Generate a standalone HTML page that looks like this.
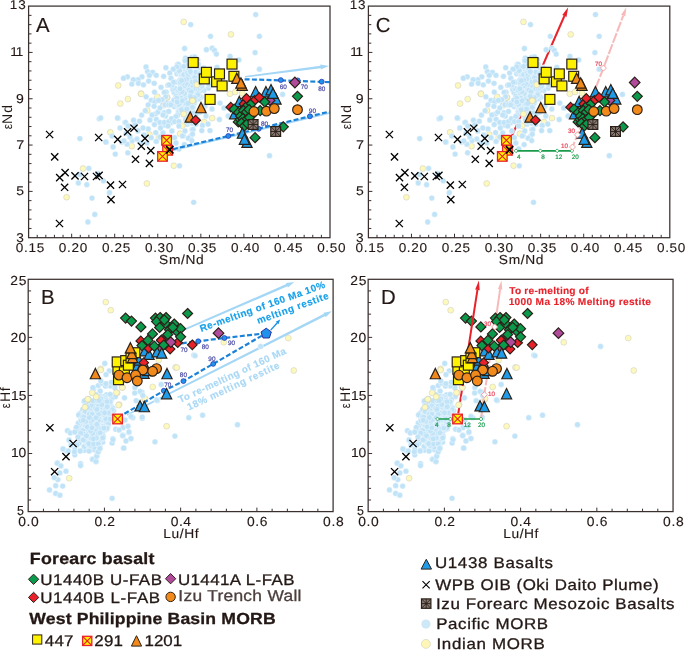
<!DOCTYPE html>
<html><head><meta charset="utf-8"><title>figure</title>
<style>html,body{margin:0;padding:0;background:#fff}svg{display:block;will-change:transform;opacity:.999}text{font-family:"Liberation Sans",sans-serif;text-rendering:geometricPrecision}</style>
</head><body>
<svg width="685" height="650" viewBox="0 0 685 650">
<rect width="685" height="650" fill="#ffffff"/>
<g transform="translate(0 0)">
<path d="M245.09 77.49L320.73 68.32L320.89 69.56L329 66L320.25 64.6L320.41 65.84L244.91 76.11Z" fill="#a4d6f6"/>
<path d="M172.5 150.2L330 112.9" stroke="#a4d6f6" stroke-width="2.0" fill="none" stroke-linecap="butt"/>
<circle cx="184.31" cy="66.86" r="2.9" fill="#c0e3f8" stroke="#ffffff" stroke-width="0.4"/>
<circle cx="196.74" cy="61.22" r="2.9" fill="#c0e3f8" stroke="#ffffff" stroke-width="0.4"/>
<circle cx="192.36" cy="82.33" r="2.9" fill="#c0e3f8" stroke="#ffffff" stroke-width="0.4"/>
<circle cx="174.2" cy="92.54" r="2.9" fill="#c0e3f8" stroke="#ffffff" stroke-width="0.4"/>
<circle cx="173.42" cy="87.22" r="2.9" fill="#c0e3f8" stroke="#ffffff" stroke-width="0.4"/>
<circle cx="188.13" cy="115.53" r="2.9" fill="#c0e3f8" stroke="#ffffff" stroke-width="0.4"/>
<circle cx="176.7" cy="72.07" r="2.9" fill="#c0e3f8" stroke="#ffffff" stroke-width="0.4"/>
<circle cx="195.84" cy="124.24" r="2.9" fill="#c0e3f8" stroke="#ffffff" stroke-width="0.4"/>
<circle cx="193.93" cy="84.56" r="2.9" fill="#c0e3f8" stroke="#ffffff" stroke-width="0.4"/>
<circle cx="204.62" cy="76.85" r="2.9" fill="#c0e3f8" stroke="#ffffff" stroke-width="0.4"/>
<circle cx="177.48" cy="64.48" r="2.9" fill="#c0e3f8" stroke="#ffffff" stroke-width="0.4"/>
<circle cx="183.72" cy="114.76" r="2.9" fill="#c0e3f8" stroke="#ffffff" stroke-width="0.4"/>
<circle cx="178.87" cy="97.88" r="2.9" fill="#c0e3f8" stroke="#ffffff" stroke-width="0.4"/>
<circle cx="196.28" cy="82.81" r="2.9" fill="#c0e3f8" stroke="#ffffff" stroke-width="0.4"/>
<circle cx="192.81" cy="60.52" r="2.9" fill="#c0e3f8" stroke="#ffffff" stroke-width="0.4"/>
<circle cx="197.86" cy="86.79" r="2.9" fill="#c0e3f8" stroke="#ffffff" stroke-width="0.4"/>
<circle cx="183.94" cy="98.16" r="2.9" fill="#c0e3f8" stroke="#ffffff" stroke-width="0.4"/>
<circle cx="189.22" cy="77.58" r="2.9" fill="#c0e3f8" stroke="#ffffff" stroke-width="0.4"/>
<circle cx="202.19" cy="106.33" r="2.9" fill="#c0e3f8" stroke="#ffffff" stroke-width="0.4"/>
<circle cx="181.28" cy="97.36" r="2.9" fill="#c0e3f8" stroke="#ffffff" stroke-width="0.4"/>
<circle cx="191.96" cy="119.01" r="2.9" fill="#c0e3f8" stroke="#ffffff" stroke-width="0.4"/>
<circle cx="199.72" cy="76.73" r="2.9" fill="#c0e3f8" stroke="#ffffff" stroke-width="0.4"/>
<circle cx="187.89" cy="110.51" r="2.9" fill="#c0e3f8" stroke="#ffffff" stroke-width="0.4"/>
<circle cx="177.78" cy="91.21" r="2.9" fill="#c0e3f8" stroke="#ffffff" stroke-width="0.4"/>
<circle cx="173.49" cy="104.11" r="2.9" fill="#c0e3f8" stroke="#ffffff" stroke-width="0.4"/>
<circle cx="201.05" cy="97.26" r="2.9" fill="#c0e3f8" stroke="#ffffff" stroke-width="0.4"/>
<circle cx="205.27" cy="78.59" r="2.9" fill="#c0e3f8" stroke="#ffffff" stroke-width="0.4"/>
<circle cx="198.42" cy="98.79" r="2.9" fill="#c0e3f8" stroke="#ffffff" stroke-width="0.4"/>
<circle cx="194.04" cy="88.85" r="2.9" fill="#c0e3f8" stroke="#ffffff" stroke-width="0.4"/>
<circle cx="190.02" cy="103.82" r="2.9" fill="#c0e3f8" stroke="#ffffff" stroke-width="0.4"/>
<circle cx="174.31" cy="106.51" r="2.9" fill="#c0e3f8" stroke="#ffffff" stroke-width="0.4"/>
<circle cx="203.23" cy="76.49" r="2.9" fill="#c0e3f8" stroke="#ffffff" stroke-width="0.4"/>
<circle cx="186.66" cy="104.14" r="2.9" fill="#c0e3f8" stroke="#ffffff" stroke-width="0.4"/>
<circle cx="172.86" cy="89.24" r="2.9" fill="#c0e3f8" stroke="#ffffff" stroke-width="0.4"/>
<circle cx="178.39" cy="64.43" r="2.9" fill="#c0e3f8" stroke="#ffffff" stroke-width="0.4"/>
<circle cx="176.91" cy="73.83" r="2.9" fill="#c0e3f8" stroke="#ffffff" stroke-width="0.4"/>
<circle cx="186.86" cy="118.74" r="2.9" fill="#c0e3f8" stroke="#ffffff" stroke-width="0.4"/>
<circle cx="175.06" cy="88.34" r="2.9" fill="#c0e3f8" stroke="#ffffff" stroke-width="0.4"/>
<circle cx="192.88" cy="119.6" r="2.9" fill="#c0e3f8" stroke="#ffffff" stroke-width="0.4"/>
<circle cx="182.58" cy="85.9" r="2.9" fill="#c0e3f8" stroke="#ffffff" stroke-width="0.4"/>
<circle cx="185.63" cy="119.66" r="2.9" fill="#c0e3f8" stroke="#ffffff" stroke-width="0.4"/>
<circle cx="178.7" cy="72.7" r="2.9" fill="#c0e3f8" stroke="#ffffff" stroke-width="0.4"/>
<circle cx="180.87" cy="90.92" r="2.9" fill="#c0e3f8" stroke="#ffffff" stroke-width="0.4"/>
<circle cx="194.39" cy="74.92" r="2.9" fill="#c0e3f8" stroke="#ffffff" stroke-width="0.4"/>
<circle cx="172.16" cy="86.16" r="2.9" fill="#c0e3f8" stroke="#ffffff" stroke-width="0.4"/>
<circle cx="186.03" cy="96.78" r="2.9" fill="#c0e3f8" stroke="#ffffff" stroke-width="0.4"/>
<circle cx="191.59" cy="100.47" r="2.9" fill="#c0e3f8" stroke="#ffffff" stroke-width="0.4"/>
<circle cx="197.7" cy="59.89" r="2.9" fill="#c0e3f8" stroke="#ffffff" stroke-width="0.4"/>
<circle cx="186.91" cy="84.73" r="2.9" fill="#c0e3f8" stroke="#ffffff" stroke-width="0.4"/>
<circle cx="175.93" cy="101.67" r="2.9" fill="#c0e3f8" stroke="#ffffff" stroke-width="0.4"/>
<circle cx="179.93" cy="67.69" r="2.9" fill="#c0e3f8" stroke="#ffffff" stroke-width="0.4"/>
<circle cx="184.92" cy="59.79" r="2.9" fill="#c0e3f8" stroke="#ffffff" stroke-width="0.4"/>
<circle cx="175.86" cy="82.18" r="2.9" fill="#c0e3f8" stroke="#ffffff" stroke-width="0.4"/>
<circle cx="195.33" cy="66.7" r="2.9" fill="#c0e3f8" stroke="#ffffff" stroke-width="0.4"/>
<circle cx="181.59" cy="81.01" r="2.9" fill="#c0e3f8" stroke="#ffffff" stroke-width="0.4"/>
<circle cx="185.84" cy="64.84" r="2.9" fill="#c0e3f8" stroke="#ffffff" stroke-width="0.4"/>
<circle cx="189.71" cy="90.84" r="2.9" fill="#c0e3f8" stroke="#ffffff" stroke-width="0.4"/>
<circle cx="185.02" cy="75.06" r="2.9" fill="#c0e3f8" stroke="#ffffff" stroke-width="0.4"/>
<circle cx="203.5" cy="67.62" r="2.9" fill="#c0e3f8" stroke="#ffffff" stroke-width="0.4"/>
<circle cx="192.07" cy="66.56" r="2.9" fill="#c0e3f8" stroke="#ffffff" stroke-width="0.4"/>
<circle cx="192.64" cy="57.95" r="2.9" fill="#c0e3f8" stroke="#ffffff" stroke-width="0.4"/>
<circle cx="204.81" cy="106.13" r="2.9" fill="#c0e3f8" stroke="#ffffff" stroke-width="0.4"/>
<circle cx="181.92" cy="82.4" r="2.9" fill="#c0e3f8" stroke="#ffffff" stroke-width="0.4"/>
<circle cx="178.35" cy="111.58" r="2.9" fill="#c0e3f8" stroke="#ffffff" stroke-width="0.4"/>
<circle cx="192.24" cy="112.09" r="2.9" fill="#c0e3f8" stroke="#ffffff" stroke-width="0.4"/>
<circle cx="184.53" cy="72.06" r="2.9" fill="#c0e3f8" stroke="#ffffff" stroke-width="0.4"/>
<circle cx="203.1" cy="109.27" r="2.9" fill="#c0e3f8" stroke="#ffffff" stroke-width="0.4"/>
<circle cx="180.62" cy="93.27" r="2.9" fill="#c0e3f8" stroke="#ffffff" stroke-width="0.4"/>
<circle cx="185.51" cy="58.09" r="2.9" fill="#c0e3f8" stroke="#ffffff" stroke-width="0.4"/>
<circle cx="181.85" cy="105.86" r="2.9" fill="#c0e3f8" stroke="#ffffff" stroke-width="0.4"/>
<circle cx="208.35" cy="88.2" r="2.9" fill="#c0e3f8" stroke="#ffffff" stroke-width="0.4"/>
<circle cx="208.29" cy="82.25" r="2.9" fill="#c0e3f8" stroke="#ffffff" stroke-width="0.4"/>
<circle cx="180.38" cy="72.33" r="2.9" fill="#c0e3f8" stroke="#ffffff" stroke-width="0.4"/>
<circle cx="179.47" cy="70.71" r="2.9" fill="#c0e3f8" stroke="#ffffff" stroke-width="0.4"/>
<circle cx="195.71" cy="120.82" r="2.9" fill="#c0e3f8" stroke="#ffffff" stroke-width="0.4"/>
<circle cx="203.94" cy="90.52" r="2.9" fill="#c0e3f8" stroke="#ffffff" stroke-width="0.4"/>
<circle cx="196.81" cy="113.57" r="2.9" fill="#c0e3f8" stroke="#ffffff" stroke-width="0.4"/>
<circle cx="175.22" cy="103.56" r="2.9" fill="#c0e3f8" stroke="#ffffff" stroke-width="0.4"/>
<circle cx="200.51" cy="90.42" r="2.9" fill="#c0e3f8" stroke="#ffffff" stroke-width="0.4"/>
<circle cx="178.78" cy="112.82" r="2.9" fill="#c0e3f8" stroke="#ffffff" stroke-width="0.4"/>
<circle cx="184.64" cy="113.66" r="2.9" fill="#c0e3f8" stroke="#ffffff" stroke-width="0.4"/>
<circle cx="208.92" cy="84.5" r="2.9" fill="#c0e3f8" stroke="#ffffff" stroke-width="0.4"/>
<circle cx="187.25" cy="124.17" r="2.9" fill="#c0e3f8" stroke="#ffffff" stroke-width="0.4"/>
<circle cx="199.54" cy="68.24" r="2.9" fill="#c0e3f8" stroke="#ffffff" stroke-width="0.4"/>
<circle cx="176.83" cy="66.88" r="2.9" fill="#c0e3f8" stroke="#ffffff" stroke-width="0.4"/>
<circle cx="177.55" cy="115.51" r="2.9" fill="#c0e3f8" stroke="#ffffff" stroke-width="0.4"/>
<circle cx="185.32" cy="95.5" r="2.9" fill="#c0e3f8" stroke="#ffffff" stroke-width="0.4"/>
<circle cx="192.01" cy="123.22" r="2.9" fill="#c0e3f8" stroke="#ffffff" stroke-width="0.4"/>
<circle cx="188.48" cy="118.77" r="2.9" fill="#c0e3f8" stroke="#ffffff" stroke-width="0.4"/>
<circle cx="203.39" cy="71.2" r="2.9" fill="#c0e3f8" stroke="#ffffff" stroke-width="0.4"/>
<circle cx="181.57" cy="77.09" r="2.9" fill="#c0e3f8" stroke="#ffffff" stroke-width="0.4"/>
<circle cx="181.14" cy="98.22" r="2.9" fill="#c0e3f8" stroke="#ffffff" stroke-width="0.4"/>
<circle cx="181.86" cy="86.17" r="2.9" fill="#c0e3f8" stroke="#ffffff" stroke-width="0.4"/>
<circle cx="185.44" cy="88.99" r="2.9" fill="#c0e3f8" stroke="#ffffff" stroke-width="0.4"/>
<circle cx="194.17" cy="121.11" r="2.9" fill="#c0e3f8" stroke="#ffffff" stroke-width="0.4"/>
<circle cx="187.98" cy="122.08" r="2.9" fill="#c0e3f8" stroke="#ffffff" stroke-width="0.4"/>
<circle cx="191.06" cy="94.29" r="2.9" fill="#c0e3f8" stroke="#ffffff" stroke-width="0.4"/>
<circle cx="191.89" cy="57.35" r="2.9" fill="#c0e3f8" stroke="#ffffff" stroke-width="0.4"/>
<circle cx="188.72" cy="69.18" r="2.9" fill="#c0e3f8" stroke="#ffffff" stroke-width="0.4"/>
<circle cx="178.55" cy="90.09" r="2.9" fill="#c0e3f8" stroke="#ffffff" stroke-width="0.4"/>
<circle cx="199.56" cy="96.07" r="2.9" fill="#c0e3f8" stroke="#ffffff" stroke-width="0.4"/>
<circle cx="184.39" cy="93.32" r="2.9" fill="#c0e3f8" stroke="#ffffff" stroke-width="0.4"/>
<circle cx="193.11" cy="112.47" r="2.9" fill="#c0e3f8" stroke="#ffffff" stroke-width="0.4"/>
<circle cx="176.03" cy="96.34" r="2.9" fill="#c0e3f8" stroke="#ffffff" stroke-width="0.4"/>
<circle cx="181.44" cy="75.94" r="2.9" fill="#c0e3f8" stroke="#ffffff" stroke-width="0.4"/>
<circle cx="170.53" cy="103.39" r="2.9" fill="#c0e3f8" stroke="#ffffff" stroke-width="0.4"/>
<circle cx="165.48" cy="116" r="2.9" fill="#c0e3f8" stroke="#ffffff" stroke-width="0.4"/>
<circle cx="173.9" cy="100.16" r="2.9" fill="#c0e3f8" stroke="#ffffff" stroke-width="0.4"/>
<circle cx="166.7" cy="103.28" r="2.9" fill="#c0e3f8" stroke="#ffffff" stroke-width="0.4"/>
<circle cx="164.29" cy="112.64" r="2.9" fill="#c0e3f8" stroke="#ffffff" stroke-width="0.4"/>
<circle cx="162.86" cy="104.66" r="2.9" fill="#c0e3f8" stroke="#ffffff" stroke-width="0.4"/>
<circle cx="163.47" cy="125.08" r="2.9" fill="#c0e3f8" stroke="#ffffff" stroke-width="0.4"/>
<circle cx="168.78" cy="121.83" r="2.9" fill="#c0e3f8" stroke="#ffffff" stroke-width="0.4"/>
<circle cx="165.43" cy="125.16" r="2.9" fill="#c0e3f8" stroke="#ffffff" stroke-width="0.4"/>
<circle cx="172.16" cy="84.86" r="2.9" fill="#c0e3f8" stroke="#ffffff" stroke-width="0.4"/>
<circle cx="154.92" cy="100.11" r="2.9" fill="#c0e3f8" stroke="#ffffff" stroke-width="0.4"/>
<circle cx="170.81" cy="122.85" r="2.9" fill="#c0e3f8" stroke="#ffffff" stroke-width="0.4"/>
<circle cx="155.71" cy="113.81" r="2.9" fill="#c0e3f8" stroke="#ffffff" stroke-width="0.4"/>
<circle cx="167.85" cy="85.15" r="2.9" fill="#c0e3f8" stroke="#ffffff" stroke-width="0.4"/>
<circle cx="182.37" cy="110.58" r="2.9" fill="#c0e3f8" stroke="#ffffff" stroke-width="0.4"/>
<circle cx="187.55" cy="86.85" r="2.9" fill="#c0e3f8" stroke="#ffffff" stroke-width="0.4"/>
<circle cx="180.68" cy="84.01" r="2.9" fill="#c0e3f8" stroke="#ffffff" stroke-width="0.4"/>
<circle cx="190.95" cy="79.29" r="2.9" fill="#c0e3f8" stroke="#ffffff" stroke-width="0.4"/>
<circle cx="181.68" cy="78.24" r="2.9" fill="#c0e3f8" stroke="#ffffff" stroke-width="0.4"/>
<circle cx="196.94" cy="62.99" r="2.9" fill="#c0e3f8" stroke="#ffffff" stroke-width="0.4"/>
<circle cx="192.07" cy="84.46" r="2.9" fill="#c0e3f8" stroke="#ffffff" stroke-width="0.4"/>
<circle cx="194.09" cy="88.13" r="2.9" fill="#c0e3f8" stroke="#ffffff" stroke-width="0.4"/>
<circle cx="177.15" cy="101.73" r="2.9" fill="#c0e3f8" stroke="#ffffff" stroke-width="0.4"/>
<circle cx="188.25" cy="108.48" r="2.9" fill="#c0e3f8" stroke="#ffffff" stroke-width="0.4"/>
<circle cx="199.75" cy="75.19" r="2.9" fill="#c0e3f8" stroke="#ffffff" stroke-width="0.4"/>
<circle cx="180.33" cy="108.88" r="2.9" fill="#c0e3f8" stroke="#ffffff" stroke-width="0.4"/>
<circle cx="192.55" cy="97.72" r="2.9" fill="#c0e3f8" stroke="#ffffff" stroke-width="0.4"/>
<circle cx="195.96" cy="83.69" r="2.9" fill="#c0e3f8" stroke="#ffffff" stroke-width="0.4"/>
<circle cx="194.4" cy="102.88" r="2.9" fill="#c0e3f8" stroke="#ffffff" stroke-width="0.4"/>
<circle cx="178.43" cy="105.67" r="2.9" fill="#c0e3f8" stroke="#ffffff" stroke-width="0.4"/>
<circle cx="177.93" cy="106" r="2.9" fill="#c0e3f8" stroke="#ffffff" stroke-width="0.4"/>
<circle cx="189.16" cy="79.3" r="2.9" fill="#c0e3f8" stroke="#ffffff" stroke-width="0.4"/>
<circle cx="191.28" cy="74.16" r="2.9" fill="#c0e3f8" stroke="#ffffff" stroke-width="0.4"/>
<circle cx="185.05" cy="77.56" r="2.9" fill="#c0e3f8" stroke="#ffffff" stroke-width="0.4"/>
<circle cx="198.03" cy="76.79" r="2.9" fill="#c0e3f8" stroke="#ffffff" stroke-width="0.4"/>
<circle cx="190.5" cy="71.07" r="2.9" fill="#c0e3f8" stroke="#ffffff" stroke-width="0.4"/>
<circle cx="197.26" cy="90.1" r="2.9" fill="#c0e3f8" stroke="#ffffff" stroke-width="0.4"/>
<circle cx="181.49" cy="86.21" r="2.9" fill="#c0e3f8" stroke="#ffffff" stroke-width="0.4"/>
<circle cx="199.75" cy="84.04" r="2.9" fill="#c0e3f8" stroke="#ffffff" stroke-width="0.4"/>
<circle cx="190.36" cy="104.57" r="2.9" fill="#c0e3f8" stroke="#ffffff" stroke-width="0.4"/>
<circle cx="187.4" cy="87.84" r="2.9" fill="#c0e3f8" stroke="#ffffff" stroke-width="0.4"/>
<circle cx="185.94" cy="104.45" r="2.9" fill="#c0e3f8" stroke="#ffffff" stroke-width="0.4"/>
<circle cx="196.5" cy="94.43" r="2.9" fill="#c0e3f8" stroke="#ffffff" stroke-width="0.4"/>
<circle cx="187.74" cy="79.73" r="2.9" fill="#c0e3f8" stroke="#ffffff" stroke-width="0.4"/>
<circle cx="178.05" cy="99.79" r="2.9" fill="#c0e3f8" stroke="#ffffff" stroke-width="0.4"/>
<circle cx="178.45" cy="104.9" r="2.9" fill="#c0e3f8" stroke="#ffffff" stroke-width="0.4"/>
<circle cx="184.18" cy="74.35" r="2.9" fill="#c0e3f8" stroke="#ffffff" stroke-width="0.4"/>
<circle cx="184.5" cy="85.43" r="2.9" fill="#c0e3f8" stroke="#ffffff" stroke-width="0.4"/>
<circle cx="180.57" cy="84.74" r="2.9" fill="#c0e3f8" stroke="#ffffff" stroke-width="0.4"/>
<circle cx="183.63" cy="111.05" r="2.9" fill="#c0e3f8" stroke="#ffffff" stroke-width="0.4"/>
<circle cx="183.09" cy="111.25" r="2.9" fill="#c0e3f8" stroke="#ffffff" stroke-width="0.4"/>
<circle cx="184.98" cy="80.19" r="2.9" fill="#c0e3f8" stroke="#ffffff" stroke-width="0.4"/>
<circle cx="189.76" cy="87.64" r="2.9" fill="#c0e3f8" stroke="#ffffff" stroke-width="0.4"/>
<circle cx="181.83" cy="87.74" r="2.9" fill="#c0e3f8" stroke="#ffffff" stroke-width="0.4"/>
<circle cx="184.82" cy="73.87" r="2.9" fill="#c0e3f8" stroke="#ffffff" stroke-width="0.4"/>
<circle cx="192.98" cy="88.99" r="2.9" fill="#c0e3f8" stroke="#ffffff" stroke-width="0.4"/>
<circle cx="197.77" cy="95.53" r="2.9" fill="#c0e3f8" stroke="#ffffff" stroke-width="0.4"/>
<circle cx="187.3" cy="78.63" r="2.9" fill="#c0e3f8" stroke="#ffffff" stroke-width="0.4"/>
<circle cx="204.56" cy="69.62" r="2.9" fill="#c0e3f8" stroke="#ffffff" stroke-width="0.4"/>
<circle cx="197" cy="94.8" r="2.9" fill="#c0e3f8" stroke="#ffffff" stroke-width="0.4"/>
<circle cx="177.27" cy="104.6" r="2.9" fill="#c0e3f8" stroke="#ffffff" stroke-width="0.4"/>
<circle cx="180.04" cy="88.71" r="2.9" fill="#c0e3f8" stroke="#ffffff" stroke-width="0.4"/>
<circle cx="190.63" cy="104.58" r="2.9" fill="#c0e3f8" stroke="#ffffff" stroke-width="0.4"/>
<circle cx="192.94" cy="107.53" r="2.9" fill="#c0e3f8" stroke="#ffffff" stroke-width="0.4"/>
<circle cx="195.8" cy="97.36" r="2.9" fill="#c0e3f8" stroke="#ffffff" stroke-width="0.4"/>
<circle cx="179.86" cy="80.4" r="2.9" fill="#c0e3f8" stroke="#ffffff" stroke-width="0.4"/>
<circle cx="179.04" cy="104.63" r="2.9" fill="#c0e3f8" stroke="#ffffff" stroke-width="0.4"/>
<circle cx="192.2" cy="94.02" r="2.9" fill="#c0e3f8" stroke="#ffffff" stroke-width="0.4"/>
<circle cx="194.16" cy="96.71" r="2.9" fill="#c0e3f8" stroke="#ffffff" stroke-width="0.4"/>
<circle cx="190.59" cy="89.3" r="2.9" fill="#c0e3f8" stroke="#ffffff" stroke-width="0.4"/>
<circle cx="195.12" cy="65.37" r="2.9" fill="#c0e3f8" stroke="#ffffff" stroke-width="0.4"/>
<circle cx="197.37" cy="74.86" r="2.9" fill="#c0e3f8" stroke="#ffffff" stroke-width="0.4"/>
<circle cx="197.15" cy="72.47" r="2.9" fill="#c0e3f8" stroke="#ffffff" stroke-width="0.4"/>
<circle cx="190.32" cy="81.51" r="2.9" fill="#c0e3f8" stroke="#ffffff" stroke-width="0.4"/>
<circle cx="189.89" cy="96.87" r="2.9" fill="#c0e3f8" stroke="#ffffff" stroke-width="0.4"/>
<circle cx="198.24" cy="93.47" r="2.9" fill="#c0e3f8" stroke="#ffffff" stroke-width="0.4"/>
<circle cx="194.64" cy="65.95" r="2.9" fill="#c0e3f8" stroke="#ffffff" stroke-width="0.4"/>
<circle cx="197.55" cy="77.53" r="2.9" fill="#c0e3f8" stroke="#ffffff" stroke-width="0.4"/>
<circle cx="195.49" cy="97.3" r="2.9" fill="#c0e3f8" stroke="#ffffff" stroke-width="0.4"/>
<circle cx="195.6" cy="76.83" r="2.9" fill="#c0e3f8" stroke="#ffffff" stroke-width="0.4"/>
<circle cx="190.98" cy="85.7" r="2.9" fill="#c0e3f8" stroke="#ffffff" stroke-width="0.4"/>
<circle cx="189.52" cy="68.04" r="2.9" fill="#c0e3f8" stroke="#ffffff" stroke-width="0.4"/>
<circle cx="201.92" cy="72.16" r="2.9" fill="#c0e3f8" stroke="#ffffff" stroke-width="0.4"/>
<circle cx="189.03" cy="75.7" r="2.9" fill="#c0e3f8" stroke="#ffffff" stroke-width="0.4"/>
<circle cx="182.09" cy="110.22" r="2.9" fill="#c0e3f8" stroke="#ffffff" stroke-width="0.4"/>
<circle cx="182.11" cy="91.66" r="2.9" fill="#c0e3f8" stroke="#ffffff" stroke-width="0.4"/>
<circle cx="180.11" cy="88.73" r="2.9" fill="#c0e3f8" stroke="#ffffff" stroke-width="0.4"/>
<circle cx="203.63" cy="68.76" r="2.9" fill="#c0e3f8" stroke="#ffffff" stroke-width="0.4"/>
<circle cx="199.79" cy="87.95" r="2.9" fill="#c0e3f8" stroke="#ffffff" stroke-width="0.4"/>
<circle cx="182.71" cy="107.78" r="2.9" fill="#c0e3f8" stroke="#ffffff" stroke-width="0.4"/>
<circle cx="189.07" cy="77.4" r="2.9" fill="#c0e3f8" stroke="#ffffff" stroke-width="0.4"/>
<circle cx="185.17" cy="104.85" r="2.9" fill="#c0e3f8" stroke="#ffffff" stroke-width="0.4"/>
<circle cx="200.33" cy="68.12" r="2.9" fill="#c0e3f8" stroke="#ffffff" stroke-width="0.4"/>
<circle cx="202.15" cy="76.78" r="2.9" fill="#c0e3f8" stroke="#ffffff" stroke-width="0.4"/>
<circle cx="186.79" cy="82.04" r="2.9" fill="#c0e3f8" stroke="#ffffff" stroke-width="0.4"/>
<circle cx="186.46" cy="83.83" r="2.9" fill="#c0e3f8" stroke="#ffffff" stroke-width="0.4"/>
<circle cx="178.95" cy="104.57" r="2.9" fill="#c0e3f8" stroke="#ffffff" stroke-width="0.4"/>
<circle cx="184.28" cy="109.72" r="2.9" fill="#c0e3f8" stroke="#ffffff" stroke-width="0.4"/>
<circle cx="183.23" cy="75.55" r="2.9" fill="#c0e3f8" stroke="#ffffff" stroke-width="0.4"/>
<circle cx="190.82" cy="71.68" r="2.9" fill="#c0e3f8" stroke="#ffffff" stroke-width="0.4"/>
<circle cx="186.83" cy="110.76" r="2.9" fill="#c0e3f8" stroke="#ffffff" stroke-width="0.4"/>
<circle cx="196.87" cy="64.52" r="2.9" fill="#c0e3f8" stroke="#ffffff" stroke-width="0.4"/>
<circle cx="197.24" cy="84.99" r="2.9" fill="#c0e3f8" stroke="#ffffff" stroke-width="0.4"/>
<circle cx="197.83" cy="94.87" r="2.9" fill="#c0e3f8" stroke="#ffffff" stroke-width="0.4"/>
<circle cx="202.88" cy="68.49" r="2.9" fill="#c0e3f8" stroke="#ffffff" stroke-width="0.4"/>
<circle cx="189.69" cy="79.53" r="2.9" fill="#c0e3f8" stroke="#ffffff" stroke-width="0.4"/>
<circle cx="184.64" cy="99.69" r="2.9" fill="#c0e3f8" stroke="#ffffff" stroke-width="0.4"/>
<circle cx="204.31" cy="75.27" r="2.9" fill="#c0e3f8" stroke="#ffffff" stroke-width="0.4"/>
<circle cx="195.02" cy="77.34" r="2.9" fill="#c0e3f8" stroke="#ffffff" stroke-width="0.4"/>
<circle cx="192.16" cy="82.11" r="2.9" fill="#c0e3f8" stroke="#ffffff" stroke-width="0.4"/>
<circle cx="182.03" cy="108.2" r="2.9" fill="#c0e3f8" stroke="#ffffff" stroke-width="0.4"/>
<circle cx="190.42" cy="73.22" r="2.9" fill="#c0e3f8" stroke="#ffffff" stroke-width="0.4"/>
<circle cx="189.05" cy="69.12" r="2.9" fill="#c0e3f8" stroke="#ffffff" stroke-width="0.4"/>
<circle cx="182.93" cy="75.18" r="2.9" fill="#c0e3f8" stroke="#ffffff" stroke-width="0.4"/>
<circle cx="192.52" cy="107.25" r="2.9" fill="#c0e3f8" stroke="#ffffff" stroke-width="0.4"/>
<circle cx="197.74" cy="83.05" r="2.9" fill="#c0e3f8" stroke="#ffffff" stroke-width="0.4"/>
<circle cx="188" cy="88.73" r="2.9" fill="#c0e3f8" stroke="#ffffff" stroke-width="0.4"/>
<circle cx="186.93" cy="79.25" r="2.9" fill="#c0e3f8" stroke="#ffffff" stroke-width="0.4"/>
<circle cx="190.6" cy="94.11" r="2.9" fill="#c0e3f8" stroke="#ffffff" stroke-width="0.4"/>
<circle cx="201.02" cy="73.01" r="2.9" fill="#c0e3f8" stroke="#ffffff" stroke-width="0.4"/>
<circle cx="183.86" cy="74.67" r="2.9" fill="#c0e3f8" stroke="#ffffff" stroke-width="0.4"/>
<circle cx="187.59" cy="84.74" r="2.9" fill="#c0e3f8" stroke="#ffffff" stroke-width="0.4"/>
<circle cx="176.94" cy="98.19" r="2.9" fill="#c0e3f8" stroke="#ffffff" stroke-width="0.4"/>
<circle cx="201.98" cy="86.14" r="2.9" fill="#c0e3f8" stroke="#ffffff" stroke-width="0.4"/>
<circle cx="187.35" cy="109.27" r="2.9" fill="#c0e3f8" stroke="#ffffff" stroke-width="0.4"/>
<circle cx="204.19" cy="74.67" r="2.9" fill="#c0e3f8" stroke="#ffffff" stroke-width="0.4"/>
<circle cx="191.15" cy="96.79" r="2.9" fill="#c0e3f8" stroke="#ffffff" stroke-width="0.4"/>
<circle cx="194.77" cy="101" r="2.9" fill="#c0e3f8" stroke="#ffffff" stroke-width="0.4"/>
<circle cx="189.26" cy="90.13" r="2.9" fill="#c0e3f8" stroke="#ffffff" stroke-width="0.4"/>
<circle cx="177.15" cy="101.9" r="2.9" fill="#c0e3f8" stroke="#ffffff" stroke-width="0.4"/>
<circle cx="182.74" cy="108.92" r="2.9" fill="#c0e3f8" stroke="#ffffff" stroke-width="0.4"/>
<circle cx="194.72" cy="77.49" r="2.9" fill="#c0e3f8" stroke="#ffffff" stroke-width="0.4"/>
<circle cx="194.45" cy="97.63" r="2.9" fill="#c0e3f8" stroke="#ffffff" stroke-width="0.4"/>
<circle cx="191.21" cy="91.73" r="2.9" fill="#c0e3f8" stroke="#ffffff" stroke-width="0.4"/>
<circle cx="187.25" cy="73.4" r="2.9" fill="#c0e3f8" stroke="#ffffff" stroke-width="0.4"/>
<circle cx="184.74" cy="85.5" r="2.9" fill="#c0e3f8" stroke="#ffffff" stroke-width="0.4"/>
<circle cx="201.63" cy="86.24" r="2.9" fill="#c0e3f8" stroke="#ffffff" stroke-width="0.4"/>
<circle cx="190.45" cy="96.4" r="2.9" fill="#c0e3f8" stroke="#ffffff" stroke-width="0.4"/>
<circle cx="188.18" cy="75.12" r="2.9" fill="#c0e3f8" stroke="#ffffff" stroke-width="0.4"/>
<circle cx="185.8" cy="83.45" r="2.9" fill="#c0e3f8" stroke="#ffffff" stroke-width="0.4"/>
<circle cx="195.79" cy="72.1" r="2.9" fill="#c0e3f8" stroke="#ffffff" stroke-width="0.4"/>
<circle cx="190.64" cy="72.47" r="2.9" fill="#c0e3f8" stroke="#ffffff" stroke-width="0.4"/>
<circle cx="204.13" cy="77.9" r="2.9" fill="#c0e3f8" stroke="#ffffff" stroke-width="0.4"/>
<circle cx="199.78" cy="73.77" r="2.9" fill="#c0e3f8" stroke="#ffffff" stroke-width="0.4"/>
<circle cx="182.42" cy="100.78" r="2.9" fill="#c0e3f8" stroke="#ffffff" stroke-width="0.4"/>
<circle cx="184.55" cy="110.55" r="2.9" fill="#c0e3f8" stroke="#ffffff" stroke-width="0.4"/>
<circle cx="190.38" cy="71.55" r="2.9" fill="#c0e3f8" stroke="#ffffff" stroke-width="0.4"/>
<circle cx="182.48" cy="83.27" r="2.9" fill="#c0e3f8" stroke="#ffffff" stroke-width="0.4"/>
<circle cx="180.25" cy="82.07" r="2.9" fill="#c0e3f8" stroke="#ffffff" stroke-width="0.4"/>
<circle cx="182.18" cy="111.68" r="2.9" fill="#c0e3f8" stroke="#ffffff" stroke-width="0.4"/>
<circle cx="203.02" cy="78.79" r="2.9" fill="#c0e3f8" stroke="#ffffff" stroke-width="0.4"/>
<circle cx="181.38" cy="109.73" r="2.9" fill="#c0e3f8" stroke="#ffffff" stroke-width="0.4"/>
<circle cx="197.64" cy="63.63" r="2.9" fill="#c0e3f8" stroke="#ffffff" stroke-width="0.4"/>
<circle cx="195.27" cy="81.31" r="2.9" fill="#c0e3f8" stroke="#ffffff" stroke-width="0.4"/>
<circle cx="186.84" cy="78.92" r="2.9" fill="#c0e3f8" stroke="#ffffff" stroke-width="0.4"/>
<circle cx="184.11" cy="79.92" r="2.9" fill="#c0e3f8" stroke="#ffffff" stroke-width="0.4"/>
<circle cx="203.71" cy="68.31" r="2.9" fill="#c0e3f8" stroke="#ffffff" stroke-width="0.4"/>
<circle cx="203.96" cy="72.58" r="2.9" fill="#c0e3f8" stroke="#ffffff" stroke-width="0.4"/>
<circle cx="186.34" cy="103.9" r="2.9" fill="#c0e3f8" stroke="#ffffff" stroke-width="0.4"/>
<circle cx="199.84" cy="84.05" r="2.9" fill="#c0e3f8" stroke="#ffffff" stroke-width="0.4"/>
<circle cx="186.81" cy="108.89" r="2.9" fill="#c0e3f8" stroke="#ffffff" stroke-width="0.4"/>
<circle cx="181.6" cy="80.58" r="2.9" fill="#c0e3f8" stroke="#ffffff" stroke-width="0.4"/>
<circle cx="187.91" cy="103.4" r="2.9" fill="#c0e3f8" stroke="#ffffff" stroke-width="0.4"/>
<circle cx="198.23" cy="64.07" r="2.9" fill="#c0e3f8" stroke="#ffffff" stroke-width="0.4"/>
<circle cx="120.3" cy="103.6" r="2.95" fill="#fdf8bb" stroke="#c4c4c0" stroke-width="0.45"/>
<circle cx="110.3" cy="132.3" r="2.95" fill="#fdf8bb" stroke="#c4c4c0" stroke-width="0.45"/>
<circle cx="83" cy="168.5" r="2.95" fill="#fdf8bb" stroke="#c4c4c0" stroke-width="0.45"/>
<circle cx="66.6" cy="197.2" r="2.95" fill="#fdf8bb" stroke="#c4c4c0" stroke-width="0.45"/>
<circle cx="127.9" cy="99.1" r="2.95" fill="#fdf8bb" stroke="#c4c4c0" stroke-width="0.45"/>
<circle cx="147.2" cy="110.4" r="2.95" fill="#fdf8bb" stroke="#c4c4c0" stroke-width="0.45"/>
<circle cx="157.4" cy="96.8" r="2.95" fill="#fdf8bb" stroke="#c4c4c0" stroke-width="0.45"/>
<circle cx="164" cy="105.2" r="2.95" fill="#fdf8bb" stroke="#c4c4c0" stroke-width="0.45"/>
<circle cx="183.7" cy="114" r="2.95" fill="#fdf8bb" stroke="#c4c4c0" stroke-width="0.45"/>
<circle cx="212.2" cy="118.1" r="2.95" fill="#fdf8bb" stroke="#c4c4c0" stroke-width="0.45"/>
<circle cx="204.2" cy="122" r="2.95" fill="#fdf8bb" stroke="#c4c4c0" stroke-width="0.45"/>
<circle cx="182.3" cy="125.7" r="2.95" fill="#fdf8bb" stroke="#c4c4c0" stroke-width="0.45"/>
<circle cx="180.1" cy="133.7" r="2.95" fill="#fdf8bb" stroke="#c4c4c0" stroke-width="0.45"/>
<circle cx="149.4" cy="134.5" r="2.95" fill="#fdf8bb" stroke="#c4c4c0" stroke-width="0.45"/>
<circle cx="173.8" cy="165.7" r="2.95" fill="#fdf8bb" stroke="#c4c4c0" stroke-width="0.45"/>
<circle cx="146.9" cy="183.5" r="2.95" fill="#fdf8bb" stroke="#c4c4c0" stroke-width="0.45"/>
<circle cx="158.9" cy="137.4" r="2.95" fill="#fdf8bb" stroke="#c4c4c0" stroke-width="0.45"/>
<circle cx="131.8" cy="146.2" r="2.95" fill="#fdf8bb" stroke="#c4c4c0" stroke-width="0.45"/>
<circle cx="183.7" cy="21.9" r="2.95" fill="#fdf8bb" stroke="#c4c4c0" stroke-width="0.45"/>
<circle cx="118.2" cy="85.5" r="2.95" fill="#fdf8bb" stroke="#c4c4c0" stroke-width="0.45"/>
<circle cx="141" cy="93.6" r="2.95" fill="#fdf8bb" stroke="#c4c4c0" stroke-width="0.45"/>
<circle cx="196.9" cy="84.8" r="2.95" fill="#fdf8bb" stroke="#c4c4c0" stroke-width="0.45"/>
<circle cx="230.9" cy="34.4" r="2.95" fill="#fdf8bb" stroke="#c4c4c0" stroke-width="0.45"/>
<circle cx="141.2" cy="93.9" r="2.95" fill="#fdf8bb" stroke="#c4c4c0" stroke-width="0.45"/>
<circle cx="167.3" cy="97.5" r="2.95" fill="#fdf8bb" stroke="#c4c4c0" stroke-width="0.45"/>
<circle cx="192.1" cy="100.4" r="2.95" fill="#fdf8bb" stroke="#c4c4c0" stroke-width="0.45"/>
<circle cx="229.9" cy="93.8" r="2.95" fill="#fdf8bb" stroke="#c4c4c0" stroke-width="0.45"/>
<circle cx="235.2" cy="92" r="2.95" fill="#fdf8bb" stroke="#c4c4c0" stroke-width="0.45"/>
<circle cx="242.2" cy="93.2" r="2.95" fill="#fdf8bb" stroke="#c4c4c0" stroke-width="0.45"/>
<circle cx="166.8" cy="97.3" r="2.95" fill="#fdf8bb" stroke="#c4c4c0" stroke-width="0.45"/>
<circle cx="192.5" cy="100.8" r="2.95" fill="#fdf8bb" stroke="#c4c4c0" stroke-width="0.45"/>
<circle cx="99.3" cy="118.8" r="2.9" fill="#c0e3f8" stroke="#ffffff" stroke-width="0.4"/>
<circle cx="117.9" cy="118.3" r="2.9" fill="#c0e3f8" stroke="#ffffff" stroke-width="0.4"/>
<circle cx="125" cy="122.6" r="2.9" fill="#c0e3f8" stroke="#ffffff" stroke-width="0.4"/>
<circle cx="79.9" cy="138.6" r="2.9" fill="#c0e3f8" stroke="#ffffff" stroke-width="0.4"/>
<circle cx="106.2" cy="142" r="2.9" fill="#c0e3f8" stroke="#ffffff" stroke-width="0.4"/>
<circle cx="113.1" cy="147" r="2.9" fill="#c0e3f8" stroke="#ffffff" stroke-width="0.4"/>
<circle cx="121.8" cy="142" r="2.9" fill="#c0e3f8" stroke="#ffffff" stroke-width="0.4"/>
<circle cx="115.3" cy="154.1" r="2.9" fill="#c0e3f8" stroke="#ffffff" stroke-width="0.4"/>
<circle cx="127.1" cy="144.2" r="2.9" fill="#c0e3f8" stroke="#ffffff" stroke-width="0.4"/>
<circle cx="127.8" cy="152.8" r="2.9" fill="#c0e3f8" stroke="#ffffff" stroke-width="0.4"/>
<circle cx="88.8" cy="168.3" r="2.9" fill="#c0e3f8" stroke="#ffffff" stroke-width="0.4"/>
<circle cx="79.7" cy="174.4" r="2.9" fill="#c0e3f8" stroke="#ffffff" stroke-width="0.4"/>
<circle cx="98" cy="173.7" r="2.9" fill="#c0e3f8" stroke="#ffffff" stroke-width="0.4"/>
<circle cx="103.4" cy="180.8" r="2.9" fill="#c0e3f8" stroke="#ffffff" stroke-width="0.4"/>
<circle cx="78.4" cy="183" r="2.9" fill="#c0e3f8" stroke="#ffffff" stroke-width="0.4"/>
<circle cx="86.8" cy="184.7" r="2.9" fill="#c0e3f8" stroke="#ffffff" stroke-width="0.4"/>
<circle cx="109.5" cy="192.7" r="2.9" fill="#c0e3f8" stroke="#ffffff" stroke-width="0.4"/>
<circle cx="92" cy="198.1" r="2.9" fill="#c0e3f8" stroke="#ffffff" stroke-width="0.4"/>
<circle cx="94.8" cy="214.4" r="2.9" fill="#c0e3f8" stroke="#ffffff" stroke-width="0.4"/>
<circle cx="87.9" cy="222" r="2.9" fill="#c0e3f8" stroke="#ffffff" stroke-width="0.4"/>
<circle cx="190.7" cy="24.6" r="2.9" fill="#c0e3f8" stroke="#ffffff" stroke-width="0.4"/>
<circle cx="210.5" cy="36.3" r="2.9" fill="#c0e3f8" stroke="#ffffff" stroke-width="0.4"/>
<circle cx="184.6" cy="48.5" r="2.9" fill="#c0e3f8" stroke="#ffffff" stroke-width="0.4"/>
<circle cx="206.4" cy="49.7" r="2.9" fill="#c0e3f8" stroke="#ffffff" stroke-width="0.4"/>
<circle cx="212.2" cy="48.2" r="2.9" fill="#c0e3f8" stroke="#ffffff" stroke-width="0.4"/>
<circle cx="194.7" cy="57" r="2.9" fill="#c0e3f8" stroke="#ffffff" stroke-width="0.4"/>
<circle cx="185.2" cy="60.7" r="2.9" fill="#c0e3f8" stroke="#ffffff" stroke-width="0.4"/>
<circle cx="183.7" cy="66.5" r="2.9" fill="#c0e3f8" stroke="#ffffff" stroke-width="0.4"/>
<circle cx="146" cy="67" r="2.9" fill="#c0e3f8" stroke="#ffffff" stroke-width="0.4"/>
<circle cx="147.5" cy="71.6" r="2.9" fill="#c0e3f8" stroke="#ffffff" stroke-width="0.4"/>
<circle cx="152.7" cy="72.4" r="2.9" fill="#c0e3f8" stroke="#ffffff" stroke-width="0.4"/>
<circle cx="156.2" cy="75.3" r="2.9" fill="#c0e3f8" stroke="#ffffff" stroke-width="0.4"/>
<circle cx="149.4" cy="75.3" r="2.9" fill="#c0e3f8" stroke="#ffffff" stroke-width="0.4"/>
<circle cx="142" cy="76.8" r="2.9" fill="#c0e3f8" stroke="#ffffff" stroke-width="0.4"/>
<circle cx="138.1" cy="79.7" r="2.9" fill="#c0e3f8" stroke="#ffffff" stroke-width="0.4"/>
<circle cx="133.3" cy="79.7" r="2.9" fill="#c0e3f8" stroke="#ffffff" stroke-width="0.4"/>
<circle cx="127.4" cy="76.8" r="2.9" fill="#c0e3f8" stroke="#ffffff" stroke-width="0.4"/>
<circle cx="123.5" cy="78.2" r="2.9" fill="#c0e3f8" stroke="#ffffff" stroke-width="0.4"/>
<circle cx="131.8" cy="84.1" r="2.9" fill="#c0e3f8" stroke="#ffffff" stroke-width="0.4"/>
<circle cx="138.4" cy="83.3" r="2.9" fill="#c0e3f8" stroke="#ffffff" stroke-width="0.4"/>
<circle cx="143.5" cy="84.8" r="2.9" fill="#c0e3f8" stroke="#ffffff" stroke-width="0.4"/>
<circle cx="148.6" cy="81.1" r="2.9" fill="#c0e3f8" stroke="#ffffff" stroke-width="0.4"/>
<circle cx="154.2" cy="83.3" r="2.9" fill="#c0e3f8" stroke="#ffffff" stroke-width="0.4"/>
<circle cx="165.9" cy="67.7" r="2.9" fill="#c0e3f8" stroke="#ffffff" stroke-width="0.4"/>
<circle cx="173.2" cy="69.2" r="2.9" fill="#c0e3f8" stroke="#ffffff" stroke-width="0.4"/>
<circle cx="169.8" cy="73.1" r="2.9" fill="#c0e3f8" stroke="#ffffff" stroke-width="0.4"/>
<circle cx="163.7" cy="76.3" r="2.9" fill="#c0e3f8" stroke="#ffffff" stroke-width="0.4"/>
<circle cx="171" cy="78.2" r="2.9" fill="#c0e3f8" stroke="#ffffff" stroke-width="0.4"/>
<circle cx="173.5" cy="82.2" r="2.9" fill="#c0e3f8" stroke="#ffffff" stroke-width="0.4"/>
<circle cx="169.1" cy="84.8" r="2.9" fill="#c0e3f8" stroke="#ffffff" stroke-width="0.4"/>
<circle cx="161" cy="87.3" r="2.9" fill="#c0e3f8" stroke="#ffffff" stroke-width="0.4"/>
<circle cx="154.5" cy="92.1" r="2.9" fill="#c0e3f8" stroke="#ffffff" stroke-width="0.4"/>
<circle cx="166.2" cy="92.1" r="2.9" fill="#c0e3f8" stroke="#ffffff" stroke-width="0.4"/>
<circle cx="255.7" cy="14.6" r="2.9" fill="#c0e3f8" stroke="#ffffff" stroke-width="0.4"/>
<circle cx="259.4" cy="36.3" r="2.9" fill="#c0e3f8" stroke="#ffffff" stroke-width="0.4"/>
<circle cx="255.1" cy="52.6" r="2.9" fill="#c0e3f8" stroke="#ffffff" stroke-width="0.4"/>
<circle cx="214.5" cy="50.5" r="2.9" fill="#c0e3f8" stroke="#ffffff" stroke-width="0.4"/>
<circle cx="216.4" cy="54.1" r="2.9" fill="#c0e3f8" stroke="#ffffff" stroke-width="0.4"/>
<circle cx="230.1" cy="56.3" r="2.9" fill="#c0e3f8" stroke="#ffffff" stroke-width="0.4"/>
<circle cx="238.9" cy="59.9" r="2.9" fill="#c0e3f8" stroke="#ffffff" stroke-width="0.4"/>
<circle cx="259.4" cy="69.2" r="2.9" fill="#c0e3f8" stroke="#ffffff" stroke-width="0.4"/>
<circle cx="217" cy="67.3" r="2.9" fill="#c0e3f8" stroke="#ffffff" stroke-width="0.4"/>
<circle cx="146.1" cy="96.8" r="2.9" fill="#c0e3f8" stroke="#ffffff" stroke-width="0.4"/>
<circle cx="151.2" cy="100.4" r="2.9" fill="#c0e3f8" stroke="#ffffff" stroke-width="0.4"/>
<circle cx="154.8" cy="101.9" r="2.9" fill="#c0e3f8" stroke="#ffffff" stroke-width="0.4"/>
<circle cx="148.2" cy="104.8" r="2.9" fill="#c0e3f8" stroke="#ffffff" stroke-width="0.4"/>
<circle cx="154.1" cy="106.3" r="2.9" fill="#c0e3f8" stroke="#ffffff" stroke-width="0.4"/>
<circle cx="164.3" cy="92.4" r="2.9" fill="#c0e3f8" stroke="#ffffff" stroke-width="0.4"/>
<circle cx="165.8" cy="96.8" r="2.9" fill="#c0e3f8" stroke="#ffffff" stroke-width="0.4"/>
<circle cx="162.1" cy="99.7" r="2.9" fill="#c0e3f8" stroke="#ffffff" stroke-width="0.4"/>
<circle cx="158.5" cy="100.4" r="2.9" fill="#c0e3f8" stroke="#ffffff" stroke-width="0.4"/>
<circle cx="165.1" cy="104.8" r="2.9" fill="#c0e3f8" stroke="#ffffff" stroke-width="0.4"/>
<circle cx="168.7" cy="104.8" r="2.9" fill="#c0e3f8" stroke="#ffffff" stroke-width="0.4"/>
<circle cx="170.9" cy="104.8" r="2.9" fill="#c0e3f8" stroke="#ffffff" stroke-width="0.4"/>
<circle cx="168.7" cy="111.4" r="2.9" fill="#c0e3f8" stroke="#ffffff" stroke-width="0.4"/>
<circle cx="117.5" cy="118" r="2.9" fill="#c0e3f8" stroke="#ffffff" stroke-width="0.4"/>
<circle cx="125.6" cy="122.4" r="2.9" fill="#c0e3f8" stroke="#ffffff" stroke-width="0.4"/>
<circle cx="133.6" cy="120.2" r="2.9" fill="#c0e3f8" stroke="#ffffff" stroke-width="0.4"/>
<circle cx="139.5" cy="121.2" r="2.9" fill="#c0e3f8" stroke="#ffffff" stroke-width="0.4"/>
<circle cx="141.7" cy="115.1" r="2.9" fill="#c0e3f8" stroke="#ffffff" stroke-width="0.4"/>
<circle cx="145.3" cy="110.7" r="2.9" fill="#c0e3f8" stroke="#ffffff" stroke-width="0.4"/>
<circle cx="156.3" cy="119.4" r="2.9" fill="#c0e3f8" stroke="#ffffff" stroke-width="0.4"/>
<circle cx="159.9" cy="122.4" r="2.9" fill="#c0e3f8" stroke="#ffffff" stroke-width="0.4"/>
<circle cx="154.4" cy="124.6" r="2.9" fill="#c0e3f8" stroke="#ffffff" stroke-width="0.4"/>
<circle cx="164.3" cy="122.4" r="2.9" fill="#c0e3f8" stroke="#ffffff" stroke-width="0.4"/>
<circle cx="168.7" cy="121.6" r="2.9" fill="#c0e3f8" stroke="#ffffff" stroke-width="0.4"/>
<circle cx="171.6" cy="118.7" r="2.9" fill="#c0e3f8" stroke="#ffffff" stroke-width="0.4"/>
<circle cx="176" cy="116.5" r="2.9" fill="#c0e3f8" stroke="#ffffff" stroke-width="0.4"/>
<circle cx="174.6" cy="121.6" r="2.9" fill="#c0e3f8" stroke="#ffffff" stroke-width="0.4"/>
<circle cx="178.9" cy="121.6" r="2.9" fill="#c0e3f8" stroke="#ffffff" stroke-width="0.4"/>
<circle cx="168" cy="126" r="2.9" fill="#c0e3f8" stroke="#ffffff" stroke-width="0.4"/>
<circle cx="178.9" cy="126" r="2.9" fill="#c0e3f8" stroke="#ffffff" stroke-width="0.4"/>
<circle cx="148.2" cy="128.9" r="2.9" fill="#c0e3f8" stroke="#ffffff" stroke-width="0.4"/>
<circle cx="155.8" cy="132.6" r="2.9" fill="#c0e3f8" stroke="#ffffff" stroke-width="0.4"/>
<circle cx="151.2" cy="137.7" r="2.9" fill="#c0e3f8" stroke="#ffffff" stroke-width="0.4"/>
<circle cx="156.3" cy="141.4" r="2.9" fill="#c0e3f8" stroke="#ffffff" stroke-width="0.4"/>
<circle cx="132.2" cy="140.6" r="2.9" fill="#c0e3f8" stroke="#ffffff" stroke-width="0.4"/>
<circle cx="126.3" cy="133.3" r="2.9" fill="#c0e3f8" stroke="#ffffff" stroke-width="0.4"/>
<circle cx="105.8" cy="142.1" r="2.9" fill="#c0e3f8" stroke="#ffffff" stroke-width="0.4"/>
<circle cx="100.7" cy="118" r="2.9" fill="#c0e3f8" stroke="#ffffff" stroke-width="0.4"/>
<circle cx="192.1" cy="129.7" r="2.9" fill="#c0e3f8" stroke="#ffffff" stroke-width="0.4"/>
<circle cx="190.6" cy="136.3" r="2.9" fill="#c0e3f8" stroke="#ffffff" stroke-width="0.4"/>
<circle cx="183.3" cy="135.5" r="2.9" fill="#c0e3f8" stroke="#ffffff" stroke-width="0.4"/>
<circle cx="174.6" cy="137.7" r="2.9" fill="#c0e3f8" stroke="#ffffff" stroke-width="0.4"/>
<circle cx="219.4" cy="119.5" r="2.9" fill="#c0e3f8" stroke="#ffffff" stroke-width="0.4"/>
<circle cx="220" cy="103.1" r="2.9" fill="#c0e3f8" stroke="#ffffff" stroke-width="0.4"/>
<circle cx="210" cy="130.6" r="2.9" fill="#c0e3f8" stroke="#ffffff" stroke-width="0.4"/>
<circle cx="202.4" cy="125.4" r="2.9" fill="#c0e3f8" stroke="#ffffff" stroke-width="0.4"/>
<circle cx="201.8" cy="130.6" r="2.9" fill="#c0e3f8" stroke="#ffffff" stroke-width="0.4"/>
<circle cx="193" cy="129.4" r="2.9" fill="#c0e3f8" stroke="#ffffff" stroke-width="0.4"/>
<circle cx="192.5" cy="134.1" r="2.9" fill="#c0e3f8" stroke="#ffffff" stroke-width="0.4"/>
<circle cx="188.4" cy="138.2" r="2.9" fill="#c0e3f8" stroke="#ffffff" stroke-width="0.4"/>
<circle cx="182.5" cy="135.9" r="2.9" fill="#c0e3f8" stroke="#ffffff" stroke-width="0.4"/>
<circle cx="191.9" cy="140.6" r="2.9" fill="#c0e3f8" stroke="#ffffff" stroke-width="0.4"/>
<circle cx="184.3" cy="144.6" r="2.9" fill="#c0e3f8" stroke="#ffffff" stroke-width="0.4"/>
<circle cx="228.2" cy="116" r="2.9" fill="#c0e3f8" stroke="#ffffff" stroke-width="0.4"/>
<circle cx="179.5" cy="165.8" r="2.9" fill="#c0e3f8" stroke="#ffffff" stroke-width="0.4"/>
<circle cx="193.7" cy="202.3" r="2.9" fill="#c0e3f8" stroke="#ffffff" stroke-width="0.4"/>
<circle cx="269.5" cy="155.7" r="2.9" fill="#c0e3f8" stroke="#ffffff" stroke-width="0.4"/>
<circle cx="282.6" cy="94.4" r="2.9" fill="#c0e3f8" stroke="#ffffff" stroke-width="0.4"/>
<circle cx="160.5" cy="128" r="2.9" fill="#c0e3f8" stroke="#ffffff" stroke-width="0.4"/>
<circle cx="163" cy="133" r="2.9" fill="#c0e3f8" stroke="#ffffff" stroke-width="0.4"/>
<circle cx="168" cy="137" r="2.9" fill="#c0e3f8" stroke="#ffffff" stroke-width="0.4"/>
<circle cx="172" cy="131" r="2.9" fill="#c0e3f8" stroke="#ffffff" stroke-width="0.4"/>
<circle cx="166" cy="141" r="2.9" fill="#c0e3f8" stroke="#ffffff" stroke-width="0.4"/>
<circle cx="160" cy="137" r="2.9" fill="#c0e3f8" stroke="#ffffff" stroke-width="0.4"/>
<circle cx="176" cy="143" r="2.9" fill="#c0e3f8" stroke="#ffffff" stroke-width="0.4"/>
<circle cx="171" cy="146" r="2.9" fill="#c0e3f8" stroke="#ffffff" stroke-width="0.4"/>
<circle cx="179" cy="149" r="2.9" fill="#c0e3f8" stroke="#ffffff" stroke-width="0.4"/>
<circle cx="143" cy="128" r="2.9" fill="#c0e3f8" stroke="#ffffff" stroke-width="0.4"/>
<circle cx="138" cy="131" r="2.9" fill="#c0e3f8" stroke="#ffffff" stroke-width="0.4"/>
<circle cx="144" cy="135" r="2.9" fill="#c0e3f8" stroke="#ffffff" stroke-width="0.4"/>
<circle cx="137" cy="139" r="2.9" fill="#c0e3f8" stroke="#ffffff" stroke-width="0.4"/>
<circle cx="141" cy="143" r="2.9" fill="#c0e3f8" stroke="#ffffff" stroke-width="0.4"/>
<circle cx="147" cy="143" r="2.9" fill="#c0e3f8" stroke="#ffffff" stroke-width="0.4"/>
<circle cx="130" cy="137" r="2.9" fill="#c0e3f8" stroke="#ffffff" stroke-width="0.4"/>
<circle cx="124" cy="141" r="2.9" fill="#c0e3f8" stroke="#ffffff" stroke-width="0.4"/>
<circle cx="112" cy="136" r="2.9" fill="#c0e3f8" stroke="#ffffff" stroke-width="0.4"/>
<circle cx="120" cy="128" r="2.9" fill="#c0e3f8" stroke="#ffffff" stroke-width="0.4"/>
<circle cx="128" cy="126" r="2.9" fill="#c0e3f8" stroke="#ffffff" stroke-width="0.4"/>
<circle cx="135" cy="125" r="2.9" fill="#c0e3f8" stroke="#ffffff" stroke-width="0.4"/>
<circle cx="152" cy="115" r="2.9" fill="#c0e3f8" stroke="#ffffff" stroke-width="0.4"/>
<circle cx="158" cy="112" r="2.9" fill="#c0e3f8" stroke="#ffffff" stroke-width="0.4"/>
<circle cx="163" cy="115" r="2.9" fill="#c0e3f8" stroke="#ffffff" stroke-width="0.4"/>
<circle cx="150" cy="120" r="2.9" fill="#c0e3f8" stroke="#ffffff" stroke-width="0.4"/>
<circle cx="160" cy="108" r="2.9" fill="#c0e3f8" stroke="#ffffff" stroke-width="0.4"/>
<circle cx="200" cy="112" r="2.9" fill="#c0e3f8" stroke="#ffffff" stroke-width="0.4"/>
<circle cx="206" cy="116" r="2.9" fill="#c0e3f8" stroke="#ffffff" stroke-width="0.4"/>
<circle cx="212" cy="109" r="2.9" fill="#c0e3f8" stroke="#ffffff" stroke-width="0.4"/>
<circle cx="221" cy="84" r="2.9" fill="#c0e3f8" stroke="#ffffff" stroke-width="0.4"/>
<circle cx="224" cy="108" r="2.9" fill="#c0e3f8" stroke="#ffffff" stroke-width="0.4"/>
<circle cx="208" cy="124" r="2.9" fill="#c0e3f8" stroke="#ffffff" stroke-width="0.4"/>
<circle cx="185" cy="131" r="2.9" fill="#c0e3f8" stroke="#ffffff" stroke-width="0.4"/>
<circle cx="198" cy="120" r="2.9" fill="#c0e3f8" stroke="#ffffff" stroke-width="0.4"/>
<path d="M244.6 79.3L265 79.8L329.6 82.2" stroke="#1b82d8" stroke-width="2.2" fill="none" stroke-dasharray="5 2.3" stroke-linecap="butt"/>
<path d="M172.9 149.2L228.3 136L265 127.1L329.6 111.6" stroke="#1b82d8" stroke-width="2.2" fill="none" stroke-dasharray="5 2.3" stroke-linecap="butt"/>
<circle cx="280.8" cy="80.1" r="2.45" fill="#1f93ec" stroke="#2b3bb8" stroke-width="0.8"/>
<circle cx="297.7" cy="80.4" r="2.45" fill="#1f93ec" stroke="#2b3bb8" stroke-width="0.8"/>
<circle cx="321.7" cy="81.7" r="2.45" fill="#1f93ec" stroke="#2b3bb8" stroke-width="0.8"/>
<circle cx="228.3" cy="136" r="2.45" fill="#1f93ec" stroke="#2b3bb8" stroke-width="0.8"/>
<circle cx="258.7" cy="128.8" r="2.45" fill="#1f93ec" stroke="#2b3bb8" stroke-width="0.8"/>
<circle cx="309.9" cy="116.3" r="2.45" fill="#1f93ec" stroke="#2b3bb8" stroke-width="0.8"/>
<text x="283.2" y="88.6" font-size="6.4" fill="#4a4aa6" stroke="#4a4aa6" stroke-width="0.2" text-anchor="middle">60</text>
<text x="304.3" y="88.9" font-size="6.4" fill="#4a4aa6" stroke="#4a4aa6" stroke-width="0.2" text-anchor="middle">70</text>
<text x="321.7" y="90.6" font-size="6.4" fill="#4a4aa6" stroke="#4a4aa6" stroke-width="0.2" text-anchor="middle">80</text>
<text x="229.6" y="132.2" font-size="6.4" fill="#4a4aa6" stroke="#4a4aa6" stroke-width="0.2" text-anchor="middle">70</text>
<text x="264.5" y="126.2" font-size="6.4" fill="#4a4aa6" stroke="#4a4aa6" stroke-width="0.2" text-anchor="middle">80</text>
<text x="312.4" y="112.6" font-size="6.4" fill="#4a4aa6" stroke="#4a4aa6" stroke-width="0.2" text-anchor="middle">90</text>
<path d="M46 130.9L53.2 138.1M46 138.1L53.2 130.9" stroke="#000000" stroke-width="1.3" fill="none"/>
<path d="M51.1 153.3L58.3 160.5M51.1 160.5L58.3 153.3" stroke="#000000" stroke-width="1.3" fill="none"/>
<path d="M61.5 169L68.7 176.2M61.5 176.2L68.7 169" stroke="#000000" stroke-width="1.3" fill="none"/>
<path d="M56.1 174L63.3 181.2M56.1 181.2L63.3 174" stroke="#000000" stroke-width="1.3" fill="none"/>
<path d="M61 183.7L68.2 190.9M61 190.9L68.2 183.7" stroke="#000000" stroke-width="1.3" fill="none"/>
<path d="M71.4 172.3L78.6 179.5M71.4 179.5L78.6 172.3" stroke="#000000" stroke-width="1.3" fill="none"/>
<path d="M80.9 172.9L88.1 180.1M80.9 180.1L88.1 172.9" stroke="#000000" stroke-width="1.3" fill="none"/>
<path d="M92.9 172.9L100.1 180.1M92.9 180.1L100.1 172.9" stroke="#000000" stroke-width="1.3" fill="none"/>
<path d="M95.5 171.8L102.7 179M95.5 179L102.7 171.8" stroke="#000000" stroke-width="1.3" fill="none"/>
<path d="M106.9 181.5L114.1 188.7M106.9 188.7L114.1 181.5" stroke="#000000" stroke-width="1.3" fill="none"/>
<path d="M118.9 180.9L126.1 188.1M118.9 188.1L126.1 180.9" stroke="#000000" stroke-width="1.3" fill="none"/>
<path d="M107.4 196L114.6 203.2M107.4 203.2L114.6 196" stroke="#000000" stroke-width="1.3" fill="none"/>
<path d="M55.9 219.9L63.1 227.1M55.9 227.1L63.1 219.9" stroke="#000000" stroke-width="1.3" fill="none"/>
<path d="M95.1 133.9L102.3 141.1M95.1 141.1L102.3 133.9" stroke="#000000" stroke-width="1.3" fill="none"/>
<path d="M114.1 135.8L121.3 143M114.1 143L121.3 135.8" stroke="#000000" stroke-width="1.3" fill="none"/>
<path d="M124 128.2L131.2 135.4M124 135.4L131.2 128.2" stroke="#000000" stroke-width="1.3" fill="none"/>
<path d="M130.4 124.6L137.6 131.8M130.4 131.8L137.6 124.6" stroke="#000000" stroke-width="1.3" fill="none"/>
<path d="M141.4 134.8L148.6 142M141.4 142L148.6 134.8" stroke="#000000" stroke-width="1.3" fill="none"/>
<path d="M137.7 142.6L144.9 149.8M137.7 149.8L144.9 142.6" stroke="#000000" stroke-width="1.3" fill="none"/>
<path d="M147.2 147L154.4 154.2M147.2 154.2L154.4 147" stroke="#000000" stroke-width="1.3" fill="none"/>
<path d="M131.9 155.7L139.1 162.9M131.9 162.9L139.1 155.7" stroke="#000000" stroke-width="1.3" fill="none"/>
<path d="M145.8 159.8L153 167M145.8 167L153 159.8" stroke="#000000" stroke-width="1.3" fill="none"/>
<path d="M234.7 108.55L239.8 118.85L229.6 118.85Z" fill="#1e9ce9" stroke="#2a2018" stroke-width="1.2" stroke-linejoin="miter"/>
<path d="M239.3 96.35L244.4 106.65L234.2 106.65Z" fill="#1e9ce9" stroke="#2a2018" stroke-width="1.2" stroke-linejoin="miter"/>
<path d="M276 93.75L281.1 104.05L270.9 104.05Z" fill="#1e9ce9" stroke="#2a2018" stroke-width="1.2" stroke-linejoin="miter"/>
<path d="M255.6 86.55L260.7 96.85L250.5 96.85Z" fill="#1e9ce9" stroke="#2a2018" stroke-width="1.2" stroke-linejoin="miter"/>
<path d="M265.9 86.55L271 96.85L260.8 96.85Z" fill="#1e9ce9" stroke="#2a2018" stroke-width="1.2" stroke-linejoin="miter"/>
<path d="M271 84.55L276.1 94.85L265.9 94.85Z" fill="#1e9ce9" stroke="#2a2018" stroke-width="1.2" stroke-linejoin="miter"/>
<path d="M269.9 95.4L274.9 100.4L269.9 105.4L264.9 100.4Z" fill="#b24a9c" stroke="#2a2018" stroke-width="1.2" stroke-linejoin="miter"/>
<path d="M230.8 102.4L235.6 107.2L230.8 112L226 107.2Z" fill="#e8212b" stroke="#2a2018" stroke-width="1.2" stroke-linejoin="miter"/>
<path d="M243.9 99.2L248.7 104L243.9 108.8L239.1 104Z" fill="#e8212b" stroke="#2a2018" stroke-width="1.2" stroke-linejoin="miter"/>
<path d="M246.5 93.6L251.3 98.4L246.5 103.2L241.7 98.4Z" fill="#e8212b" stroke="#2a2018" stroke-width="1.2" stroke-linejoin="miter"/>
<path d="M254.6 95.6L259.4 100.4L254.6 105.2L249.8 100.4Z" fill="#e8212b" stroke="#2a2018" stroke-width="1.2" stroke-linejoin="miter"/>
<path d="M259.2 92.6L264 97.4L259.2 102.2L254.4 97.4Z" fill="#e8212b" stroke="#2a2018" stroke-width="1.2" stroke-linejoin="miter"/>
<path d="M238.3 116.9L243.3 121.9L238.3 126.9L233.3 121.9Z" fill="#0b9a4c" stroke="#2a2018" stroke-width="1.2" stroke-linejoin="miter"/>
<path d="M240.3 114.3L245.3 119.3L240.3 124.3L235.3 119.3Z" fill="#0b9a4c" stroke="#2a2018" stroke-width="1.2" stroke-linejoin="miter"/>
<path d="M243.4 118.9L248.4 123.9L243.4 128.9L238.4 123.9Z" fill="#0b9a4c" stroke="#2a2018" stroke-width="1.2" stroke-linejoin="miter"/>
<path d="M245.9 110.2L250.9 115.2L245.9 120.2L240.9 115.2Z" fill="#0b9a4c" stroke="#2a2018" stroke-width="1.2" stroke-linejoin="miter"/>
<path d="M250.5 99.5L255.5 104.5L250.5 109.5L245.5 104.5Z" fill="#0b9a4c" stroke="#2a2018" stroke-width="1.2" stroke-linejoin="miter"/>
<path d="M245.4 102.6L250.4 107.6L245.4 112.6L240.4 107.6Z" fill="#0b9a4c" stroke="#2a2018" stroke-width="1.2" stroke-linejoin="miter"/>
<path d="M234.2 104.1L239.2 109.1L234.2 114.1L229.2 109.1Z" fill="#0b9a4c" stroke="#2a2018" stroke-width="1.2" stroke-linejoin="miter"/>
<path d="M260.2 105.6L265.2 110.6L260.2 115.6L255.2 110.6Z" fill="#0b9a4c" stroke="#2a2018" stroke-width="1.2" stroke-linejoin="miter"/>
<path d="M264.8 97L269.8 102L264.8 107L259.8 102Z" fill="#0b9a4c" stroke="#2a2018" stroke-width="1.2" stroke-linejoin="miter"/>
<path d="M255.1 132.7L260.1 137.7L255.1 142.7L250.1 137.7Z" fill="#0b9a4c" stroke="#2a2018" stroke-width="1.2" stroke-linejoin="miter"/>
<path d="M283.3 121.8L288.3 126.8L283.3 131.8L278.3 126.8Z" fill="#0b9a4c" stroke="#2a2018" stroke-width="1.2" stroke-linejoin="miter"/>
<path d="M297.5 91.3L302.5 96.3L297.5 101.3L292.5 96.3Z" fill="#0b9a4c" stroke="#2a2018" stroke-width="1.2" stroke-linejoin="miter"/>
<path d="M248 115L253 120L248 125L243 120Z" fill="#0b9a4c" stroke="#2a2018" stroke-width="1.2" stroke-linejoin="miter"/>
<path d="M251 111L256 116L251 121L246 116Z" fill="#0b9a4c" stroke="#2a2018" stroke-width="1.2" stroke-linejoin="miter"/>
<path d="M241 108L246 113L241 118L236 113Z" fill="#0b9a4c" stroke="#2a2018" stroke-width="1.2" stroke-linejoin="miter"/>
<path d="M238.5 107.5L243.5 112.5L238.5 117.5L233.5 112.5Z" fill="#0b9a4c" stroke="#2a2018" stroke-width="1.2" stroke-linejoin="miter"/>
<path d="M240.5 111L245.5 116L240.5 121L235.5 116Z" fill="#0b9a4c" stroke="#2a2018" stroke-width="1.2" stroke-linejoin="miter"/>
<path d="M243.5 105.5L248.5 110.5L243.5 115.5L238.5 110.5Z" fill="#0b9a4c" stroke="#2a2018" stroke-width="1.2" stroke-linejoin="miter"/>
<path d="M246.5 107L251.5 112L246.5 117L241.5 112Z" fill="#0b9a4c" stroke="#2a2018" stroke-width="1.2" stroke-linejoin="miter"/>
<path d="M243 113.5L248 118.5L243 123.5L238 118.5Z" fill="#0b9a4c" stroke="#2a2018" stroke-width="1.2" stroke-linejoin="miter"/>
<path d="M246.5 114.5L251.5 119.5L246.5 124.5L241.5 119.5Z" fill="#0b9a4c" stroke="#2a2018" stroke-width="1.2" stroke-linejoin="miter"/>
<path d="M249 104.5L254 109.5L249 114.5L244 109.5Z" fill="#0b9a4c" stroke="#2a2018" stroke-width="1.2" stroke-linejoin="miter"/>
<path d="M241.5 118L246.5 123L241.5 128L236.5 123Z" fill="#0b9a4c" stroke="#2a2018" stroke-width="1.2" stroke-linejoin="miter"/>
<path d="M244.5 121L249.5 126L244.5 131L239.5 126Z" fill="#0b9a4c" stroke="#2a2018" stroke-width="1.2" stroke-linejoin="miter"/>
<path d="M247.5 118.5L252.5 123.5L247.5 128.5L242.5 123.5Z" fill="#0b9a4c" stroke="#2a2018" stroke-width="1.2" stroke-linejoin="miter"/>
<path d="M249.5 112.5L254.5 117.5L249.5 122.5L244.5 117.5Z" fill="#0b9a4c" stroke="#2a2018" stroke-width="1.2" stroke-linejoin="miter"/>
<rect x="248.2" y="119.6" width="9.8" height="9.8" fill="#8a7b74" stroke="#2a2018" stroke-width="1.2"/>
<path d="M248.2 119.6L258 129.4M248.2 129.4L258 119.6M253.1 119.6V129.4M248.2 124.5H258" stroke="#2a2018" stroke-width="0.9" fill="none"/>
<rect x="270.8" y="126.6" width="9.8" height="9.8" fill="#8a7b74" stroke="#2a2018" stroke-width="1.2"/>
<path d="M270.8 126.6L280.6 136.4M270.8 136.4L280.6 126.6M275.7 126.6V136.4M270.8 131.5H280.6" stroke="#2a2018" stroke-width="0.9" fill="none"/>
<circle cx="253.9" cy="111.5" r="4.85" fill="#f18a1b" stroke="#2a2018" stroke-width="1.15"/>
<circle cx="266.4" cy="111.2" r="4.85" fill="#f18a1b" stroke="#2a2018" stroke-width="1.15"/>
<circle cx="274.3" cy="108.6" r="4.85" fill="#f18a1b" stroke="#2a2018" stroke-width="1.15"/>
<circle cx="297.5" cy="109.7" r="4.85" fill="#f18a1b" stroke="#2a2018" stroke-width="1.15"/>
<path d="M273 88.15L278.1 98.45L267.9 98.45Z" fill="#1e9ce9" stroke="#2a2018" stroke-width="1.2" stroke-linejoin="miter"/>
<path d="M242.4 127.95L247.5 138.25L237.3 138.25Z" fill="#1e9ce9" stroke="#2a2018" stroke-width="1.2" stroke-linejoin="miter"/>
<path d="M247 137.15L252.1 147.45L241.9 147.45Z" fill="#1e9ce9" stroke="#2a2018" stroke-width="1.2" stroke-linejoin="miter"/>
<path d="M244.4 134.05L249.5 144.35L239.3 144.35Z" fill="#1e9ce9" stroke="#2a2018" stroke-width="1.2" stroke-linejoin="miter"/>
<path d="M294.9 77.2L300.2 82.5L294.9 87.8L289.6 82.5Z" fill="#b24a9c" stroke="#2a2018" stroke-width="1.2" stroke-linejoin="miter"/>
<rect x="199.35" y="73.95" width="9.9" height="9.9" fill="#fff200" stroke="#2a2018" stroke-width="1.2"/>
<rect x="211.65" y="76.85" width="9.9" height="9.9" fill="#fff200" stroke="#2a2018" stroke-width="1.2"/>
<rect x="188.25" y="57.55" width="9.9" height="9.9" fill="#fff200" stroke="#2a2018" stroke-width="1.2"/>
<rect x="201.45" y="67.35" width="9.9" height="9.9" fill="#fff200" stroke="#2a2018" stroke-width="1.2"/>
<rect x="214.55" y="68.95" width="9.9" height="9.9" fill="#fff200" stroke="#2a2018" stroke-width="1.2"/>
<rect x="217.15" y="80.95" width="9.9" height="9.9" fill="#fff200" stroke="#2a2018" stroke-width="1.2"/>
<rect x="227.05" y="59.15" width="9.9" height="9.9" fill="#fff200" stroke="#2a2018" stroke-width="1.2"/>
<rect x="228.95" y="71.35" width="9.9" height="9.9" fill="#fff200" stroke="#2a2018" stroke-width="1.2"/>
<rect x="205.15" y="94.45" width="9.9" height="9.9" fill="#fff200" stroke="#2a2018" stroke-width="1.2"/>
<path d="M236.8 73.15L241.9 83.45L231.7 83.45Z" fill="#f18a1b" stroke="#2a2018" stroke-width="1.2" stroke-linejoin="miter"/>
<path d="M242.2 80.05L247.3 90.35L237.1 90.35Z" fill="#f18a1b" stroke="#2a2018" stroke-width="1.2" stroke-linejoin="miter"/>
<path d="M240.9 77.85L246 88.15L235.8 88.15Z" fill="#f18a1b" stroke="#2a2018" stroke-width="1.2" stroke-linejoin="miter"/>
<path d="M201 102.45L206.1 112.75L195.9 112.75Z" fill="#f18a1b" stroke="#2a2018" stroke-width="1.2" stroke-linejoin="miter"/>
<path d="M190.2 111.85L195.3 122.15L185.1 122.15Z" fill="#f18a1b" stroke="#2a2018" stroke-width="1.2" stroke-linejoin="miter"/>
<path d="M195.6 115.4L200.4 120.2L195.6 125L190.8 120.2Z" fill="#e8212b" stroke="#2a2018" stroke-width="1.2" stroke-linejoin="miter"/>
<rect x="162.8" y="145.5" width="9.6" height="9.6" fill="#fff200" stroke="#e8212b" stroke-width="1.3"/>
<path d="M162.8 145.5L172.4 155.1M162.8 155.1L172.4 145.5" stroke="#e8212b" stroke-width="1.1" fill="none"/>
<rect x="161.8" y="135.5" width="9.6" height="9.6" fill="#fff200" stroke="#e8212b" stroke-width="1.3"/>
<path d="M161.8 135.5L171.4 145.1M161.8 145.1L171.4 135.5" stroke="#e8212b" stroke-width="1.1" fill="none"/>
<rect x="157.7" y="151.6" width="9.6" height="9.6" fill="#fff200" stroke="#e8212b" stroke-width="1.3"/>
<path d="M157.7 151.6L167.3 161.2M157.7 161.2L167.3 151.6" stroke="#e8212b" stroke-width="1.1" fill="none"/>
<path d="M166.1 146.1L173.5 153.5M166.1 153.5L173.5 146.1" stroke="#000000" stroke-width="1.7" fill="none"/>
<rect x="28.6" y="6.1" width="301.4" height="231.6" fill="none" stroke="#3a3030" stroke-width="1.25"/>
<path d="M37.21 237.7v-2.9M45.82 237.7v-2.9M54.43 237.7v-2.9M63.05 237.7v-2.9M71.66 237.7v-4M80.27 237.7v-2.9M88.88 237.7v-2.9M97.49 237.7v-2.9M106.1 237.7v-2.9M114.71 237.7v-4M123.33 237.7v-2.9M131.94 237.7v-2.9M140.55 237.7v-2.9M149.16 237.7v-2.9M157.77 237.7v-4M166.38 237.7v-2.9M174.99 237.7v-2.9M183.61 237.7v-2.9M192.22 237.7v-2.9M200.83 237.7v-4M209.44 237.7v-2.9M218.05 237.7v-2.9M226.66 237.7v-2.9M235.27 237.7v-2.9M243.89 237.7v-4M252.5 237.7v-2.9M261.11 237.7v-2.9M269.72 237.7v-2.9M278.33 237.7v-2.9M286.94 237.7v-4M295.55 237.7v-2.9M304.17 237.7v-2.9M312.78 237.7v-2.9M321.39 237.7v-2.9M28.6 15.36h2.9M28.6 24.63h2.9M28.6 33.89h2.9M28.6 43.16h2.9M28.6 52.42h4M28.6 61.68h2.9M28.6 70.95h2.9M28.6 80.21h2.9M28.6 89.48h2.9M28.6 98.74h4M28.6 108h2.9M28.6 117.27h2.9M28.6 126.53h2.9M28.6 135.8h2.9M28.6 145.06h4M28.6 154.32h2.9M28.6 163.59h2.9M28.6 172.85h2.9M28.6 182.12h2.9M28.6 191.38h4M28.6 200.64h2.9M28.6 209.91h2.9M28.6 219.17h2.9M28.6 228.44h2.9" stroke="#3a3030" stroke-width="1" fill="none"/>
<text transform="translate(9.87 9.1) scale(1.06 1)" font-size="12.8" fill="#231815" stroke="#231815" stroke-width="0.12" letter-spacing="0.7">13</text>
<text transform="translate(10.37 56.3) scale(1.06 1)" font-size="12.8" fill="#231815" stroke="#231815" stroke-width="0.12" letter-spacing="-1.13">11</text>
<text transform="translate(16.04 102.7) scale(1.0994 1)" font-size="12.8" fill="#231815" stroke="#231815" stroke-width="0.12">9</text>
<text transform="translate(16.26 148.9) scale(1.1343 1)" font-size="12.8" fill="#231815" stroke="#231815" stroke-width="0.12">7</text>
<text transform="translate(16.14 195.4) scale(1.0875 1)" font-size="12.8" fill="#231815" stroke="#231815" stroke-width="0.12">5</text>
<text transform="translate(16.18 241.5) scale(1.0711 1)" font-size="12.8" fill="#231815" stroke="#231815" stroke-width="0.12">3</text>
<text transform="translate(15.77 251.9) scale(1.06 1)" font-size="12.8" fill="#231815" stroke="#231815" stroke-width="0.12" letter-spacing="0.63">0.15</text>
<text transform="translate(58.83 251.9) scale(1.06 1)" font-size="12.8" fill="#231815" stroke="#231815" stroke-width="0.12" letter-spacing="0.61">0.20</text>
<text transform="translate(101.88 251.9) scale(1.06 1)" font-size="12.8" fill="#231815" stroke="#231815" stroke-width="0.12" letter-spacing="0.63">0.25</text>
<text transform="translate(144.94 251.9) scale(1.06 1)" font-size="12.8" fill="#231815" stroke="#231815" stroke-width="0.12" letter-spacing="0.61">0.30</text>
<text transform="translate(188 251.9) scale(1.06 1)" font-size="12.8" fill="#231815" stroke="#231815" stroke-width="0.12" letter-spacing="0.63">0.35</text>
<text transform="translate(231.06 251.9) scale(1.06 1)" font-size="12.8" fill="#231815" stroke="#231815" stroke-width="0.12" letter-spacing="0.61">0.40</text>
<text transform="translate(274.11 251.9) scale(1.06 1)" font-size="12.8" fill="#231815" stroke="#231815" stroke-width="0.12" letter-spacing="0.63">0.45</text>
<text transform="translate(317.17 251.9) scale(1.06 1)" font-size="12.8" fill="#231815" stroke="#231815" stroke-width="0.12" letter-spacing="0.61">0.50</text>
<text transform="translate(159.07 264.1) scale(1.06 1)" font-size="13" fill="#231815" stroke="#231815" stroke-width="0.12" letter-spacing="0.59">Sm/Nd</text>
<text transform="translate(11.5 123.95) rotate(-90)" font-size="14" fill="#231815" letter-spacing="1.05">Nd</text>
<text transform="translate(11.5 129.21) rotate(-90) scale(0.907 1)" font-size="13.2" fill="#231815">ε</text>
<text x="36" y="31.7" font-size="20.4" fill="#231815" stroke="#231815" stroke-width="0.15">A</text>
</g>
<g transform="translate(339.8 0)">
<path d="M166 150L224.59 16" stroke="#e8212b" stroke-width="2.0" fill="none"/>
<path d="M228.4 7.3L226.7 16.93L222.49 15.08Z" fill="#e8212b"/>
<circle cx="184.31" cy="66.86" r="2.9" fill="#c0e3f8" stroke="#ffffff" stroke-width="0.4"/>
<circle cx="196.74" cy="61.22" r="2.9" fill="#c0e3f8" stroke="#ffffff" stroke-width="0.4"/>
<circle cx="192.36" cy="82.33" r="2.9" fill="#c0e3f8" stroke="#ffffff" stroke-width="0.4"/>
<circle cx="174.2" cy="92.54" r="2.9" fill="#c0e3f8" stroke="#ffffff" stroke-width="0.4"/>
<circle cx="173.42" cy="87.22" r="2.9" fill="#c0e3f8" stroke="#ffffff" stroke-width="0.4"/>
<circle cx="188.13" cy="115.53" r="2.9" fill="#c0e3f8" stroke="#ffffff" stroke-width="0.4"/>
<circle cx="176.7" cy="72.07" r="2.9" fill="#c0e3f8" stroke="#ffffff" stroke-width="0.4"/>
<circle cx="195.84" cy="124.24" r="2.9" fill="#c0e3f8" stroke="#ffffff" stroke-width="0.4"/>
<circle cx="193.93" cy="84.56" r="2.9" fill="#c0e3f8" stroke="#ffffff" stroke-width="0.4"/>
<circle cx="204.62" cy="76.85" r="2.9" fill="#c0e3f8" stroke="#ffffff" stroke-width="0.4"/>
<circle cx="177.48" cy="64.48" r="2.9" fill="#c0e3f8" stroke="#ffffff" stroke-width="0.4"/>
<circle cx="183.72" cy="114.76" r="2.9" fill="#c0e3f8" stroke="#ffffff" stroke-width="0.4"/>
<circle cx="178.87" cy="97.88" r="2.9" fill="#c0e3f8" stroke="#ffffff" stroke-width="0.4"/>
<circle cx="196.28" cy="82.81" r="2.9" fill="#c0e3f8" stroke="#ffffff" stroke-width="0.4"/>
<circle cx="192.81" cy="60.52" r="2.9" fill="#c0e3f8" stroke="#ffffff" stroke-width="0.4"/>
<circle cx="197.86" cy="86.79" r="2.9" fill="#c0e3f8" stroke="#ffffff" stroke-width="0.4"/>
<circle cx="183.94" cy="98.16" r="2.9" fill="#c0e3f8" stroke="#ffffff" stroke-width="0.4"/>
<circle cx="189.22" cy="77.58" r="2.9" fill="#c0e3f8" stroke="#ffffff" stroke-width="0.4"/>
<circle cx="202.19" cy="106.33" r="2.9" fill="#c0e3f8" stroke="#ffffff" stroke-width="0.4"/>
<circle cx="181.28" cy="97.36" r="2.9" fill="#c0e3f8" stroke="#ffffff" stroke-width="0.4"/>
<circle cx="191.96" cy="119.01" r="2.9" fill="#c0e3f8" stroke="#ffffff" stroke-width="0.4"/>
<circle cx="199.72" cy="76.73" r="2.9" fill="#c0e3f8" stroke="#ffffff" stroke-width="0.4"/>
<circle cx="187.89" cy="110.51" r="2.9" fill="#c0e3f8" stroke="#ffffff" stroke-width="0.4"/>
<circle cx="177.78" cy="91.21" r="2.9" fill="#c0e3f8" stroke="#ffffff" stroke-width="0.4"/>
<circle cx="173.49" cy="104.11" r="2.9" fill="#c0e3f8" stroke="#ffffff" stroke-width="0.4"/>
<circle cx="201.05" cy="97.26" r="2.9" fill="#c0e3f8" stroke="#ffffff" stroke-width="0.4"/>
<circle cx="205.27" cy="78.59" r="2.9" fill="#c0e3f8" stroke="#ffffff" stroke-width="0.4"/>
<circle cx="198.42" cy="98.79" r="2.9" fill="#c0e3f8" stroke="#ffffff" stroke-width="0.4"/>
<circle cx="194.04" cy="88.85" r="2.9" fill="#c0e3f8" stroke="#ffffff" stroke-width="0.4"/>
<circle cx="190.02" cy="103.82" r="2.9" fill="#c0e3f8" stroke="#ffffff" stroke-width="0.4"/>
<circle cx="174.31" cy="106.51" r="2.9" fill="#c0e3f8" stroke="#ffffff" stroke-width="0.4"/>
<circle cx="203.23" cy="76.49" r="2.9" fill="#c0e3f8" stroke="#ffffff" stroke-width="0.4"/>
<circle cx="186.66" cy="104.14" r="2.9" fill="#c0e3f8" stroke="#ffffff" stroke-width="0.4"/>
<circle cx="172.86" cy="89.24" r="2.9" fill="#c0e3f8" stroke="#ffffff" stroke-width="0.4"/>
<circle cx="178.39" cy="64.43" r="2.9" fill="#c0e3f8" stroke="#ffffff" stroke-width="0.4"/>
<circle cx="176.91" cy="73.83" r="2.9" fill="#c0e3f8" stroke="#ffffff" stroke-width="0.4"/>
<circle cx="186.86" cy="118.74" r="2.9" fill="#c0e3f8" stroke="#ffffff" stroke-width="0.4"/>
<circle cx="175.06" cy="88.34" r="2.9" fill="#c0e3f8" stroke="#ffffff" stroke-width="0.4"/>
<circle cx="192.88" cy="119.6" r="2.9" fill="#c0e3f8" stroke="#ffffff" stroke-width="0.4"/>
<circle cx="182.58" cy="85.9" r="2.9" fill="#c0e3f8" stroke="#ffffff" stroke-width="0.4"/>
<circle cx="185.63" cy="119.66" r="2.9" fill="#c0e3f8" stroke="#ffffff" stroke-width="0.4"/>
<circle cx="178.7" cy="72.7" r="2.9" fill="#c0e3f8" stroke="#ffffff" stroke-width="0.4"/>
<circle cx="180.87" cy="90.92" r="2.9" fill="#c0e3f8" stroke="#ffffff" stroke-width="0.4"/>
<circle cx="194.39" cy="74.92" r="2.9" fill="#c0e3f8" stroke="#ffffff" stroke-width="0.4"/>
<circle cx="172.16" cy="86.16" r="2.9" fill="#c0e3f8" stroke="#ffffff" stroke-width="0.4"/>
<circle cx="186.03" cy="96.78" r="2.9" fill="#c0e3f8" stroke="#ffffff" stroke-width="0.4"/>
<circle cx="191.59" cy="100.47" r="2.9" fill="#c0e3f8" stroke="#ffffff" stroke-width="0.4"/>
<circle cx="197.7" cy="59.89" r="2.9" fill="#c0e3f8" stroke="#ffffff" stroke-width="0.4"/>
<circle cx="186.91" cy="84.73" r="2.9" fill="#c0e3f8" stroke="#ffffff" stroke-width="0.4"/>
<circle cx="175.93" cy="101.67" r="2.9" fill="#c0e3f8" stroke="#ffffff" stroke-width="0.4"/>
<circle cx="179.93" cy="67.69" r="2.9" fill="#c0e3f8" stroke="#ffffff" stroke-width="0.4"/>
<circle cx="184.92" cy="59.79" r="2.9" fill="#c0e3f8" stroke="#ffffff" stroke-width="0.4"/>
<circle cx="175.86" cy="82.18" r="2.9" fill="#c0e3f8" stroke="#ffffff" stroke-width="0.4"/>
<circle cx="195.33" cy="66.7" r="2.9" fill="#c0e3f8" stroke="#ffffff" stroke-width="0.4"/>
<circle cx="181.59" cy="81.01" r="2.9" fill="#c0e3f8" stroke="#ffffff" stroke-width="0.4"/>
<circle cx="185.84" cy="64.84" r="2.9" fill="#c0e3f8" stroke="#ffffff" stroke-width="0.4"/>
<circle cx="189.71" cy="90.84" r="2.9" fill="#c0e3f8" stroke="#ffffff" stroke-width="0.4"/>
<circle cx="185.02" cy="75.06" r="2.9" fill="#c0e3f8" stroke="#ffffff" stroke-width="0.4"/>
<circle cx="203.5" cy="67.62" r="2.9" fill="#c0e3f8" stroke="#ffffff" stroke-width="0.4"/>
<circle cx="192.07" cy="66.56" r="2.9" fill="#c0e3f8" stroke="#ffffff" stroke-width="0.4"/>
<circle cx="192.64" cy="57.95" r="2.9" fill="#c0e3f8" stroke="#ffffff" stroke-width="0.4"/>
<circle cx="204.81" cy="106.13" r="2.9" fill="#c0e3f8" stroke="#ffffff" stroke-width="0.4"/>
<circle cx="181.92" cy="82.4" r="2.9" fill="#c0e3f8" stroke="#ffffff" stroke-width="0.4"/>
<circle cx="178.35" cy="111.58" r="2.9" fill="#c0e3f8" stroke="#ffffff" stroke-width="0.4"/>
<circle cx="192.24" cy="112.09" r="2.9" fill="#c0e3f8" stroke="#ffffff" stroke-width="0.4"/>
<circle cx="184.53" cy="72.06" r="2.9" fill="#c0e3f8" stroke="#ffffff" stroke-width="0.4"/>
<circle cx="203.1" cy="109.27" r="2.9" fill="#c0e3f8" stroke="#ffffff" stroke-width="0.4"/>
<circle cx="180.62" cy="93.27" r="2.9" fill="#c0e3f8" stroke="#ffffff" stroke-width="0.4"/>
<circle cx="185.51" cy="58.09" r="2.9" fill="#c0e3f8" stroke="#ffffff" stroke-width="0.4"/>
<circle cx="181.85" cy="105.86" r="2.9" fill="#c0e3f8" stroke="#ffffff" stroke-width="0.4"/>
<circle cx="208.35" cy="88.2" r="2.9" fill="#c0e3f8" stroke="#ffffff" stroke-width="0.4"/>
<circle cx="208.29" cy="82.25" r="2.9" fill="#c0e3f8" stroke="#ffffff" stroke-width="0.4"/>
<circle cx="180.38" cy="72.33" r="2.9" fill="#c0e3f8" stroke="#ffffff" stroke-width="0.4"/>
<circle cx="179.47" cy="70.71" r="2.9" fill="#c0e3f8" stroke="#ffffff" stroke-width="0.4"/>
<circle cx="195.71" cy="120.82" r="2.9" fill="#c0e3f8" stroke="#ffffff" stroke-width="0.4"/>
<circle cx="203.94" cy="90.52" r="2.9" fill="#c0e3f8" stroke="#ffffff" stroke-width="0.4"/>
<circle cx="196.81" cy="113.57" r="2.9" fill="#c0e3f8" stroke="#ffffff" stroke-width="0.4"/>
<circle cx="175.22" cy="103.56" r="2.9" fill="#c0e3f8" stroke="#ffffff" stroke-width="0.4"/>
<circle cx="200.51" cy="90.42" r="2.9" fill="#c0e3f8" stroke="#ffffff" stroke-width="0.4"/>
<circle cx="178.78" cy="112.82" r="2.9" fill="#c0e3f8" stroke="#ffffff" stroke-width="0.4"/>
<circle cx="184.64" cy="113.66" r="2.9" fill="#c0e3f8" stroke="#ffffff" stroke-width="0.4"/>
<circle cx="208.92" cy="84.5" r="2.9" fill="#c0e3f8" stroke="#ffffff" stroke-width="0.4"/>
<circle cx="187.25" cy="124.17" r="2.9" fill="#c0e3f8" stroke="#ffffff" stroke-width="0.4"/>
<circle cx="199.54" cy="68.24" r="2.9" fill="#c0e3f8" stroke="#ffffff" stroke-width="0.4"/>
<circle cx="176.83" cy="66.88" r="2.9" fill="#c0e3f8" stroke="#ffffff" stroke-width="0.4"/>
<circle cx="177.55" cy="115.51" r="2.9" fill="#c0e3f8" stroke="#ffffff" stroke-width="0.4"/>
<circle cx="185.32" cy="95.5" r="2.9" fill="#c0e3f8" stroke="#ffffff" stroke-width="0.4"/>
<circle cx="192.01" cy="123.22" r="2.9" fill="#c0e3f8" stroke="#ffffff" stroke-width="0.4"/>
<circle cx="188.48" cy="118.77" r="2.9" fill="#c0e3f8" stroke="#ffffff" stroke-width="0.4"/>
<circle cx="203.39" cy="71.2" r="2.9" fill="#c0e3f8" stroke="#ffffff" stroke-width="0.4"/>
<circle cx="181.57" cy="77.09" r="2.9" fill="#c0e3f8" stroke="#ffffff" stroke-width="0.4"/>
<circle cx="181.14" cy="98.22" r="2.9" fill="#c0e3f8" stroke="#ffffff" stroke-width="0.4"/>
<circle cx="181.86" cy="86.17" r="2.9" fill="#c0e3f8" stroke="#ffffff" stroke-width="0.4"/>
<circle cx="185.44" cy="88.99" r="2.9" fill="#c0e3f8" stroke="#ffffff" stroke-width="0.4"/>
<circle cx="194.17" cy="121.11" r="2.9" fill="#c0e3f8" stroke="#ffffff" stroke-width="0.4"/>
<circle cx="187.98" cy="122.08" r="2.9" fill="#c0e3f8" stroke="#ffffff" stroke-width="0.4"/>
<circle cx="191.06" cy="94.29" r="2.9" fill="#c0e3f8" stroke="#ffffff" stroke-width="0.4"/>
<circle cx="191.89" cy="57.35" r="2.9" fill="#c0e3f8" stroke="#ffffff" stroke-width="0.4"/>
<circle cx="188.72" cy="69.18" r="2.9" fill="#c0e3f8" stroke="#ffffff" stroke-width="0.4"/>
<circle cx="178.55" cy="90.09" r="2.9" fill="#c0e3f8" stroke="#ffffff" stroke-width="0.4"/>
<circle cx="199.56" cy="96.07" r="2.9" fill="#c0e3f8" stroke="#ffffff" stroke-width="0.4"/>
<circle cx="184.39" cy="93.32" r="2.9" fill="#c0e3f8" stroke="#ffffff" stroke-width="0.4"/>
<circle cx="193.11" cy="112.47" r="2.9" fill="#c0e3f8" stroke="#ffffff" stroke-width="0.4"/>
<circle cx="176.03" cy="96.34" r="2.9" fill="#c0e3f8" stroke="#ffffff" stroke-width="0.4"/>
<circle cx="181.44" cy="75.94" r="2.9" fill="#c0e3f8" stroke="#ffffff" stroke-width="0.4"/>
<circle cx="170.53" cy="103.39" r="2.9" fill="#c0e3f8" stroke="#ffffff" stroke-width="0.4"/>
<circle cx="165.48" cy="116" r="2.9" fill="#c0e3f8" stroke="#ffffff" stroke-width="0.4"/>
<circle cx="173.9" cy="100.16" r="2.9" fill="#c0e3f8" stroke="#ffffff" stroke-width="0.4"/>
<circle cx="166.7" cy="103.28" r="2.9" fill="#c0e3f8" stroke="#ffffff" stroke-width="0.4"/>
<circle cx="164.29" cy="112.64" r="2.9" fill="#c0e3f8" stroke="#ffffff" stroke-width="0.4"/>
<circle cx="162.86" cy="104.66" r="2.9" fill="#c0e3f8" stroke="#ffffff" stroke-width="0.4"/>
<circle cx="163.47" cy="125.08" r="2.9" fill="#c0e3f8" stroke="#ffffff" stroke-width="0.4"/>
<circle cx="168.78" cy="121.83" r="2.9" fill="#c0e3f8" stroke="#ffffff" stroke-width="0.4"/>
<circle cx="165.43" cy="125.16" r="2.9" fill="#c0e3f8" stroke="#ffffff" stroke-width="0.4"/>
<circle cx="172.16" cy="84.86" r="2.9" fill="#c0e3f8" stroke="#ffffff" stroke-width="0.4"/>
<circle cx="154.92" cy="100.11" r="2.9" fill="#c0e3f8" stroke="#ffffff" stroke-width="0.4"/>
<circle cx="170.81" cy="122.85" r="2.9" fill="#c0e3f8" stroke="#ffffff" stroke-width="0.4"/>
<circle cx="155.71" cy="113.81" r="2.9" fill="#c0e3f8" stroke="#ffffff" stroke-width="0.4"/>
<circle cx="167.85" cy="85.15" r="2.9" fill="#c0e3f8" stroke="#ffffff" stroke-width="0.4"/>
<circle cx="182.37" cy="110.58" r="2.9" fill="#c0e3f8" stroke="#ffffff" stroke-width="0.4"/>
<circle cx="187.55" cy="86.85" r="2.9" fill="#c0e3f8" stroke="#ffffff" stroke-width="0.4"/>
<circle cx="180.68" cy="84.01" r="2.9" fill="#c0e3f8" stroke="#ffffff" stroke-width="0.4"/>
<circle cx="190.95" cy="79.29" r="2.9" fill="#c0e3f8" stroke="#ffffff" stroke-width="0.4"/>
<circle cx="181.68" cy="78.24" r="2.9" fill="#c0e3f8" stroke="#ffffff" stroke-width="0.4"/>
<circle cx="196.94" cy="62.99" r="2.9" fill="#c0e3f8" stroke="#ffffff" stroke-width="0.4"/>
<circle cx="192.07" cy="84.46" r="2.9" fill="#c0e3f8" stroke="#ffffff" stroke-width="0.4"/>
<circle cx="194.09" cy="88.13" r="2.9" fill="#c0e3f8" stroke="#ffffff" stroke-width="0.4"/>
<circle cx="177.15" cy="101.73" r="2.9" fill="#c0e3f8" stroke="#ffffff" stroke-width="0.4"/>
<circle cx="188.25" cy="108.48" r="2.9" fill="#c0e3f8" stroke="#ffffff" stroke-width="0.4"/>
<circle cx="199.75" cy="75.19" r="2.9" fill="#c0e3f8" stroke="#ffffff" stroke-width="0.4"/>
<circle cx="180.33" cy="108.88" r="2.9" fill="#c0e3f8" stroke="#ffffff" stroke-width="0.4"/>
<circle cx="192.55" cy="97.72" r="2.9" fill="#c0e3f8" stroke="#ffffff" stroke-width="0.4"/>
<circle cx="195.96" cy="83.69" r="2.9" fill="#c0e3f8" stroke="#ffffff" stroke-width="0.4"/>
<circle cx="194.4" cy="102.88" r="2.9" fill="#c0e3f8" stroke="#ffffff" stroke-width="0.4"/>
<circle cx="178.43" cy="105.67" r="2.9" fill="#c0e3f8" stroke="#ffffff" stroke-width="0.4"/>
<circle cx="177.93" cy="106" r="2.9" fill="#c0e3f8" stroke="#ffffff" stroke-width="0.4"/>
<circle cx="189.16" cy="79.3" r="2.9" fill="#c0e3f8" stroke="#ffffff" stroke-width="0.4"/>
<circle cx="191.28" cy="74.16" r="2.9" fill="#c0e3f8" stroke="#ffffff" stroke-width="0.4"/>
<circle cx="185.05" cy="77.56" r="2.9" fill="#c0e3f8" stroke="#ffffff" stroke-width="0.4"/>
<circle cx="198.03" cy="76.79" r="2.9" fill="#c0e3f8" stroke="#ffffff" stroke-width="0.4"/>
<circle cx="190.5" cy="71.07" r="2.9" fill="#c0e3f8" stroke="#ffffff" stroke-width="0.4"/>
<circle cx="197.26" cy="90.1" r="2.9" fill="#c0e3f8" stroke="#ffffff" stroke-width="0.4"/>
<circle cx="181.49" cy="86.21" r="2.9" fill="#c0e3f8" stroke="#ffffff" stroke-width="0.4"/>
<circle cx="199.75" cy="84.04" r="2.9" fill="#c0e3f8" stroke="#ffffff" stroke-width="0.4"/>
<circle cx="190.36" cy="104.57" r="2.9" fill="#c0e3f8" stroke="#ffffff" stroke-width="0.4"/>
<circle cx="187.4" cy="87.84" r="2.9" fill="#c0e3f8" stroke="#ffffff" stroke-width="0.4"/>
<circle cx="185.94" cy="104.45" r="2.9" fill="#c0e3f8" stroke="#ffffff" stroke-width="0.4"/>
<circle cx="196.5" cy="94.43" r="2.9" fill="#c0e3f8" stroke="#ffffff" stroke-width="0.4"/>
<circle cx="187.74" cy="79.73" r="2.9" fill="#c0e3f8" stroke="#ffffff" stroke-width="0.4"/>
<circle cx="178.05" cy="99.79" r="2.9" fill="#c0e3f8" stroke="#ffffff" stroke-width="0.4"/>
<circle cx="178.45" cy="104.9" r="2.9" fill="#c0e3f8" stroke="#ffffff" stroke-width="0.4"/>
<circle cx="184.18" cy="74.35" r="2.9" fill="#c0e3f8" stroke="#ffffff" stroke-width="0.4"/>
<circle cx="184.5" cy="85.43" r="2.9" fill="#c0e3f8" stroke="#ffffff" stroke-width="0.4"/>
<circle cx="180.57" cy="84.74" r="2.9" fill="#c0e3f8" stroke="#ffffff" stroke-width="0.4"/>
<circle cx="183.63" cy="111.05" r="2.9" fill="#c0e3f8" stroke="#ffffff" stroke-width="0.4"/>
<circle cx="183.09" cy="111.25" r="2.9" fill="#c0e3f8" stroke="#ffffff" stroke-width="0.4"/>
<circle cx="184.98" cy="80.19" r="2.9" fill="#c0e3f8" stroke="#ffffff" stroke-width="0.4"/>
<circle cx="189.76" cy="87.64" r="2.9" fill="#c0e3f8" stroke="#ffffff" stroke-width="0.4"/>
<circle cx="181.83" cy="87.74" r="2.9" fill="#c0e3f8" stroke="#ffffff" stroke-width="0.4"/>
<circle cx="184.82" cy="73.87" r="2.9" fill="#c0e3f8" stroke="#ffffff" stroke-width="0.4"/>
<circle cx="192.98" cy="88.99" r="2.9" fill="#c0e3f8" stroke="#ffffff" stroke-width="0.4"/>
<circle cx="197.77" cy="95.53" r="2.9" fill="#c0e3f8" stroke="#ffffff" stroke-width="0.4"/>
<circle cx="187.3" cy="78.63" r="2.9" fill="#c0e3f8" stroke="#ffffff" stroke-width="0.4"/>
<circle cx="204.56" cy="69.62" r="2.9" fill="#c0e3f8" stroke="#ffffff" stroke-width="0.4"/>
<circle cx="197" cy="94.8" r="2.9" fill="#c0e3f8" stroke="#ffffff" stroke-width="0.4"/>
<circle cx="177.27" cy="104.6" r="2.9" fill="#c0e3f8" stroke="#ffffff" stroke-width="0.4"/>
<circle cx="180.04" cy="88.71" r="2.9" fill="#c0e3f8" stroke="#ffffff" stroke-width="0.4"/>
<circle cx="190.63" cy="104.58" r="2.9" fill="#c0e3f8" stroke="#ffffff" stroke-width="0.4"/>
<circle cx="192.94" cy="107.53" r="2.9" fill="#c0e3f8" stroke="#ffffff" stroke-width="0.4"/>
<circle cx="195.8" cy="97.36" r="2.9" fill="#c0e3f8" stroke="#ffffff" stroke-width="0.4"/>
<circle cx="179.86" cy="80.4" r="2.9" fill="#c0e3f8" stroke="#ffffff" stroke-width="0.4"/>
<circle cx="179.04" cy="104.63" r="2.9" fill="#c0e3f8" stroke="#ffffff" stroke-width="0.4"/>
<circle cx="192.2" cy="94.02" r="2.9" fill="#c0e3f8" stroke="#ffffff" stroke-width="0.4"/>
<circle cx="194.16" cy="96.71" r="2.9" fill="#c0e3f8" stroke="#ffffff" stroke-width="0.4"/>
<circle cx="190.59" cy="89.3" r="2.9" fill="#c0e3f8" stroke="#ffffff" stroke-width="0.4"/>
<circle cx="195.12" cy="65.37" r="2.9" fill="#c0e3f8" stroke="#ffffff" stroke-width="0.4"/>
<circle cx="197.37" cy="74.86" r="2.9" fill="#c0e3f8" stroke="#ffffff" stroke-width="0.4"/>
<circle cx="197.15" cy="72.47" r="2.9" fill="#c0e3f8" stroke="#ffffff" stroke-width="0.4"/>
<circle cx="190.32" cy="81.51" r="2.9" fill="#c0e3f8" stroke="#ffffff" stroke-width="0.4"/>
<circle cx="189.89" cy="96.87" r="2.9" fill="#c0e3f8" stroke="#ffffff" stroke-width="0.4"/>
<circle cx="198.24" cy="93.47" r="2.9" fill="#c0e3f8" stroke="#ffffff" stroke-width="0.4"/>
<circle cx="194.64" cy="65.95" r="2.9" fill="#c0e3f8" stroke="#ffffff" stroke-width="0.4"/>
<circle cx="197.55" cy="77.53" r="2.9" fill="#c0e3f8" stroke="#ffffff" stroke-width="0.4"/>
<circle cx="195.49" cy="97.3" r="2.9" fill="#c0e3f8" stroke="#ffffff" stroke-width="0.4"/>
<circle cx="195.6" cy="76.83" r="2.9" fill="#c0e3f8" stroke="#ffffff" stroke-width="0.4"/>
<circle cx="190.98" cy="85.7" r="2.9" fill="#c0e3f8" stroke="#ffffff" stroke-width="0.4"/>
<circle cx="189.52" cy="68.04" r="2.9" fill="#c0e3f8" stroke="#ffffff" stroke-width="0.4"/>
<circle cx="201.92" cy="72.16" r="2.9" fill="#c0e3f8" stroke="#ffffff" stroke-width="0.4"/>
<circle cx="189.03" cy="75.7" r="2.9" fill="#c0e3f8" stroke="#ffffff" stroke-width="0.4"/>
<circle cx="182.09" cy="110.22" r="2.9" fill="#c0e3f8" stroke="#ffffff" stroke-width="0.4"/>
<circle cx="182.11" cy="91.66" r="2.9" fill="#c0e3f8" stroke="#ffffff" stroke-width="0.4"/>
<circle cx="180.11" cy="88.73" r="2.9" fill="#c0e3f8" stroke="#ffffff" stroke-width="0.4"/>
<circle cx="203.63" cy="68.76" r="2.9" fill="#c0e3f8" stroke="#ffffff" stroke-width="0.4"/>
<circle cx="199.79" cy="87.95" r="2.9" fill="#c0e3f8" stroke="#ffffff" stroke-width="0.4"/>
<circle cx="182.71" cy="107.78" r="2.9" fill="#c0e3f8" stroke="#ffffff" stroke-width="0.4"/>
<circle cx="189.07" cy="77.4" r="2.9" fill="#c0e3f8" stroke="#ffffff" stroke-width="0.4"/>
<circle cx="185.17" cy="104.85" r="2.9" fill="#c0e3f8" stroke="#ffffff" stroke-width="0.4"/>
<circle cx="200.33" cy="68.12" r="2.9" fill="#c0e3f8" stroke="#ffffff" stroke-width="0.4"/>
<circle cx="202.15" cy="76.78" r="2.9" fill="#c0e3f8" stroke="#ffffff" stroke-width="0.4"/>
<circle cx="186.79" cy="82.04" r="2.9" fill="#c0e3f8" stroke="#ffffff" stroke-width="0.4"/>
<circle cx="186.46" cy="83.83" r="2.9" fill="#c0e3f8" stroke="#ffffff" stroke-width="0.4"/>
<circle cx="178.95" cy="104.57" r="2.9" fill="#c0e3f8" stroke="#ffffff" stroke-width="0.4"/>
<circle cx="184.28" cy="109.72" r="2.9" fill="#c0e3f8" stroke="#ffffff" stroke-width="0.4"/>
<circle cx="183.23" cy="75.55" r="2.9" fill="#c0e3f8" stroke="#ffffff" stroke-width="0.4"/>
<circle cx="190.82" cy="71.68" r="2.9" fill="#c0e3f8" stroke="#ffffff" stroke-width="0.4"/>
<circle cx="186.83" cy="110.76" r="2.9" fill="#c0e3f8" stroke="#ffffff" stroke-width="0.4"/>
<circle cx="196.87" cy="64.52" r="2.9" fill="#c0e3f8" stroke="#ffffff" stroke-width="0.4"/>
<circle cx="197.24" cy="84.99" r="2.9" fill="#c0e3f8" stroke="#ffffff" stroke-width="0.4"/>
<circle cx="197.83" cy="94.87" r="2.9" fill="#c0e3f8" stroke="#ffffff" stroke-width="0.4"/>
<circle cx="202.88" cy="68.49" r="2.9" fill="#c0e3f8" stroke="#ffffff" stroke-width="0.4"/>
<circle cx="189.69" cy="79.53" r="2.9" fill="#c0e3f8" stroke="#ffffff" stroke-width="0.4"/>
<circle cx="184.64" cy="99.69" r="2.9" fill="#c0e3f8" stroke="#ffffff" stroke-width="0.4"/>
<circle cx="204.31" cy="75.27" r="2.9" fill="#c0e3f8" stroke="#ffffff" stroke-width="0.4"/>
<circle cx="195.02" cy="77.34" r="2.9" fill="#c0e3f8" stroke="#ffffff" stroke-width="0.4"/>
<circle cx="192.16" cy="82.11" r="2.9" fill="#c0e3f8" stroke="#ffffff" stroke-width="0.4"/>
<circle cx="182.03" cy="108.2" r="2.9" fill="#c0e3f8" stroke="#ffffff" stroke-width="0.4"/>
<circle cx="190.42" cy="73.22" r="2.9" fill="#c0e3f8" stroke="#ffffff" stroke-width="0.4"/>
<circle cx="189.05" cy="69.12" r="2.9" fill="#c0e3f8" stroke="#ffffff" stroke-width="0.4"/>
<circle cx="182.93" cy="75.18" r="2.9" fill="#c0e3f8" stroke="#ffffff" stroke-width="0.4"/>
<circle cx="192.52" cy="107.25" r="2.9" fill="#c0e3f8" stroke="#ffffff" stroke-width="0.4"/>
<circle cx="197.74" cy="83.05" r="2.9" fill="#c0e3f8" stroke="#ffffff" stroke-width="0.4"/>
<circle cx="188" cy="88.73" r="2.9" fill="#c0e3f8" stroke="#ffffff" stroke-width="0.4"/>
<circle cx="186.93" cy="79.25" r="2.9" fill="#c0e3f8" stroke="#ffffff" stroke-width="0.4"/>
<circle cx="190.6" cy="94.11" r="2.9" fill="#c0e3f8" stroke="#ffffff" stroke-width="0.4"/>
<circle cx="201.02" cy="73.01" r="2.9" fill="#c0e3f8" stroke="#ffffff" stroke-width="0.4"/>
<circle cx="183.86" cy="74.67" r="2.9" fill="#c0e3f8" stroke="#ffffff" stroke-width="0.4"/>
<circle cx="187.59" cy="84.74" r="2.9" fill="#c0e3f8" stroke="#ffffff" stroke-width="0.4"/>
<circle cx="176.94" cy="98.19" r="2.9" fill="#c0e3f8" stroke="#ffffff" stroke-width="0.4"/>
<circle cx="201.98" cy="86.14" r="2.9" fill="#c0e3f8" stroke="#ffffff" stroke-width="0.4"/>
<circle cx="187.35" cy="109.27" r="2.9" fill="#c0e3f8" stroke="#ffffff" stroke-width="0.4"/>
<circle cx="204.19" cy="74.67" r="2.9" fill="#c0e3f8" stroke="#ffffff" stroke-width="0.4"/>
<circle cx="191.15" cy="96.79" r="2.9" fill="#c0e3f8" stroke="#ffffff" stroke-width="0.4"/>
<circle cx="194.77" cy="101" r="2.9" fill="#c0e3f8" stroke="#ffffff" stroke-width="0.4"/>
<circle cx="189.26" cy="90.13" r="2.9" fill="#c0e3f8" stroke="#ffffff" stroke-width="0.4"/>
<circle cx="177.15" cy="101.9" r="2.9" fill="#c0e3f8" stroke="#ffffff" stroke-width="0.4"/>
<circle cx="182.74" cy="108.92" r="2.9" fill="#c0e3f8" stroke="#ffffff" stroke-width="0.4"/>
<circle cx="194.72" cy="77.49" r="2.9" fill="#c0e3f8" stroke="#ffffff" stroke-width="0.4"/>
<circle cx="194.45" cy="97.63" r="2.9" fill="#c0e3f8" stroke="#ffffff" stroke-width="0.4"/>
<circle cx="191.21" cy="91.73" r="2.9" fill="#c0e3f8" stroke="#ffffff" stroke-width="0.4"/>
<circle cx="187.25" cy="73.4" r="2.9" fill="#c0e3f8" stroke="#ffffff" stroke-width="0.4"/>
<circle cx="184.74" cy="85.5" r="2.9" fill="#c0e3f8" stroke="#ffffff" stroke-width="0.4"/>
<circle cx="201.63" cy="86.24" r="2.9" fill="#c0e3f8" stroke="#ffffff" stroke-width="0.4"/>
<circle cx="190.45" cy="96.4" r="2.9" fill="#c0e3f8" stroke="#ffffff" stroke-width="0.4"/>
<circle cx="188.18" cy="75.12" r="2.9" fill="#c0e3f8" stroke="#ffffff" stroke-width="0.4"/>
<circle cx="185.8" cy="83.45" r="2.9" fill="#c0e3f8" stroke="#ffffff" stroke-width="0.4"/>
<circle cx="195.79" cy="72.1" r="2.9" fill="#c0e3f8" stroke="#ffffff" stroke-width="0.4"/>
<circle cx="190.64" cy="72.47" r="2.9" fill="#c0e3f8" stroke="#ffffff" stroke-width="0.4"/>
<circle cx="204.13" cy="77.9" r="2.9" fill="#c0e3f8" stroke="#ffffff" stroke-width="0.4"/>
<circle cx="199.78" cy="73.77" r="2.9" fill="#c0e3f8" stroke="#ffffff" stroke-width="0.4"/>
<circle cx="182.42" cy="100.78" r="2.9" fill="#c0e3f8" stroke="#ffffff" stroke-width="0.4"/>
<circle cx="184.55" cy="110.55" r="2.9" fill="#c0e3f8" stroke="#ffffff" stroke-width="0.4"/>
<circle cx="190.38" cy="71.55" r="2.9" fill="#c0e3f8" stroke="#ffffff" stroke-width="0.4"/>
<circle cx="182.48" cy="83.27" r="2.9" fill="#c0e3f8" stroke="#ffffff" stroke-width="0.4"/>
<circle cx="180.25" cy="82.07" r="2.9" fill="#c0e3f8" stroke="#ffffff" stroke-width="0.4"/>
<circle cx="182.18" cy="111.68" r="2.9" fill="#c0e3f8" stroke="#ffffff" stroke-width="0.4"/>
<circle cx="203.02" cy="78.79" r="2.9" fill="#c0e3f8" stroke="#ffffff" stroke-width="0.4"/>
<circle cx="181.38" cy="109.73" r="2.9" fill="#c0e3f8" stroke="#ffffff" stroke-width="0.4"/>
<circle cx="197.64" cy="63.63" r="2.9" fill="#c0e3f8" stroke="#ffffff" stroke-width="0.4"/>
<circle cx="195.27" cy="81.31" r="2.9" fill="#c0e3f8" stroke="#ffffff" stroke-width="0.4"/>
<circle cx="186.84" cy="78.92" r="2.9" fill="#c0e3f8" stroke="#ffffff" stroke-width="0.4"/>
<circle cx="184.11" cy="79.92" r="2.9" fill="#c0e3f8" stroke="#ffffff" stroke-width="0.4"/>
<circle cx="203.71" cy="68.31" r="2.9" fill="#c0e3f8" stroke="#ffffff" stroke-width="0.4"/>
<circle cx="203.96" cy="72.58" r="2.9" fill="#c0e3f8" stroke="#ffffff" stroke-width="0.4"/>
<circle cx="186.34" cy="103.9" r="2.9" fill="#c0e3f8" stroke="#ffffff" stroke-width="0.4"/>
<circle cx="199.84" cy="84.05" r="2.9" fill="#c0e3f8" stroke="#ffffff" stroke-width="0.4"/>
<circle cx="186.81" cy="108.89" r="2.9" fill="#c0e3f8" stroke="#ffffff" stroke-width="0.4"/>
<circle cx="181.6" cy="80.58" r="2.9" fill="#c0e3f8" stroke="#ffffff" stroke-width="0.4"/>
<circle cx="187.91" cy="103.4" r="2.9" fill="#c0e3f8" stroke="#ffffff" stroke-width="0.4"/>
<circle cx="198.23" cy="64.07" r="2.9" fill="#c0e3f8" stroke="#ffffff" stroke-width="0.4"/>
<circle cx="120.3" cy="103.6" r="2.95" fill="#fdf8bb" stroke="#c4c4c0" stroke-width="0.45"/>
<circle cx="110.3" cy="132.3" r="2.95" fill="#fdf8bb" stroke="#c4c4c0" stroke-width="0.45"/>
<circle cx="83" cy="168.5" r="2.95" fill="#fdf8bb" stroke="#c4c4c0" stroke-width="0.45"/>
<circle cx="66.6" cy="197.2" r="2.95" fill="#fdf8bb" stroke="#c4c4c0" stroke-width="0.45"/>
<circle cx="127.9" cy="99.1" r="2.95" fill="#fdf8bb" stroke="#c4c4c0" stroke-width="0.45"/>
<circle cx="147.2" cy="110.4" r="2.95" fill="#fdf8bb" stroke="#c4c4c0" stroke-width="0.45"/>
<circle cx="157.4" cy="96.8" r="2.95" fill="#fdf8bb" stroke="#c4c4c0" stroke-width="0.45"/>
<circle cx="164" cy="105.2" r="2.95" fill="#fdf8bb" stroke="#c4c4c0" stroke-width="0.45"/>
<circle cx="183.7" cy="114" r="2.95" fill="#fdf8bb" stroke="#c4c4c0" stroke-width="0.45"/>
<circle cx="212.2" cy="118.1" r="2.95" fill="#fdf8bb" stroke="#c4c4c0" stroke-width="0.45"/>
<circle cx="204.2" cy="122" r="2.95" fill="#fdf8bb" stroke="#c4c4c0" stroke-width="0.45"/>
<circle cx="182.3" cy="125.7" r="2.95" fill="#fdf8bb" stroke="#c4c4c0" stroke-width="0.45"/>
<circle cx="180.1" cy="133.7" r="2.95" fill="#fdf8bb" stroke="#c4c4c0" stroke-width="0.45"/>
<circle cx="149.4" cy="134.5" r="2.95" fill="#fdf8bb" stroke="#c4c4c0" stroke-width="0.45"/>
<circle cx="173.8" cy="165.7" r="2.95" fill="#fdf8bb" stroke="#c4c4c0" stroke-width="0.45"/>
<circle cx="146.9" cy="183.5" r="2.95" fill="#fdf8bb" stroke="#c4c4c0" stroke-width="0.45"/>
<circle cx="158.9" cy="137.4" r="2.95" fill="#fdf8bb" stroke="#c4c4c0" stroke-width="0.45"/>
<circle cx="131.8" cy="146.2" r="2.95" fill="#fdf8bb" stroke="#c4c4c0" stroke-width="0.45"/>
<circle cx="183.7" cy="21.9" r="2.95" fill="#fdf8bb" stroke="#c4c4c0" stroke-width="0.45"/>
<circle cx="118.2" cy="85.5" r="2.95" fill="#fdf8bb" stroke="#c4c4c0" stroke-width="0.45"/>
<circle cx="141" cy="93.6" r="2.95" fill="#fdf8bb" stroke="#c4c4c0" stroke-width="0.45"/>
<circle cx="196.9" cy="84.8" r="2.95" fill="#fdf8bb" stroke="#c4c4c0" stroke-width="0.45"/>
<circle cx="230.9" cy="34.4" r="2.95" fill="#fdf8bb" stroke="#c4c4c0" stroke-width="0.45"/>
<circle cx="141.2" cy="93.9" r="2.95" fill="#fdf8bb" stroke="#c4c4c0" stroke-width="0.45"/>
<circle cx="167.3" cy="97.5" r="2.95" fill="#fdf8bb" stroke="#c4c4c0" stroke-width="0.45"/>
<circle cx="192.1" cy="100.4" r="2.95" fill="#fdf8bb" stroke="#c4c4c0" stroke-width="0.45"/>
<circle cx="229.9" cy="93.8" r="2.95" fill="#fdf8bb" stroke="#c4c4c0" stroke-width="0.45"/>
<circle cx="235.2" cy="92" r="2.95" fill="#fdf8bb" stroke="#c4c4c0" stroke-width="0.45"/>
<circle cx="242.2" cy="93.2" r="2.95" fill="#fdf8bb" stroke="#c4c4c0" stroke-width="0.45"/>
<circle cx="166.8" cy="97.3" r="2.95" fill="#fdf8bb" stroke="#c4c4c0" stroke-width="0.45"/>
<circle cx="192.5" cy="100.8" r="2.95" fill="#fdf8bb" stroke="#c4c4c0" stroke-width="0.45"/>
<circle cx="99.3" cy="118.8" r="2.9" fill="#c0e3f8" stroke="#ffffff" stroke-width="0.4"/>
<circle cx="117.9" cy="118.3" r="2.9" fill="#c0e3f8" stroke="#ffffff" stroke-width="0.4"/>
<circle cx="125" cy="122.6" r="2.9" fill="#c0e3f8" stroke="#ffffff" stroke-width="0.4"/>
<circle cx="79.9" cy="138.6" r="2.9" fill="#c0e3f8" stroke="#ffffff" stroke-width="0.4"/>
<circle cx="106.2" cy="142" r="2.9" fill="#c0e3f8" stroke="#ffffff" stroke-width="0.4"/>
<circle cx="113.1" cy="147" r="2.9" fill="#c0e3f8" stroke="#ffffff" stroke-width="0.4"/>
<circle cx="121.8" cy="142" r="2.9" fill="#c0e3f8" stroke="#ffffff" stroke-width="0.4"/>
<circle cx="115.3" cy="154.1" r="2.9" fill="#c0e3f8" stroke="#ffffff" stroke-width="0.4"/>
<circle cx="127.1" cy="144.2" r="2.9" fill="#c0e3f8" stroke="#ffffff" stroke-width="0.4"/>
<circle cx="127.8" cy="152.8" r="2.9" fill="#c0e3f8" stroke="#ffffff" stroke-width="0.4"/>
<circle cx="88.8" cy="168.3" r="2.9" fill="#c0e3f8" stroke="#ffffff" stroke-width="0.4"/>
<circle cx="79.7" cy="174.4" r="2.9" fill="#c0e3f8" stroke="#ffffff" stroke-width="0.4"/>
<circle cx="98" cy="173.7" r="2.9" fill="#c0e3f8" stroke="#ffffff" stroke-width="0.4"/>
<circle cx="103.4" cy="180.8" r="2.9" fill="#c0e3f8" stroke="#ffffff" stroke-width="0.4"/>
<circle cx="78.4" cy="183" r="2.9" fill="#c0e3f8" stroke="#ffffff" stroke-width="0.4"/>
<circle cx="86.8" cy="184.7" r="2.9" fill="#c0e3f8" stroke="#ffffff" stroke-width="0.4"/>
<circle cx="109.5" cy="192.7" r="2.9" fill="#c0e3f8" stroke="#ffffff" stroke-width="0.4"/>
<circle cx="92" cy="198.1" r="2.9" fill="#c0e3f8" stroke="#ffffff" stroke-width="0.4"/>
<circle cx="94.8" cy="214.4" r="2.9" fill="#c0e3f8" stroke="#ffffff" stroke-width="0.4"/>
<circle cx="87.9" cy="222" r="2.9" fill="#c0e3f8" stroke="#ffffff" stroke-width="0.4"/>
<circle cx="190.7" cy="24.6" r="2.9" fill="#c0e3f8" stroke="#ffffff" stroke-width="0.4"/>
<circle cx="210.5" cy="36.3" r="2.9" fill="#c0e3f8" stroke="#ffffff" stroke-width="0.4"/>
<circle cx="184.6" cy="48.5" r="2.9" fill="#c0e3f8" stroke="#ffffff" stroke-width="0.4"/>
<circle cx="206.4" cy="49.7" r="2.9" fill="#c0e3f8" stroke="#ffffff" stroke-width="0.4"/>
<circle cx="212.2" cy="48.2" r="2.9" fill="#c0e3f8" stroke="#ffffff" stroke-width="0.4"/>
<circle cx="194.7" cy="57" r="2.9" fill="#c0e3f8" stroke="#ffffff" stroke-width="0.4"/>
<circle cx="185.2" cy="60.7" r="2.9" fill="#c0e3f8" stroke="#ffffff" stroke-width="0.4"/>
<circle cx="183.7" cy="66.5" r="2.9" fill="#c0e3f8" stroke="#ffffff" stroke-width="0.4"/>
<circle cx="146" cy="67" r="2.9" fill="#c0e3f8" stroke="#ffffff" stroke-width="0.4"/>
<circle cx="147.5" cy="71.6" r="2.9" fill="#c0e3f8" stroke="#ffffff" stroke-width="0.4"/>
<circle cx="152.7" cy="72.4" r="2.9" fill="#c0e3f8" stroke="#ffffff" stroke-width="0.4"/>
<circle cx="156.2" cy="75.3" r="2.9" fill="#c0e3f8" stroke="#ffffff" stroke-width="0.4"/>
<circle cx="149.4" cy="75.3" r="2.9" fill="#c0e3f8" stroke="#ffffff" stroke-width="0.4"/>
<circle cx="142" cy="76.8" r="2.9" fill="#c0e3f8" stroke="#ffffff" stroke-width="0.4"/>
<circle cx="138.1" cy="79.7" r="2.9" fill="#c0e3f8" stroke="#ffffff" stroke-width="0.4"/>
<circle cx="133.3" cy="79.7" r="2.9" fill="#c0e3f8" stroke="#ffffff" stroke-width="0.4"/>
<circle cx="127.4" cy="76.8" r="2.9" fill="#c0e3f8" stroke="#ffffff" stroke-width="0.4"/>
<circle cx="123.5" cy="78.2" r="2.9" fill="#c0e3f8" stroke="#ffffff" stroke-width="0.4"/>
<circle cx="131.8" cy="84.1" r="2.9" fill="#c0e3f8" stroke="#ffffff" stroke-width="0.4"/>
<circle cx="138.4" cy="83.3" r="2.9" fill="#c0e3f8" stroke="#ffffff" stroke-width="0.4"/>
<circle cx="143.5" cy="84.8" r="2.9" fill="#c0e3f8" stroke="#ffffff" stroke-width="0.4"/>
<circle cx="148.6" cy="81.1" r="2.9" fill="#c0e3f8" stroke="#ffffff" stroke-width="0.4"/>
<circle cx="154.2" cy="83.3" r="2.9" fill="#c0e3f8" stroke="#ffffff" stroke-width="0.4"/>
<circle cx="165.9" cy="67.7" r="2.9" fill="#c0e3f8" stroke="#ffffff" stroke-width="0.4"/>
<circle cx="173.2" cy="69.2" r="2.9" fill="#c0e3f8" stroke="#ffffff" stroke-width="0.4"/>
<circle cx="169.8" cy="73.1" r="2.9" fill="#c0e3f8" stroke="#ffffff" stroke-width="0.4"/>
<circle cx="163.7" cy="76.3" r="2.9" fill="#c0e3f8" stroke="#ffffff" stroke-width="0.4"/>
<circle cx="171" cy="78.2" r="2.9" fill="#c0e3f8" stroke="#ffffff" stroke-width="0.4"/>
<circle cx="173.5" cy="82.2" r="2.9" fill="#c0e3f8" stroke="#ffffff" stroke-width="0.4"/>
<circle cx="169.1" cy="84.8" r="2.9" fill="#c0e3f8" stroke="#ffffff" stroke-width="0.4"/>
<circle cx="161" cy="87.3" r="2.9" fill="#c0e3f8" stroke="#ffffff" stroke-width="0.4"/>
<circle cx="154.5" cy="92.1" r="2.9" fill="#c0e3f8" stroke="#ffffff" stroke-width="0.4"/>
<circle cx="166.2" cy="92.1" r="2.9" fill="#c0e3f8" stroke="#ffffff" stroke-width="0.4"/>
<circle cx="255.7" cy="14.6" r="2.9" fill="#c0e3f8" stroke="#ffffff" stroke-width="0.4"/>
<circle cx="259.4" cy="36.3" r="2.9" fill="#c0e3f8" stroke="#ffffff" stroke-width="0.4"/>
<circle cx="255.1" cy="52.6" r="2.9" fill="#c0e3f8" stroke="#ffffff" stroke-width="0.4"/>
<circle cx="214.5" cy="50.5" r="2.9" fill="#c0e3f8" stroke="#ffffff" stroke-width="0.4"/>
<circle cx="216.4" cy="54.1" r="2.9" fill="#c0e3f8" stroke="#ffffff" stroke-width="0.4"/>
<circle cx="230.1" cy="56.3" r="2.9" fill="#c0e3f8" stroke="#ffffff" stroke-width="0.4"/>
<circle cx="238.9" cy="59.9" r="2.9" fill="#c0e3f8" stroke="#ffffff" stroke-width="0.4"/>
<circle cx="259.4" cy="69.2" r="2.9" fill="#c0e3f8" stroke="#ffffff" stroke-width="0.4"/>
<circle cx="217" cy="67.3" r="2.9" fill="#c0e3f8" stroke="#ffffff" stroke-width="0.4"/>
<circle cx="146.1" cy="96.8" r="2.9" fill="#c0e3f8" stroke="#ffffff" stroke-width="0.4"/>
<circle cx="151.2" cy="100.4" r="2.9" fill="#c0e3f8" stroke="#ffffff" stroke-width="0.4"/>
<circle cx="154.8" cy="101.9" r="2.9" fill="#c0e3f8" stroke="#ffffff" stroke-width="0.4"/>
<circle cx="148.2" cy="104.8" r="2.9" fill="#c0e3f8" stroke="#ffffff" stroke-width="0.4"/>
<circle cx="154.1" cy="106.3" r="2.9" fill="#c0e3f8" stroke="#ffffff" stroke-width="0.4"/>
<circle cx="164.3" cy="92.4" r="2.9" fill="#c0e3f8" stroke="#ffffff" stroke-width="0.4"/>
<circle cx="165.8" cy="96.8" r="2.9" fill="#c0e3f8" stroke="#ffffff" stroke-width="0.4"/>
<circle cx="162.1" cy="99.7" r="2.9" fill="#c0e3f8" stroke="#ffffff" stroke-width="0.4"/>
<circle cx="158.5" cy="100.4" r="2.9" fill="#c0e3f8" stroke="#ffffff" stroke-width="0.4"/>
<circle cx="165.1" cy="104.8" r="2.9" fill="#c0e3f8" stroke="#ffffff" stroke-width="0.4"/>
<circle cx="168.7" cy="104.8" r="2.9" fill="#c0e3f8" stroke="#ffffff" stroke-width="0.4"/>
<circle cx="170.9" cy="104.8" r="2.9" fill="#c0e3f8" stroke="#ffffff" stroke-width="0.4"/>
<circle cx="168.7" cy="111.4" r="2.9" fill="#c0e3f8" stroke="#ffffff" stroke-width="0.4"/>
<circle cx="117.5" cy="118" r="2.9" fill="#c0e3f8" stroke="#ffffff" stroke-width="0.4"/>
<circle cx="125.6" cy="122.4" r="2.9" fill="#c0e3f8" stroke="#ffffff" stroke-width="0.4"/>
<circle cx="133.6" cy="120.2" r="2.9" fill="#c0e3f8" stroke="#ffffff" stroke-width="0.4"/>
<circle cx="139.5" cy="121.2" r="2.9" fill="#c0e3f8" stroke="#ffffff" stroke-width="0.4"/>
<circle cx="141.7" cy="115.1" r="2.9" fill="#c0e3f8" stroke="#ffffff" stroke-width="0.4"/>
<circle cx="145.3" cy="110.7" r="2.9" fill="#c0e3f8" stroke="#ffffff" stroke-width="0.4"/>
<circle cx="156.3" cy="119.4" r="2.9" fill="#c0e3f8" stroke="#ffffff" stroke-width="0.4"/>
<circle cx="159.9" cy="122.4" r="2.9" fill="#c0e3f8" stroke="#ffffff" stroke-width="0.4"/>
<circle cx="154.4" cy="124.6" r="2.9" fill="#c0e3f8" stroke="#ffffff" stroke-width="0.4"/>
<circle cx="164.3" cy="122.4" r="2.9" fill="#c0e3f8" stroke="#ffffff" stroke-width="0.4"/>
<circle cx="168.7" cy="121.6" r="2.9" fill="#c0e3f8" stroke="#ffffff" stroke-width="0.4"/>
<circle cx="171.6" cy="118.7" r="2.9" fill="#c0e3f8" stroke="#ffffff" stroke-width="0.4"/>
<circle cx="176" cy="116.5" r="2.9" fill="#c0e3f8" stroke="#ffffff" stroke-width="0.4"/>
<circle cx="174.6" cy="121.6" r="2.9" fill="#c0e3f8" stroke="#ffffff" stroke-width="0.4"/>
<circle cx="178.9" cy="121.6" r="2.9" fill="#c0e3f8" stroke="#ffffff" stroke-width="0.4"/>
<circle cx="168" cy="126" r="2.9" fill="#c0e3f8" stroke="#ffffff" stroke-width="0.4"/>
<circle cx="178.9" cy="126" r="2.9" fill="#c0e3f8" stroke="#ffffff" stroke-width="0.4"/>
<circle cx="148.2" cy="128.9" r="2.9" fill="#c0e3f8" stroke="#ffffff" stroke-width="0.4"/>
<circle cx="155.8" cy="132.6" r="2.9" fill="#c0e3f8" stroke="#ffffff" stroke-width="0.4"/>
<circle cx="151.2" cy="137.7" r="2.9" fill="#c0e3f8" stroke="#ffffff" stroke-width="0.4"/>
<circle cx="156.3" cy="141.4" r="2.9" fill="#c0e3f8" stroke="#ffffff" stroke-width="0.4"/>
<circle cx="132.2" cy="140.6" r="2.9" fill="#c0e3f8" stroke="#ffffff" stroke-width="0.4"/>
<circle cx="126.3" cy="133.3" r="2.9" fill="#c0e3f8" stroke="#ffffff" stroke-width="0.4"/>
<circle cx="105.8" cy="142.1" r="2.9" fill="#c0e3f8" stroke="#ffffff" stroke-width="0.4"/>
<circle cx="100.7" cy="118" r="2.9" fill="#c0e3f8" stroke="#ffffff" stroke-width="0.4"/>
<circle cx="192.1" cy="129.7" r="2.9" fill="#c0e3f8" stroke="#ffffff" stroke-width="0.4"/>
<circle cx="190.6" cy="136.3" r="2.9" fill="#c0e3f8" stroke="#ffffff" stroke-width="0.4"/>
<circle cx="183.3" cy="135.5" r="2.9" fill="#c0e3f8" stroke="#ffffff" stroke-width="0.4"/>
<circle cx="174.6" cy="137.7" r="2.9" fill="#c0e3f8" stroke="#ffffff" stroke-width="0.4"/>
<circle cx="219.4" cy="119.5" r="2.9" fill="#c0e3f8" stroke="#ffffff" stroke-width="0.4"/>
<circle cx="220" cy="103.1" r="2.9" fill="#c0e3f8" stroke="#ffffff" stroke-width="0.4"/>
<circle cx="210" cy="130.6" r="2.9" fill="#c0e3f8" stroke="#ffffff" stroke-width="0.4"/>
<circle cx="202.4" cy="125.4" r="2.9" fill="#c0e3f8" stroke="#ffffff" stroke-width="0.4"/>
<circle cx="201.8" cy="130.6" r="2.9" fill="#c0e3f8" stroke="#ffffff" stroke-width="0.4"/>
<circle cx="193" cy="129.4" r="2.9" fill="#c0e3f8" stroke="#ffffff" stroke-width="0.4"/>
<circle cx="192.5" cy="134.1" r="2.9" fill="#c0e3f8" stroke="#ffffff" stroke-width="0.4"/>
<circle cx="188.4" cy="138.2" r="2.9" fill="#c0e3f8" stroke="#ffffff" stroke-width="0.4"/>
<circle cx="182.5" cy="135.9" r="2.9" fill="#c0e3f8" stroke="#ffffff" stroke-width="0.4"/>
<circle cx="191.9" cy="140.6" r="2.9" fill="#c0e3f8" stroke="#ffffff" stroke-width="0.4"/>
<circle cx="184.3" cy="144.6" r="2.9" fill="#c0e3f8" stroke="#ffffff" stroke-width="0.4"/>
<circle cx="228.2" cy="116" r="2.9" fill="#c0e3f8" stroke="#ffffff" stroke-width="0.4"/>
<circle cx="179.5" cy="165.8" r="2.9" fill="#c0e3f8" stroke="#ffffff" stroke-width="0.4"/>
<circle cx="193.7" cy="202.3" r="2.9" fill="#c0e3f8" stroke="#ffffff" stroke-width="0.4"/>
<circle cx="269.5" cy="155.7" r="2.9" fill="#c0e3f8" stroke="#ffffff" stroke-width="0.4"/>
<circle cx="282.6" cy="94.4" r="2.9" fill="#c0e3f8" stroke="#ffffff" stroke-width="0.4"/>
<circle cx="160.5" cy="128" r="2.9" fill="#c0e3f8" stroke="#ffffff" stroke-width="0.4"/>
<circle cx="163" cy="133" r="2.9" fill="#c0e3f8" stroke="#ffffff" stroke-width="0.4"/>
<circle cx="168" cy="137" r="2.9" fill="#c0e3f8" stroke="#ffffff" stroke-width="0.4"/>
<circle cx="172" cy="131" r="2.9" fill="#c0e3f8" stroke="#ffffff" stroke-width="0.4"/>
<circle cx="166" cy="141" r="2.9" fill="#c0e3f8" stroke="#ffffff" stroke-width="0.4"/>
<circle cx="160" cy="137" r="2.9" fill="#c0e3f8" stroke="#ffffff" stroke-width="0.4"/>
<circle cx="176" cy="143" r="2.9" fill="#c0e3f8" stroke="#ffffff" stroke-width="0.4"/>
<circle cx="171" cy="146" r="2.9" fill="#c0e3f8" stroke="#ffffff" stroke-width="0.4"/>
<circle cx="179" cy="149" r="2.9" fill="#c0e3f8" stroke="#ffffff" stroke-width="0.4"/>
<circle cx="143" cy="128" r="2.9" fill="#c0e3f8" stroke="#ffffff" stroke-width="0.4"/>
<circle cx="138" cy="131" r="2.9" fill="#c0e3f8" stroke="#ffffff" stroke-width="0.4"/>
<circle cx="144" cy="135" r="2.9" fill="#c0e3f8" stroke="#ffffff" stroke-width="0.4"/>
<circle cx="137" cy="139" r="2.9" fill="#c0e3f8" stroke="#ffffff" stroke-width="0.4"/>
<circle cx="141" cy="143" r="2.9" fill="#c0e3f8" stroke="#ffffff" stroke-width="0.4"/>
<circle cx="147" cy="143" r="2.9" fill="#c0e3f8" stroke="#ffffff" stroke-width="0.4"/>
<circle cx="130" cy="137" r="2.9" fill="#c0e3f8" stroke="#ffffff" stroke-width="0.4"/>
<circle cx="124" cy="141" r="2.9" fill="#c0e3f8" stroke="#ffffff" stroke-width="0.4"/>
<circle cx="112" cy="136" r="2.9" fill="#c0e3f8" stroke="#ffffff" stroke-width="0.4"/>
<circle cx="120" cy="128" r="2.9" fill="#c0e3f8" stroke="#ffffff" stroke-width="0.4"/>
<circle cx="128" cy="126" r="2.9" fill="#c0e3f8" stroke="#ffffff" stroke-width="0.4"/>
<circle cx="135" cy="125" r="2.9" fill="#c0e3f8" stroke="#ffffff" stroke-width="0.4"/>
<circle cx="152" cy="115" r="2.9" fill="#c0e3f8" stroke="#ffffff" stroke-width="0.4"/>
<circle cx="158" cy="112" r="2.9" fill="#c0e3f8" stroke="#ffffff" stroke-width="0.4"/>
<circle cx="163" cy="115" r="2.9" fill="#c0e3f8" stroke="#ffffff" stroke-width="0.4"/>
<circle cx="150" cy="120" r="2.9" fill="#c0e3f8" stroke="#ffffff" stroke-width="0.4"/>
<circle cx="160" cy="108" r="2.9" fill="#c0e3f8" stroke="#ffffff" stroke-width="0.4"/>
<circle cx="200" cy="112" r="2.9" fill="#c0e3f8" stroke="#ffffff" stroke-width="0.4"/>
<circle cx="206" cy="116" r="2.9" fill="#c0e3f8" stroke="#ffffff" stroke-width="0.4"/>
<circle cx="212" cy="109" r="2.9" fill="#c0e3f8" stroke="#ffffff" stroke-width="0.4"/>
<circle cx="221" cy="84" r="2.9" fill="#c0e3f8" stroke="#ffffff" stroke-width="0.4"/>
<circle cx="224" cy="108" r="2.9" fill="#c0e3f8" stroke="#ffffff" stroke-width="0.4"/>
<circle cx="208" cy="124" r="2.9" fill="#c0e3f8" stroke="#ffffff" stroke-width="0.4"/>
<circle cx="185" cy="131" r="2.9" fill="#c0e3f8" stroke="#ffffff" stroke-width="0.4"/>
<circle cx="198" cy="120" r="2.9" fill="#c0e3f8" stroke="#ffffff" stroke-width="0.4"/>
<path d="M176.2 150.8L232.1 150.8" stroke="#1a9b4b" stroke-width="1.7" fill="none" stroke-linecap="butt"/>
<path d="M232.1 150.8L232.7 147L237.7 134.8L263.6 68.1" stroke="#f7b9b9" stroke-width="2.0" fill="none" stroke-dasharray="9.5 1.8" stroke-linecap="butt"/>
<path d="M263.6 68.1L283.42 15.62" stroke="#f7b9b9" stroke-width="2.0" fill="none"/>
<path d="M286.6 7.2L285.48 16.4L281.36 14.84Z" fill="#f7b9b9"/>
<path d="M265.2 64L283.4 15.6" stroke="#ffffff" stroke-width="3" stroke-dasharray="1.6 10.4" stroke-dashoffset="-9" fill="none"/>
<path d="M176.2 148.9L178.1 150.8L176.2 152.7L174.3 150.8Z" fill="#ffffff" stroke="#1a9b4b" stroke-width="0.8"/>
<path d="M200.5 148.9L202.4 150.8L200.5 152.7L198.6 150.8Z" fill="#ffffff" stroke="#1a9b4b" stroke-width="0.8"/>
<path d="M217.4 148.9L219.3 150.8L217.4 152.7L215.5 150.8Z" fill="#ffffff" stroke="#1a9b4b" stroke-width="0.8"/>
<path d="M232.1 148.9L234 150.8L232.1 152.7L230.2 150.8Z" fill="#ffffff" stroke="#1a9b4b" stroke-width="0.8"/>
<text x="178.9" y="159.3" font-size="6.3" fill="#1a9b4b" stroke="#1a9b4b" stroke-width="0.2" text-anchor="middle">4</text>
<text x="203.2" y="159.3" font-size="6.3" fill="#1a9b4b" stroke="#1a9b4b" stroke-width="0.2" text-anchor="middle">8</text>
<text x="218.9" y="159.3" font-size="6.3" fill="#1a9b4b" stroke="#1a9b4b" stroke-width="0.2" text-anchor="middle">12</text>
<text x="235.4" y="159.3" font-size="6.3" fill="#1a9b4b" stroke="#1a9b4b" stroke-width="0.2" text-anchor="middle">20</text>
<path d="M46 130.9L53.2 138.1M46 138.1L53.2 130.9" stroke="#000000" stroke-width="1.3" fill="none"/>
<path d="M51.1 153.3L58.3 160.5M51.1 160.5L58.3 153.3" stroke="#000000" stroke-width="1.3" fill="none"/>
<path d="M61.5 169L68.7 176.2M61.5 176.2L68.7 169" stroke="#000000" stroke-width="1.3" fill="none"/>
<path d="M56.1 174L63.3 181.2M56.1 181.2L63.3 174" stroke="#000000" stroke-width="1.3" fill="none"/>
<path d="M61 183.7L68.2 190.9M61 190.9L68.2 183.7" stroke="#000000" stroke-width="1.3" fill="none"/>
<path d="M71.4 172.3L78.6 179.5M71.4 179.5L78.6 172.3" stroke="#000000" stroke-width="1.3" fill="none"/>
<path d="M80.9 172.9L88.1 180.1M80.9 180.1L88.1 172.9" stroke="#000000" stroke-width="1.3" fill="none"/>
<path d="M92.9 172.9L100.1 180.1M92.9 180.1L100.1 172.9" stroke="#000000" stroke-width="1.3" fill="none"/>
<path d="M95.5 171.8L102.7 179M95.5 179L102.7 171.8" stroke="#000000" stroke-width="1.3" fill="none"/>
<path d="M106.9 181.5L114.1 188.7M106.9 188.7L114.1 181.5" stroke="#000000" stroke-width="1.3" fill="none"/>
<path d="M118.9 180.9L126.1 188.1M118.9 188.1L126.1 180.9" stroke="#000000" stroke-width="1.3" fill="none"/>
<path d="M107.4 196L114.6 203.2M107.4 203.2L114.6 196" stroke="#000000" stroke-width="1.3" fill="none"/>
<path d="M55.9 219.9L63.1 227.1M55.9 227.1L63.1 219.9" stroke="#000000" stroke-width="1.3" fill="none"/>
<path d="M95.1 133.9L102.3 141.1M95.1 141.1L102.3 133.9" stroke="#000000" stroke-width="1.3" fill="none"/>
<path d="M114.1 135.8L121.3 143M114.1 143L121.3 135.8" stroke="#000000" stroke-width="1.3" fill="none"/>
<path d="M124 128.2L131.2 135.4M124 135.4L131.2 128.2" stroke="#000000" stroke-width="1.3" fill="none"/>
<path d="M130.4 124.6L137.6 131.8M130.4 131.8L137.6 124.6" stroke="#000000" stroke-width="1.3" fill="none"/>
<path d="M141.4 134.8L148.6 142M141.4 142L148.6 134.8" stroke="#000000" stroke-width="1.3" fill="none"/>
<path d="M137.7 142.6L144.9 149.8M137.7 149.8L144.9 142.6" stroke="#000000" stroke-width="1.3" fill="none"/>
<path d="M147.2 147L154.4 154.2M147.2 154.2L154.4 147" stroke="#000000" stroke-width="1.3" fill="none"/>
<path d="M131.9 155.7L139.1 162.9M131.9 162.9L139.1 155.7" stroke="#000000" stroke-width="1.3" fill="none"/>
<path d="M145.8 159.8L153 167M145.8 167L153 159.8" stroke="#000000" stroke-width="1.3" fill="none"/>
<path d="M234.7 108.55L239.8 118.85L229.6 118.85Z" fill="#1e9ce9" stroke="#2a2018" stroke-width="1.2" stroke-linejoin="miter"/>
<path d="M239.3 96.35L244.4 106.65L234.2 106.65Z" fill="#1e9ce9" stroke="#2a2018" stroke-width="1.2" stroke-linejoin="miter"/>
<path d="M276 93.75L281.1 104.05L270.9 104.05Z" fill="#1e9ce9" stroke="#2a2018" stroke-width="1.2" stroke-linejoin="miter"/>
<path d="M255.6 86.55L260.7 96.85L250.5 96.85Z" fill="#1e9ce9" stroke="#2a2018" stroke-width="1.2" stroke-linejoin="miter"/>
<path d="M265.9 86.55L271 96.85L260.8 96.85Z" fill="#1e9ce9" stroke="#2a2018" stroke-width="1.2" stroke-linejoin="miter"/>
<path d="M271 84.55L276.1 94.85L265.9 94.85Z" fill="#1e9ce9" stroke="#2a2018" stroke-width="1.2" stroke-linejoin="miter"/>
<path d="M269.9 95.4L274.9 100.4L269.9 105.4L264.9 100.4Z" fill="#b24a9c" stroke="#2a2018" stroke-width="1.2" stroke-linejoin="miter"/>
<path d="M230.8 102.4L235.6 107.2L230.8 112L226 107.2Z" fill="#e8212b" stroke="#2a2018" stroke-width="1.2" stroke-linejoin="miter"/>
<path d="M243.9 99.2L248.7 104L243.9 108.8L239.1 104Z" fill="#e8212b" stroke="#2a2018" stroke-width="1.2" stroke-linejoin="miter"/>
<path d="M246.5 93.6L251.3 98.4L246.5 103.2L241.7 98.4Z" fill="#e8212b" stroke="#2a2018" stroke-width="1.2" stroke-linejoin="miter"/>
<path d="M254.6 95.6L259.4 100.4L254.6 105.2L249.8 100.4Z" fill="#e8212b" stroke="#2a2018" stroke-width="1.2" stroke-linejoin="miter"/>
<path d="M259.2 92.6L264 97.4L259.2 102.2L254.4 97.4Z" fill="#e8212b" stroke="#2a2018" stroke-width="1.2" stroke-linejoin="miter"/>
<path d="M238.3 116.9L243.3 121.9L238.3 126.9L233.3 121.9Z" fill="#0b9a4c" stroke="#2a2018" stroke-width="1.2" stroke-linejoin="miter"/>
<path d="M240.3 114.3L245.3 119.3L240.3 124.3L235.3 119.3Z" fill="#0b9a4c" stroke="#2a2018" stroke-width="1.2" stroke-linejoin="miter"/>
<path d="M243.4 118.9L248.4 123.9L243.4 128.9L238.4 123.9Z" fill="#0b9a4c" stroke="#2a2018" stroke-width="1.2" stroke-linejoin="miter"/>
<path d="M245.9 110.2L250.9 115.2L245.9 120.2L240.9 115.2Z" fill="#0b9a4c" stroke="#2a2018" stroke-width="1.2" stroke-linejoin="miter"/>
<path d="M250.5 99.5L255.5 104.5L250.5 109.5L245.5 104.5Z" fill="#0b9a4c" stroke="#2a2018" stroke-width="1.2" stroke-linejoin="miter"/>
<path d="M245.4 102.6L250.4 107.6L245.4 112.6L240.4 107.6Z" fill="#0b9a4c" stroke="#2a2018" stroke-width="1.2" stroke-linejoin="miter"/>
<path d="M234.2 104.1L239.2 109.1L234.2 114.1L229.2 109.1Z" fill="#0b9a4c" stroke="#2a2018" stroke-width="1.2" stroke-linejoin="miter"/>
<path d="M260.2 105.6L265.2 110.6L260.2 115.6L255.2 110.6Z" fill="#0b9a4c" stroke="#2a2018" stroke-width="1.2" stroke-linejoin="miter"/>
<path d="M264.8 97L269.8 102L264.8 107L259.8 102Z" fill="#0b9a4c" stroke="#2a2018" stroke-width="1.2" stroke-linejoin="miter"/>
<path d="M255.1 132.7L260.1 137.7L255.1 142.7L250.1 137.7Z" fill="#0b9a4c" stroke="#2a2018" stroke-width="1.2" stroke-linejoin="miter"/>
<path d="M283.3 121.8L288.3 126.8L283.3 131.8L278.3 126.8Z" fill="#0b9a4c" stroke="#2a2018" stroke-width="1.2" stroke-linejoin="miter"/>
<path d="M297.5 91.3L302.5 96.3L297.5 101.3L292.5 96.3Z" fill="#0b9a4c" stroke="#2a2018" stroke-width="1.2" stroke-linejoin="miter"/>
<path d="M248 115L253 120L248 125L243 120Z" fill="#0b9a4c" stroke="#2a2018" stroke-width="1.2" stroke-linejoin="miter"/>
<path d="M251 111L256 116L251 121L246 116Z" fill="#0b9a4c" stroke="#2a2018" stroke-width="1.2" stroke-linejoin="miter"/>
<path d="M241 108L246 113L241 118L236 113Z" fill="#0b9a4c" stroke="#2a2018" stroke-width="1.2" stroke-linejoin="miter"/>
<path d="M238.5 107.5L243.5 112.5L238.5 117.5L233.5 112.5Z" fill="#0b9a4c" stroke="#2a2018" stroke-width="1.2" stroke-linejoin="miter"/>
<path d="M240.5 111L245.5 116L240.5 121L235.5 116Z" fill="#0b9a4c" stroke="#2a2018" stroke-width="1.2" stroke-linejoin="miter"/>
<path d="M243.5 105.5L248.5 110.5L243.5 115.5L238.5 110.5Z" fill="#0b9a4c" stroke="#2a2018" stroke-width="1.2" stroke-linejoin="miter"/>
<path d="M246.5 107L251.5 112L246.5 117L241.5 112Z" fill="#0b9a4c" stroke="#2a2018" stroke-width="1.2" stroke-linejoin="miter"/>
<path d="M243 113.5L248 118.5L243 123.5L238 118.5Z" fill="#0b9a4c" stroke="#2a2018" stroke-width="1.2" stroke-linejoin="miter"/>
<path d="M246.5 114.5L251.5 119.5L246.5 124.5L241.5 119.5Z" fill="#0b9a4c" stroke="#2a2018" stroke-width="1.2" stroke-linejoin="miter"/>
<path d="M249 104.5L254 109.5L249 114.5L244 109.5Z" fill="#0b9a4c" stroke="#2a2018" stroke-width="1.2" stroke-linejoin="miter"/>
<path d="M241.5 118L246.5 123L241.5 128L236.5 123Z" fill="#0b9a4c" stroke="#2a2018" stroke-width="1.2" stroke-linejoin="miter"/>
<path d="M244.5 121L249.5 126L244.5 131L239.5 126Z" fill="#0b9a4c" stroke="#2a2018" stroke-width="1.2" stroke-linejoin="miter"/>
<path d="M247.5 118.5L252.5 123.5L247.5 128.5L242.5 123.5Z" fill="#0b9a4c" stroke="#2a2018" stroke-width="1.2" stroke-linejoin="miter"/>
<path d="M249.5 112.5L254.5 117.5L249.5 122.5L244.5 117.5Z" fill="#0b9a4c" stroke="#2a2018" stroke-width="1.2" stroke-linejoin="miter"/>
<rect x="248.2" y="119.6" width="9.8" height="9.8" fill="#8a7b74" stroke="#2a2018" stroke-width="1.2"/>
<path d="M248.2 119.6L258 129.4M248.2 129.4L258 119.6M253.1 119.6V129.4M248.2 124.5H258" stroke="#2a2018" stroke-width="0.9" fill="none"/>
<rect x="270.8" y="126.6" width="9.8" height="9.8" fill="#8a7b74" stroke="#2a2018" stroke-width="1.2"/>
<path d="M270.8 126.6L280.6 136.4M270.8 136.4L280.6 126.6M275.7 126.6V136.4M270.8 131.5H280.6" stroke="#2a2018" stroke-width="0.9" fill="none"/>
<circle cx="253.9" cy="111.5" r="4.85" fill="#f18a1b" stroke="#2a2018" stroke-width="1.15"/>
<circle cx="266.4" cy="111.2" r="4.85" fill="#f18a1b" stroke="#2a2018" stroke-width="1.15"/>
<circle cx="274.3" cy="108.6" r="4.85" fill="#f18a1b" stroke="#2a2018" stroke-width="1.15"/>
<circle cx="297.5" cy="109.7" r="4.85" fill="#f18a1b" stroke="#2a2018" stroke-width="1.15"/>
<path d="M273 88.15L278.1 98.45L267.9 98.45Z" fill="#1e9ce9" stroke="#2a2018" stroke-width="1.2" stroke-linejoin="miter"/>
<path d="M242.4 127.95L247.5 138.25L237.3 138.25Z" fill="#1e9ce9" stroke="#2a2018" stroke-width="1.2" stroke-linejoin="miter"/>
<path d="M247 137.15L252.1 147.45L241.9 147.45Z" fill="#1e9ce9" stroke="#2a2018" stroke-width="1.2" stroke-linejoin="miter"/>
<path d="M244.4 134.05L249.5 144.35L239.3 144.35Z" fill="#1e9ce9" stroke="#2a2018" stroke-width="1.2" stroke-linejoin="miter"/>
<path d="M294.9 77.2L300.2 82.5L294.9 87.8L289.6 82.5Z" fill="#b24a9c" stroke="#2a2018" stroke-width="1.2" stroke-linejoin="miter"/>
<rect x="199.35" y="73.95" width="9.9" height="9.9" fill="#fff200" stroke="#2a2018" stroke-width="1.2"/>
<rect x="211.65" y="76.85" width="9.9" height="9.9" fill="#fff200" stroke="#2a2018" stroke-width="1.2"/>
<rect x="188.25" y="57.55" width="9.9" height="9.9" fill="#fff200" stroke="#2a2018" stroke-width="1.2"/>
<rect x="201.45" y="67.35" width="9.9" height="9.9" fill="#fff200" stroke="#2a2018" stroke-width="1.2"/>
<rect x="214.55" y="68.95" width="9.9" height="9.9" fill="#fff200" stroke="#2a2018" stroke-width="1.2"/>
<rect x="217.15" y="80.95" width="9.9" height="9.9" fill="#fff200" stroke="#2a2018" stroke-width="1.2"/>
<rect x="227.05" y="59.15" width="9.9" height="9.9" fill="#fff200" stroke="#2a2018" stroke-width="1.2"/>
<rect x="228.95" y="71.35" width="9.9" height="9.9" fill="#fff200" stroke="#2a2018" stroke-width="1.2"/>
<rect x="205.15" y="94.45" width="9.9" height="9.9" fill="#fff200" stroke="#2a2018" stroke-width="1.2"/>
<path d="M236.8 73.15L241.9 83.45L231.7 83.45Z" fill="#f18a1b" stroke="#2a2018" stroke-width="1.2" stroke-linejoin="miter"/>
<path d="M242.2 80.05L247.3 90.35L237.1 90.35Z" fill="#f18a1b" stroke="#2a2018" stroke-width="1.2" stroke-linejoin="miter"/>
<path d="M240.9 77.85L246 88.15L235.8 88.15Z" fill="#f18a1b" stroke="#2a2018" stroke-width="1.2" stroke-linejoin="miter"/>
<path d="M201 102.45L206.1 112.75L195.9 112.75Z" fill="#f18a1b" stroke="#2a2018" stroke-width="1.2" stroke-linejoin="miter"/>
<path d="M190.2 111.85L195.3 122.15L185.1 122.15Z" fill="#f18a1b" stroke="#2a2018" stroke-width="1.2" stroke-linejoin="miter"/>
<path d="M195.6 115.4L200.4 120.2L195.6 125L190.8 120.2Z" fill="#e8212b" stroke="#2a2018" stroke-width="1.2" stroke-linejoin="miter"/>
<rect x="162.8" y="145.5" width="9.6" height="9.6" fill="#fff200" stroke="#e8212b" stroke-width="1.3"/>
<path d="M162.8 145.5L172.4 155.1M162.8 155.1L172.4 145.5" stroke="#e8212b" stroke-width="1.1" fill="none"/>
<rect x="161.8" y="135.5" width="9.6" height="9.6" fill="#fff200" stroke="#e8212b" stroke-width="1.3"/>
<path d="M161.8 135.5L171.4 145.1M161.8 145.1L171.4 135.5" stroke="#e8212b" stroke-width="1.1" fill="none"/>
<rect x="157.7" y="151.6" width="9.6" height="9.6" fill="#fff200" stroke="#e8212b" stroke-width="1.3"/>
<path d="M157.7 151.6L167.3 161.2M157.7 161.2L167.3 151.6" stroke="#e8212b" stroke-width="1.1" fill="none"/>
<path d="M166.1 146.1L173.5 153.5M166.1 153.5L173.5 146.1" stroke="#000000" stroke-width="1.7" fill="none"/>
<path d="M232.7 144L235.7 147L232.7 150L229.7 147Z" fill="#ffffff" stroke="#f29a9a" stroke-width="0.9"/>
<path d="M237.7 131.8L240.7 134.8L237.7 137.8L234.7 134.8Z" fill="#ffffff" stroke="#f29a9a" stroke-width="0.9"/>
<path d="M263.6 65.1L266.6 68.1L263.6 71.1L260.6 68.1Z" fill="#ffffff" stroke="#f29a9a" stroke-width="0.9"/>
<text x="224.8" y="147.9" font-size="6.3" fill="#e8475a" stroke="#e8475a" stroke-width="0.2" text-anchor="middle">10</text>
<text x="231.8" y="133" font-size="6.3" fill="#e8475a" stroke="#e8475a" stroke-width="0.2" text-anchor="middle">30</text>
<text x="258.7" y="65.6" font-size="6.3" fill="#e8475a" stroke="#e8475a" stroke-width="0.2" text-anchor="middle">70</text>
<rect x="28.6" y="6.1" width="301.4" height="231.6" fill="none" stroke="#3a3030" stroke-width="1.25"/>
<path d="M37.21 237.7v-2.9M45.82 237.7v-2.9M54.43 237.7v-2.9M63.05 237.7v-2.9M71.66 237.7v-4M80.27 237.7v-2.9M88.88 237.7v-2.9M97.49 237.7v-2.9M106.1 237.7v-2.9M114.71 237.7v-4M123.33 237.7v-2.9M131.94 237.7v-2.9M140.55 237.7v-2.9M149.16 237.7v-2.9M157.77 237.7v-4M166.38 237.7v-2.9M174.99 237.7v-2.9M183.61 237.7v-2.9M192.22 237.7v-2.9M200.83 237.7v-4M209.44 237.7v-2.9M218.05 237.7v-2.9M226.66 237.7v-2.9M235.27 237.7v-2.9M243.89 237.7v-4M252.5 237.7v-2.9M261.11 237.7v-2.9M269.72 237.7v-2.9M278.33 237.7v-2.9M286.94 237.7v-4M295.55 237.7v-2.9M304.17 237.7v-2.9M312.78 237.7v-2.9M321.39 237.7v-2.9M28.6 15.36h2.9M28.6 24.63h2.9M28.6 33.89h2.9M28.6 43.16h2.9M28.6 52.42h4M28.6 61.68h2.9M28.6 70.95h2.9M28.6 80.21h2.9M28.6 89.48h2.9M28.6 98.74h4M28.6 108h2.9M28.6 117.27h2.9M28.6 126.53h2.9M28.6 135.8h2.9M28.6 145.06h4M28.6 154.32h2.9M28.6 163.59h2.9M28.6 172.85h2.9M28.6 182.12h2.9M28.6 191.38h4M28.6 200.64h2.9M28.6 209.91h2.9M28.6 219.17h2.9M28.6 228.44h2.9" stroke="#3a3030" stroke-width="1" fill="none"/>
<text transform="translate(9.87 9.1) scale(1.06 1)" font-size="12.8" fill="#231815" stroke="#231815" stroke-width="0.12" letter-spacing="0.7">13</text>
<text transform="translate(10.37 56.3) scale(1.06 1)" font-size="12.8" fill="#231815" stroke="#231815" stroke-width="0.12" letter-spacing="-1.13">11</text>
<text transform="translate(16.04 102.7) scale(1.0994 1)" font-size="12.8" fill="#231815" stroke="#231815" stroke-width="0.12">9</text>
<text transform="translate(16.26 148.9) scale(1.1343 1)" font-size="12.8" fill="#231815" stroke="#231815" stroke-width="0.12">7</text>
<text transform="translate(16.14 195.4) scale(1.0875 1)" font-size="12.8" fill="#231815" stroke="#231815" stroke-width="0.12">5</text>
<text transform="translate(16.18 241.5) scale(1.0711 1)" font-size="12.8" fill="#231815" stroke="#231815" stroke-width="0.12">3</text>
<text transform="translate(15.77 251.9) scale(1.06 1)" font-size="12.8" fill="#231815" stroke="#231815" stroke-width="0.12" letter-spacing="0.63">0.15</text>
<text transform="translate(58.83 251.9) scale(1.06 1)" font-size="12.8" fill="#231815" stroke="#231815" stroke-width="0.12" letter-spacing="0.61">0.20</text>
<text transform="translate(101.88 251.9) scale(1.06 1)" font-size="12.8" fill="#231815" stroke="#231815" stroke-width="0.12" letter-spacing="0.63">0.25</text>
<text transform="translate(144.94 251.9) scale(1.06 1)" font-size="12.8" fill="#231815" stroke="#231815" stroke-width="0.12" letter-spacing="0.61">0.30</text>
<text transform="translate(188 251.9) scale(1.06 1)" font-size="12.8" fill="#231815" stroke="#231815" stroke-width="0.12" letter-spacing="0.63">0.35</text>
<text transform="translate(231.06 251.9) scale(1.06 1)" font-size="12.8" fill="#231815" stroke="#231815" stroke-width="0.12" letter-spacing="0.61">0.40</text>
<text transform="translate(274.11 251.9) scale(1.06 1)" font-size="12.8" fill="#231815" stroke="#231815" stroke-width="0.12" letter-spacing="0.63">0.45</text>
<text transform="translate(317.17 251.9) scale(1.06 1)" font-size="12.8" fill="#231815" stroke="#231815" stroke-width="0.12" letter-spacing="0.61">0.50</text>
<text transform="translate(159.07 264.1) scale(1.06 1)" font-size="13" fill="#231815" stroke="#231815" stroke-width="0.12" letter-spacing="0.59">Sm/Nd</text>
<text transform="translate(11.5 123.95) rotate(-90)" font-size="14" fill="#231815" letter-spacing="1.05">Nd</text>
<text transform="translate(11.5 129.21) rotate(-90) scale(0.907 1)" font-size="13.2" fill="#231815">ε</text>
<text x="36" y="31.7" font-size="20.4" fill="#231815" stroke="#231815" stroke-width="0.15">C</text>
</g>
<g transform="translate(0 0)">
<path d="M150.3 345.19L287.48 286.37L287.95 287.47L294.3 282L285.97 282.89L286.44 283.99L149.7 343.81Z" fill="#a4d6f6"/>
<path d="M127.34 415.67L325.15 316.07L325.69 317.15L331.7 311.3L323.43 312.69L323.98 313.76L126.66 414.33Z" fill="#a4d6f6"/>
<circle cx="94.9" cy="424.1" r="2.9" fill="#c0e3f8" stroke="#ffffff" stroke-width="0.4"/>
<circle cx="97.35" cy="426.23" r="2.9" fill="#c0e3f8" stroke="#ffffff" stroke-width="0.4"/>
<circle cx="83.13" cy="420.42" r="2.9" fill="#c0e3f8" stroke="#ffffff" stroke-width="0.4"/>
<circle cx="102.71" cy="442.06" r="2.9" fill="#c0e3f8" stroke="#ffffff" stroke-width="0.4"/>
<circle cx="78.99" cy="443.34" r="2.9" fill="#c0e3f8" stroke="#ffffff" stroke-width="0.4"/>
<circle cx="105.51" cy="384.22" r="2.9" fill="#c0e3f8" stroke="#ffffff" stroke-width="0.4"/>
<circle cx="103.77" cy="428.4" r="2.9" fill="#c0e3f8" stroke="#ffffff" stroke-width="0.4"/>
<circle cx="98.25" cy="385.59" r="2.9" fill="#c0e3f8" stroke="#ffffff" stroke-width="0.4"/>
<circle cx="94.38" cy="445.87" r="2.9" fill="#c0e3f8" stroke="#ffffff" stroke-width="0.4"/>
<circle cx="97.84" cy="430.3" r="2.9" fill="#c0e3f8" stroke="#ffffff" stroke-width="0.4"/>
<circle cx="96.99" cy="432.01" r="2.9" fill="#c0e3f8" stroke="#ffffff" stroke-width="0.4"/>
<circle cx="95.12" cy="402.42" r="2.9" fill="#c0e3f8" stroke="#ffffff" stroke-width="0.4"/>
<circle cx="88.87" cy="398.68" r="2.9" fill="#c0e3f8" stroke="#ffffff" stroke-width="0.4"/>
<circle cx="108.72" cy="411.83" r="2.9" fill="#c0e3f8" stroke="#ffffff" stroke-width="0.4"/>
<circle cx="112.25" cy="410.76" r="2.9" fill="#c0e3f8" stroke="#ffffff" stroke-width="0.4"/>
<circle cx="78.21" cy="429.47" r="2.9" fill="#c0e3f8" stroke="#ffffff" stroke-width="0.4"/>
<circle cx="109.25" cy="401.77" r="2.9" fill="#c0e3f8" stroke="#ffffff" stroke-width="0.4"/>
<circle cx="110.07" cy="394.68" r="2.9" fill="#c0e3f8" stroke="#ffffff" stroke-width="0.4"/>
<circle cx="99.61" cy="415.45" r="2.9" fill="#c0e3f8" stroke="#ffffff" stroke-width="0.4"/>
<circle cx="83.39" cy="437.36" r="2.9" fill="#c0e3f8" stroke="#ffffff" stroke-width="0.4"/>
<circle cx="80.76" cy="430.57" r="2.9" fill="#c0e3f8" stroke="#ffffff" stroke-width="0.4"/>
<circle cx="80.13" cy="413.4" r="2.9" fill="#c0e3f8" stroke="#ffffff" stroke-width="0.4"/>
<circle cx="84.37" cy="401.77" r="2.9" fill="#c0e3f8" stroke="#ffffff" stroke-width="0.4"/>
<circle cx="88.38" cy="449.13" r="2.9" fill="#c0e3f8" stroke="#ffffff" stroke-width="0.4"/>
<circle cx="84.27" cy="411.36" r="2.9" fill="#c0e3f8" stroke="#ffffff" stroke-width="0.4"/>
<circle cx="84.38" cy="400.89" r="2.9" fill="#c0e3f8" stroke="#ffffff" stroke-width="0.4"/>
<circle cx="109" cy="406.33" r="2.9" fill="#c0e3f8" stroke="#ffffff" stroke-width="0.4"/>
<circle cx="78.97" cy="425.87" r="2.9" fill="#c0e3f8" stroke="#ffffff" stroke-width="0.4"/>
<circle cx="85.69" cy="427.3" r="2.9" fill="#c0e3f8" stroke="#ffffff" stroke-width="0.4"/>
<circle cx="91.35" cy="415.9" r="2.9" fill="#c0e3f8" stroke="#ffffff" stroke-width="0.4"/>
<circle cx="100.28" cy="447.72" r="2.9" fill="#c0e3f8" stroke="#ffffff" stroke-width="0.4"/>
<circle cx="93.54" cy="389" r="2.9" fill="#c0e3f8" stroke="#ffffff" stroke-width="0.4"/>
<circle cx="85.49" cy="435.25" r="2.9" fill="#c0e3f8" stroke="#ffffff" stroke-width="0.4"/>
<circle cx="86.31" cy="444.43" r="2.9" fill="#c0e3f8" stroke="#ffffff" stroke-width="0.4"/>
<circle cx="101.24" cy="403.59" r="2.9" fill="#c0e3f8" stroke="#ffffff" stroke-width="0.4"/>
<circle cx="82.72" cy="436.47" r="2.9" fill="#c0e3f8" stroke="#ffffff" stroke-width="0.4"/>
<circle cx="99.61" cy="446.63" r="2.9" fill="#c0e3f8" stroke="#ffffff" stroke-width="0.4"/>
<circle cx="102.03" cy="402.58" r="2.9" fill="#c0e3f8" stroke="#ffffff" stroke-width="0.4"/>
<circle cx="115.36" cy="396.71" r="2.9" fill="#c0e3f8" stroke="#ffffff" stroke-width="0.4"/>
<circle cx="82.76" cy="409.4" r="2.9" fill="#c0e3f8" stroke="#ffffff" stroke-width="0.4"/>
<circle cx="100.18" cy="391.13" r="2.9" fill="#c0e3f8" stroke="#ffffff" stroke-width="0.4"/>
<circle cx="90.93" cy="449.6" r="2.9" fill="#c0e3f8" stroke="#ffffff" stroke-width="0.4"/>
<circle cx="105.41" cy="426" r="2.9" fill="#c0e3f8" stroke="#ffffff" stroke-width="0.4"/>
<circle cx="75.94" cy="429.99" r="2.9" fill="#c0e3f8" stroke="#ffffff" stroke-width="0.4"/>
<circle cx="96.22" cy="437.25" r="2.9" fill="#c0e3f8" stroke="#ffffff" stroke-width="0.4"/>
<circle cx="78.31" cy="423.05" r="2.9" fill="#c0e3f8" stroke="#ffffff" stroke-width="0.4"/>
<circle cx="90.48" cy="433.76" r="2.9" fill="#c0e3f8" stroke="#ffffff" stroke-width="0.4"/>
<circle cx="93.35" cy="441.87" r="2.9" fill="#c0e3f8" stroke="#ffffff" stroke-width="0.4"/>
<circle cx="102.5" cy="410.44" r="2.9" fill="#c0e3f8" stroke="#ffffff" stroke-width="0.4"/>
<circle cx="100.64" cy="427.88" r="2.9" fill="#c0e3f8" stroke="#ffffff" stroke-width="0.4"/>
<circle cx="78.53" cy="430.23" r="2.9" fill="#c0e3f8" stroke="#ffffff" stroke-width="0.4"/>
<circle cx="107.04" cy="410.91" r="2.9" fill="#c0e3f8" stroke="#ffffff" stroke-width="0.4"/>
<circle cx="107.34" cy="425.73" r="2.9" fill="#c0e3f8" stroke="#ffffff" stroke-width="0.4"/>
<circle cx="94.38" cy="445.55" r="2.9" fill="#c0e3f8" stroke="#ffffff" stroke-width="0.4"/>
<circle cx="78.69" cy="438.77" r="2.9" fill="#c0e3f8" stroke="#ffffff" stroke-width="0.4"/>
<circle cx="76.31" cy="427.3" r="2.9" fill="#c0e3f8" stroke="#ffffff" stroke-width="0.4"/>
<circle cx="96.16" cy="398.73" r="2.9" fill="#c0e3f8" stroke="#ffffff" stroke-width="0.4"/>
<circle cx="105.73" cy="419.29" r="2.9" fill="#c0e3f8" stroke="#ffffff" stroke-width="0.4"/>
<circle cx="88.25" cy="433.22" r="2.9" fill="#c0e3f8" stroke="#ffffff" stroke-width="0.4"/>
<circle cx="94.45" cy="449.66" r="2.9" fill="#c0e3f8" stroke="#ffffff" stroke-width="0.4"/>
<circle cx="89.39" cy="432.27" r="2.9" fill="#c0e3f8" stroke="#ffffff" stroke-width="0.4"/>
<circle cx="83.73" cy="414.18" r="2.9" fill="#c0e3f8" stroke="#ffffff" stroke-width="0.4"/>
<circle cx="113.73" cy="410.6" r="2.9" fill="#c0e3f8" stroke="#ffffff" stroke-width="0.4"/>
<circle cx="100.66" cy="405.37" r="2.9" fill="#c0e3f8" stroke="#ffffff" stroke-width="0.4"/>
<circle cx="80.99" cy="419.23" r="2.9" fill="#c0e3f8" stroke="#ffffff" stroke-width="0.4"/>
<circle cx="94.83" cy="402.19" r="2.9" fill="#c0e3f8" stroke="#ffffff" stroke-width="0.4"/>
<circle cx="84.42" cy="412.88" r="2.9" fill="#c0e3f8" stroke="#ffffff" stroke-width="0.4"/>
<circle cx="102.53" cy="419.03" r="2.9" fill="#c0e3f8" stroke="#ffffff" stroke-width="0.4"/>
<circle cx="88.88" cy="445.61" r="2.9" fill="#c0e3f8" stroke="#ffffff" stroke-width="0.4"/>
<circle cx="113.4" cy="384.19" r="2.9" fill="#c0e3f8" stroke="#ffffff" stroke-width="0.4"/>
<circle cx="106.18" cy="424.93" r="2.9" fill="#c0e3f8" stroke="#ffffff" stroke-width="0.4"/>
<circle cx="88.6" cy="441.95" r="2.9" fill="#c0e3f8" stroke="#ffffff" stroke-width="0.4"/>
<circle cx="111.51" cy="399.28" r="2.9" fill="#c0e3f8" stroke="#ffffff" stroke-width="0.4"/>
<circle cx="102.68" cy="415.38" r="2.9" fill="#c0e3f8" stroke="#ffffff" stroke-width="0.4"/>
<circle cx="102.72" cy="431.44" r="2.9" fill="#c0e3f8" stroke="#ffffff" stroke-width="0.4"/>
<circle cx="105.12" cy="396.35" r="2.9" fill="#c0e3f8" stroke="#ffffff" stroke-width="0.4"/>
<circle cx="95.91" cy="394.76" r="2.9" fill="#c0e3f8" stroke="#ffffff" stroke-width="0.4"/>
<circle cx="106.42" cy="394.79" r="2.9" fill="#c0e3f8" stroke="#ffffff" stroke-width="0.4"/>
<circle cx="86.98" cy="407.62" r="2.9" fill="#c0e3f8" stroke="#ffffff" stroke-width="0.4"/>
<circle cx="105.68" cy="421.07" r="2.9" fill="#c0e3f8" stroke="#ffffff" stroke-width="0.4"/>
<circle cx="102.04" cy="439.23" r="2.9" fill="#c0e3f8" stroke="#ffffff" stroke-width="0.4"/>
<circle cx="92.31" cy="441.98" r="2.9" fill="#c0e3f8" stroke="#ffffff" stroke-width="0.4"/>
<circle cx="114.87" cy="387.72" r="2.9" fill="#c0e3f8" stroke="#ffffff" stroke-width="0.4"/>
<circle cx="80.72" cy="415.92" r="2.9" fill="#c0e3f8" stroke="#ffffff" stroke-width="0.4"/>
<circle cx="91.58" cy="424.8" r="2.9" fill="#c0e3f8" stroke="#ffffff" stroke-width="0.4"/>
<circle cx="103.66" cy="396.78" r="2.9" fill="#c0e3f8" stroke="#ffffff" stroke-width="0.4"/>
<circle cx="103.23" cy="436.26" r="2.9" fill="#c0e3f8" stroke="#ffffff" stroke-width="0.4"/>
<circle cx="84.39" cy="450.3" r="2.9" fill="#c0e3f8" stroke="#ffffff" stroke-width="0.4"/>
<circle cx="98.63" cy="441.89" r="2.9" fill="#c0e3f8" stroke="#ffffff" stroke-width="0.4"/>
<circle cx="89.1" cy="451.07" r="2.9" fill="#c0e3f8" stroke="#ffffff" stroke-width="0.4"/>
<circle cx="112.65" cy="407.84" r="2.9" fill="#c0e3f8" stroke="#ffffff" stroke-width="0.4"/>
<circle cx="78.64" cy="414.95" r="2.9" fill="#c0e3f8" stroke="#ffffff" stroke-width="0.4"/>
<circle cx="99.21" cy="440.15" r="2.9" fill="#c0e3f8" stroke="#ffffff" stroke-width="0.4"/>
<circle cx="110.6" cy="385.93" r="2.9" fill="#c0e3f8" stroke="#ffffff" stroke-width="0.4"/>
<circle cx="110.19" cy="394.31" r="2.9" fill="#c0e3f8" stroke="#ffffff" stroke-width="0.4"/>
<circle cx="89.74" cy="441.67" r="2.9" fill="#c0e3f8" stroke="#ffffff" stroke-width="0.4"/>
<circle cx="97.73" cy="436.71" r="2.9" fill="#c0e3f8" stroke="#ffffff" stroke-width="0.4"/>
<circle cx="84.74" cy="421.55" r="2.9" fill="#c0e3f8" stroke="#ffffff" stroke-width="0.4"/>
<circle cx="87.77" cy="437.12" r="2.9" fill="#c0e3f8" stroke="#ffffff" stroke-width="0.4"/>
<circle cx="103.11" cy="421.25" r="2.9" fill="#c0e3f8" stroke="#ffffff" stroke-width="0.4"/>
<circle cx="88.71" cy="410.35" r="2.9" fill="#c0e3f8" stroke="#ffffff" stroke-width="0.4"/>
<circle cx="84.16" cy="446.51" r="2.9" fill="#c0e3f8" stroke="#ffffff" stroke-width="0.4"/>
<circle cx="100.21" cy="396.47" r="2.9" fill="#c0e3f8" stroke="#ffffff" stroke-width="0.4"/>
<circle cx="98.58" cy="419.74" r="2.9" fill="#c0e3f8" stroke="#ffffff" stroke-width="0.4"/>
<circle cx="101.63" cy="383.14" r="2.9" fill="#c0e3f8" stroke="#ffffff" stroke-width="0.4"/>
<circle cx="92.63" cy="442.68" r="2.9" fill="#c0e3f8" stroke="#ffffff" stroke-width="0.4"/>
<circle cx="99.77" cy="418.81" r="2.9" fill="#c0e3f8" stroke="#ffffff" stroke-width="0.4"/>
<circle cx="105.4" cy="386.07" r="2.9" fill="#c0e3f8" stroke="#ffffff" stroke-width="0.4"/>
<circle cx="98.7" cy="412.86" r="2.9" fill="#c0e3f8" stroke="#ffffff" stroke-width="0.4"/>
<circle cx="86.85" cy="417.43" r="2.9" fill="#c0e3f8" stroke="#ffffff" stroke-width="0.4"/>
<circle cx="83.32" cy="419.55" r="2.9" fill="#c0e3f8" stroke="#ffffff" stroke-width="0.4"/>
<circle cx="95.2" cy="413.5" r="2.9" fill="#c0e3f8" stroke="#ffffff" stroke-width="0.4"/>
<circle cx="85.51" cy="429.13" r="2.9" fill="#c0e3f8" stroke="#ffffff" stroke-width="0.4"/>
<circle cx="110.46" cy="403.73" r="2.9" fill="#c0e3f8" stroke="#ffffff" stroke-width="0.4"/>
<circle cx="105.5" cy="398.18" r="2.9" fill="#c0e3f8" stroke="#ffffff" stroke-width="0.4"/>
<circle cx="85.6" cy="408.82" r="2.9" fill="#c0e3f8" stroke="#ffffff" stroke-width="0.4"/>
<circle cx="102.36" cy="413.75" r="2.9" fill="#c0e3f8" stroke="#ffffff" stroke-width="0.4"/>
<circle cx="91.08" cy="429.23" r="2.9" fill="#c0e3f8" stroke="#ffffff" stroke-width="0.4"/>
<circle cx="82.57" cy="435.01" r="2.9" fill="#c0e3f8" stroke="#ffffff" stroke-width="0.4"/>
<circle cx="83.17" cy="423.54" r="2.9" fill="#c0e3f8" stroke="#ffffff" stroke-width="0.4"/>
<circle cx="87.52" cy="407.28" r="2.9" fill="#c0e3f8" stroke="#ffffff" stroke-width="0.4"/>
<circle cx="97.03" cy="419.71" r="2.9" fill="#c0e3f8" stroke="#ffffff" stroke-width="0.4"/>
<circle cx="91.78" cy="418.5" r="2.9" fill="#c0e3f8" stroke="#ffffff" stroke-width="0.4"/>
<circle cx="97" cy="405.31" r="2.9" fill="#c0e3f8" stroke="#ffffff" stroke-width="0.4"/>
<circle cx="85.95" cy="429.83" r="2.9" fill="#c0e3f8" stroke="#ffffff" stroke-width="0.4"/>
<circle cx="100.71" cy="424.54" r="2.9" fill="#c0e3f8" stroke="#ffffff" stroke-width="0.4"/>
<circle cx="108.13" cy="409.1" r="2.9" fill="#c0e3f8" stroke="#ffffff" stroke-width="0.4"/>
<circle cx="109.69" cy="413.43" r="2.9" fill="#c0e3f8" stroke="#ffffff" stroke-width="0.4"/>
<circle cx="89.71" cy="444.98" r="2.9" fill="#c0e3f8" stroke="#ffffff" stroke-width="0.4"/>
<circle cx="109.18" cy="403.96" r="2.9" fill="#c0e3f8" stroke="#ffffff" stroke-width="0.4"/>
<circle cx="87.14" cy="434.78" r="2.9" fill="#c0e3f8" stroke="#ffffff" stroke-width="0.4"/>
<circle cx="107.29" cy="418.92" r="2.9" fill="#c0e3f8" stroke="#ffffff" stroke-width="0.4"/>
<circle cx="105.86" cy="403.55" r="2.9" fill="#c0e3f8" stroke="#ffffff" stroke-width="0.4"/>
<circle cx="92.69" cy="432.63" r="2.9" fill="#c0e3f8" stroke="#ffffff" stroke-width="0.4"/>
<circle cx="96.19" cy="436.42" r="2.9" fill="#c0e3f8" stroke="#ffffff" stroke-width="0.4"/>
<circle cx="96.09" cy="432.66" r="2.9" fill="#c0e3f8" stroke="#ffffff" stroke-width="0.4"/>
<circle cx="97.76" cy="423.77" r="2.9" fill="#c0e3f8" stroke="#ffffff" stroke-width="0.4"/>
<circle cx="98.34" cy="404.62" r="2.9" fill="#c0e3f8" stroke="#ffffff" stroke-width="0.4"/>
<circle cx="85.27" cy="407.6" r="2.9" fill="#c0e3f8" stroke="#ffffff" stroke-width="0.4"/>
<circle cx="110.51" cy="401.95" r="2.9" fill="#c0e3f8" stroke="#ffffff" stroke-width="0.4"/>
<circle cx="94.71" cy="436.77" r="2.9" fill="#c0e3f8" stroke="#ffffff" stroke-width="0.4"/>
<circle cx="90.11" cy="421.28" r="2.9" fill="#c0e3f8" stroke="#ffffff" stroke-width="0.4"/>
<circle cx="96.52" cy="419.36" r="2.9" fill="#c0e3f8" stroke="#ffffff" stroke-width="0.4"/>
<circle cx="99.43" cy="397.69" r="2.9" fill="#c0e3f8" stroke="#ffffff" stroke-width="0.4"/>
<circle cx="85.16" cy="420.61" r="2.9" fill="#c0e3f8" stroke="#ffffff" stroke-width="0.4"/>
<circle cx="104.14" cy="418.08" r="2.9" fill="#c0e3f8" stroke="#ffffff" stroke-width="0.4"/>
<circle cx="85.63" cy="405.58" r="2.9" fill="#c0e3f8" stroke="#ffffff" stroke-width="0.4"/>
<circle cx="96.43" cy="397.8" r="2.9" fill="#c0e3f8" stroke="#ffffff" stroke-width="0.4"/>
<circle cx="100.4" cy="418.03" r="2.9" fill="#c0e3f8" stroke="#ffffff" stroke-width="0.4"/>
<circle cx="99.39" cy="423.22" r="2.9" fill="#c0e3f8" stroke="#ffffff" stroke-width="0.4"/>
<circle cx="87.78" cy="444.39" r="2.9" fill="#c0e3f8" stroke="#ffffff" stroke-width="0.4"/>
<circle cx="106.7" cy="418.09" r="2.9" fill="#c0e3f8" stroke="#ffffff" stroke-width="0.4"/>
<circle cx="105.02" cy="418.1" r="2.9" fill="#c0e3f8" stroke="#ffffff" stroke-width="0.4"/>
<circle cx="103.57" cy="400.67" r="2.9" fill="#c0e3f8" stroke="#ffffff" stroke-width="0.4"/>
<circle cx="90.62" cy="421.38" r="2.9" fill="#c0e3f8" stroke="#ffffff" stroke-width="0.4"/>
<circle cx="100.72" cy="429.45" r="2.9" fill="#c0e3f8" stroke="#ffffff" stroke-width="0.4"/>
<circle cx="101.65" cy="414.57" r="2.9" fill="#c0e3f8" stroke="#ffffff" stroke-width="0.4"/>
<circle cx="101.43" cy="426.62" r="2.9" fill="#c0e3f8" stroke="#ffffff" stroke-width="0.4"/>
<circle cx="97.12" cy="417.26" r="2.9" fill="#c0e3f8" stroke="#ffffff" stroke-width="0.4"/>
<circle cx="99.92" cy="435.42" r="2.9" fill="#c0e3f8" stroke="#ffffff" stroke-width="0.4"/>
<circle cx="87.73" cy="417.88" r="2.9" fill="#c0e3f8" stroke="#ffffff" stroke-width="0.4"/>
<circle cx="91.77" cy="402.12" r="2.9" fill="#c0e3f8" stroke="#ffffff" stroke-width="0.4"/>
<circle cx="87.53" cy="444.09" r="2.9" fill="#c0e3f8" stroke="#ffffff" stroke-width="0.4"/>
<circle cx="97.7" cy="423.41" r="2.9" fill="#c0e3f8" stroke="#ffffff" stroke-width="0.4"/>
<circle cx="106.52" cy="400.96" r="2.9" fill="#c0e3f8" stroke="#ffffff" stroke-width="0.4"/>
<circle cx="99.32" cy="436.48" r="2.9" fill="#c0e3f8" stroke="#ffffff" stroke-width="0.4"/>
<circle cx="84.44" cy="421.53" r="2.9" fill="#c0e3f8" stroke="#ffffff" stroke-width="0.4"/>
<circle cx="84.75" cy="422.77" r="2.9" fill="#c0e3f8" stroke="#ffffff" stroke-width="0.4"/>
<circle cx="99.78" cy="400.04" r="2.9" fill="#c0e3f8" stroke="#ffffff" stroke-width="0.4"/>
<circle cx="111.14" cy="418.88" r="2.9" fill="#c0e3f8" stroke="#ffffff" stroke-width="0.4"/>
<circle cx="96.91" cy="428.09" r="2.9" fill="#c0e3f8" stroke="#ffffff" stroke-width="0.4"/>
<circle cx="91.43" cy="411.86" r="2.9" fill="#c0e3f8" stroke="#ffffff" stroke-width="0.4"/>
<circle cx="101.27" cy="426.15" r="2.9" fill="#c0e3f8" stroke="#ffffff" stroke-width="0.4"/>
<circle cx="88.64" cy="434.26" r="2.9" fill="#c0e3f8" stroke="#ffffff" stroke-width="0.4"/>
<circle cx="84.32" cy="436.24" r="2.9" fill="#c0e3f8" stroke="#ffffff" stroke-width="0.4"/>
<circle cx="92.26" cy="443.67" r="2.9" fill="#c0e3f8" stroke="#ffffff" stroke-width="0.4"/>
<circle cx="104.44" cy="399.61" r="2.9" fill="#c0e3f8" stroke="#ffffff" stroke-width="0.4"/>
<circle cx="93.6" cy="421.84" r="2.9" fill="#c0e3f8" stroke="#ffffff" stroke-width="0.4"/>
<circle cx="112.09" cy="409.67" r="2.9" fill="#c0e3f8" stroke="#ffffff" stroke-width="0.4"/>
<circle cx="96.79" cy="445.74" r="2.9" fill="#c0e3f8" stroke="#ffffff" stroke-width="0.4"/>
<circle cx="103.57" cy="421.35" r="2.9" fill="#c0e3f8" stroke="#ffffff" stroke-width="0.4"/>
<circle cx="99.52" cy="402.98" r="2.9" fill="#c0e3f8" stroke="#ffffff" stroke-width="0.4"/>
<circle cx="100.22" cy="420.7" r="2.9" fill="#c0e3f8" stroke="#ffffff" stroke-width="0.4"/>
<circle cx="96.96" cy="403.46" r="2.9" fill="#c0e3f8" stroke="#ffffff" stroke-width="0.4"/>
<circle cx="94.06" cy="431.73" r="2.9" fill="#c0e3f8" stroke="#ffffff" stroke-width="0.4"/>
<circle cx="94.49" cy="410.63" r="2.9" fill="#c0e3f8" stroke="#ffffff" stroke-width="0.4"/>
<circle cx="98.8" cy="418.82" r="2.9" fill="#c0e3f8" stroke="#ffffff" stroke-width="0.4"/>
<circle cx="105.45" cy="424.6" r="2.9" fill="#c0e3f8" stroke="#ffffff" stroke-width="0.4"/>
<circle cx="103.97" cy="409.4" r="2.9" fill="#c0e3f8" stroke="#ffffff" stroke-width="0.4"/>
<circle cx="105.67" cy="429.5" r="2.9" fill="#c0e3f8" stroke="#ffffff" stroke-width="0.4"/>
<circle cx="91.21" cy="411.12" r="2.9" fill="#c0e3f8" stroke="#ffffff" stroke-width="0.4"/>
<circle cx="102.29" cy="426.37" r="2.9" fill="#c0e3f8" stroke="#ffffff" stroke-width="0.4"/>
<circle cx="99.12" cy="429.92" r="2.9" fill="#c0e3f8" stroke="#ffffff" stroke-width="0.4"/>
<circle cx="104.61" cy="406.87" r="2.9" fill="#c0e3f8" stroke="#ffffff" stroke-width="0.4"/>
<circle cx="88.21" cy="419.11" r="2.9" fill="#c0e3f8" stroke="#ffffff" stroke-width="0.4"/>
<circle cx="100.19" cy="402.33" r="2.9" fill="#c0e3f8" stroke="#ffffff" stroke-width="0.4"/>
<circle cx="97.42" cy="400.77" r="2.9" fill="#c0e3f8" stroke="#ffffff" stroke-width="0.4"/>
<circle cx="81.94" cy="432.17" r="2.9" fill="#c0e3f8" stroke="#ffffff" stroke-width="0.4"/>
<circle cx="97.72" cy="429.82" r="2.9" fill="#c0e3f8" stroke="#ffffff" stroke-width="0.4"/>
<circle cx="91.69" cy="421.88" r="2.9" fill="#c0e3f8" stroke="#ffffff" stroke-width="0.4"/>
<circle cx="86.16" cy="414.87" r="2.9" fill="#c0e3f8" stroke="#ffffff" stroke-width="0.4"/>
<circle cx="105.14" cy="408.08" r="2.9" fill="#c0e3f8" stroke="#ffffff" stroke-width="0.4"/>
<circle cx="93.43" cy="410.42" r="2.9" fill="#c0e3f8" stroke="#ffffff" stroke-width="0.4"/>
<circle cx="106.54" cy="416.19" r="2.9" fill="#c0e3f8" stroke="#ffffff" stroke-width="0.4"/>
<circle cx="90.06" cy="425.53" r="2.9" fill="#c0e3f8" stroke="#ffffff" stroke-width="0.4"/>
<circle cx="93.54" cy="416.2" r="2.9" fill="#c0e3f8" stroke="#ffffff" stroke-width="0.4"/>
<circle cx="98.18" cy="422.21" r="2.9" fill="#c0e3f8" stroke="#ffffff" stroke-width="0.4"/>
<circle cx="102.3" cy="412.54" r="2.9" fill="#c0e3f8" stroke="#ffffff" stroke-width="0.4"/>
<circle cx="105.37" cy="400.96" r="2.9" fill="#c0e3f8" stroke="#ffffff" stroke-width="0.4"/>
<circle cx="86.25" cy="431.43" r="2.9" fill="#c0e3f8" stroke="#ffffff" stroke-width="0.4"/>
<circle cx="88.62" cy="404.43" r="2.9" fill="#c0e3f8" stroke="#ffffff" stroke-width="0.4"/>
<circle cx="91.17" cy="434.75" r="2.9" fill="#c0e3f8" stroke="#ffffff" stroke-width="0.4"/>
<circle cx="91.46" cy="403.1" r="2.9" fill="#c0e3f8" stroke="#ffffff" stroke-width="0.4"/>
<circle cx="103.12" cy="426.6" r="2.9" fill="#c0e3f8" stroke="#ffffff" stroke-width="0.4"/>
<circle cx="110.05" cy="419.78" r="2.9" fill="#c0e3f8" stroke="#ffffff" stroke-width="0.4"/>
<circle cx="106.3" cy="412.85" r="2.9" fill="#c0e3f8" stroke="#ffffff" stroke-width="0.4"/>
<circle cx="89.8" cy="417.78" r="2.9" fill="#c0e3f8" stroke="#ffffff" stroke-width="0.4"/>
<circle cx="87.44" cy="415.81" r="2.9" fill="#c0e3f8" stroke="#ffffff" stroke-width="0.4"/>
<circle cx="91.43" cy="415.89" r="2.9" fill="#c0e3f8" stroke="#ffffff" stroke-width="0.4"/>
<circle cx="92.45" cy="417.15" r="2.9" fill="#c0e3f8" stroke="#ffffff" stroke-width="0.4"/>
<circle cx="85.63" cy="426.32" r="2.9" fill="#c0e3f8" stroke="#ffffff" stroke-width="0.4"/>
<circle cx="106.1" cy="425.11" r="2.9" fill="#c0e3f8" stroke="#ffffff" stroke-width="0.4"/>
<circle cx="107.44" cy="426.26" r="2.9" fill="#c0e3f8" stroke="#ffffff" stroke-width="0.4"/>
<circle cx="85" cy="436.47" r="2.9" fill="#c0e3f8" stroke="#ffffff" stroke-width="0.4"/>
<circle cx="108.95" cy="411.64" r="2.9" fill="#c0e3f8" stroke="#ffffff" stroke-width="0.4"/>
<circle cx="97.5" cy="426.51" r="2.9" fill="#c0e3f8" stroke="#ffffff" stroke-width="0.4"/>
<circle cx="106.35" cy="400.33" r="2.9" fill="#c0e3f8" stroke="#ffffff" stroke-width="0.4"/>
<circle cx="97.59" cy="437.98" r="2.9" fill="#c0e3f8" stroke="#ffffff" stroke-width="0.4"/>
<circle cx="81.88" cy="429.97" r="2.9" fill="#c0e3f8" stroke="#ffffff" stroke-width="0.4"/>
<circle cx="83.89" cy="435.78" r="2.9" fill="#c0e3f8" stroke="#ffffff" stroke-width="0.4"/>
<circle cx="101.07" cy="409.76" r="2.9" fill="#c0e3f8" stroke="#ffffff" stroke-width="0.4"/>
<circle cx="86.5" cy="436.8" r="2.9" fill="#c0e3f8" stroke="#ffffff" stroke-width="0.4"/>
<circle cx="96.73" cy="436.76" r="2.9" fill="#c0e3f8" stroke="#ffffff" stroke-width="0.4"/>
<circle cx="92.41" cy="414.57" r="2.9" fill="#c0e3f8" stroke="#ffffff" stroke-width="0.4"/>
<circle cx="95.78" cy="424.94" r="2.9" fill="#c0e3f8" stroke="#ffffff" stroke-width="0.4"/>
<circle cx="110.11" cy="418.35" r="2.9" fill="#c0e3f8" stroke="#ffffff" stroke-width="0.4"/>
<circle cx="96.81" cy="433.92" r="2.9" fill="#c0e3f8" stroke="#ffffff" stroke-width="0.4"/>
<circle cx="106.28" cy="418.92" r="2.9" fill="#c0e3f8" stroke="#ffffff" stroke-width="0.4"/>
<circle cx="93.3" cy="404.6" r="2.9" fill="#c0e3f8" stroke="#ffffff" stroke-width="0.4"/>
<circle cx="91.77" cy="405.72" r="2.9" fill="#c0e3f8" stroke="#ffffff" stroke-width="0.4"/>
<circle cx="85.95" cy="419.1" r="2.9" fill="#c0e3f8" stroke="#ffffff" stroke-width="0.4"/>
<circle cx="82.9" cy="430.69" r="2.9" fill="#c0e3f8" stroke="#ffffff" stroke-width="0.4"/>
<circle cx="105.38" cy="406.33" r="2.9" fill="#c0e3f8" stroke="#ffffff" stroke-width="0.4"/>
<circle cx="81.12" cy="420.86" r="2.9" fill="#c0e3f8" stroke="#ffffff" stroke-width="0.4"/>
<circle cx="85.27" cy="408.3" r="2.9" fill="#c0e3f8" stroke="#ffffff" stroke-width="0.4"/>
<circle cx="87" cy="434.3" r="2.9" fill="#c0e3f8" stroke="#ffffff" stroke-width="0.4"/>
<circle cx="99.22" cy="408.65" r="2.9" fill="#c0e3f8" stroke="#ffffff" stroke-width="0.4"/>
<circle cx="85.29" cy="411.62" r="2.9" fill="#c0e3f8" stroke="#ffffff" stroke-width="0.4"/>
<circle cx="84.87" cy="436.39" r="2.9" fill="#c0e3f8" stroke="#ffffff" stroke-width="0.4"/>
<circle cx="89.6" cy="425.51" r="2.9" fill="#c0e3f8" stroke="#ffffff" stroke-width="0.4"/>
<circle cx="106.78" cy="421.93" r="2.9" fill="#c0e3f8" stroke="#ffffff" stroke-width="0.4"/>
<circle cx="87.86" cy="443.15" r="2.9" fill="#c0e3f8" stroke="#ffffff" stroke-width="0.4"/>
<circle cx="110.08" cy="414.79" r="2.9" fill="#c0e3f8" stroke="#ffffff" stroke-width="0.4"/>
<circle cx="95.41" cy="408.49" r="2.9" fill="#c0e3f8" stroke="#ffffff" stroke-width="0.4"/>
<circle cx="106.25" cy="417.02" r="2.9" fill="#c0e3f8" stroke="#ffffff" stroke-width="0.4"/>
<circle cx="96.94" cy="423.82" r="2.9" fill="#c0e3f8" stroke="#ffffff" stroke-width="0.4"/>
<circle cx="101.36" cy="409.36" r="2.9" fill="#c0e3f8" stroke="#ffffff" stroke-width="0.4"/>
<circle cx="91.63" cy="438.43" r="2.9" fill="#c0e3f8" stroke="#ffffff" stroke-width="0.4"/>
<circle cx="103.25" cy="428.52" r="2.9" fill="#c0e3f8" stroke="#ffffff" stroke-width="0.4"/>
<circle cx="89.94" cy="410.49" r="2.9" fill="#c0e3f8" stroke="#ffffff" stroke-width="0.4"/>
<circle cx="108.55" cy="423.84" r="2.9" fill="#c0e3f8" stroke="#ffffff" stroke-width="0.4"/>
<circle cx="88.06" cy="424.8" r="2.9" fill="#c0e3f8" stroke="#ffffff" stroke-width="0.4"/>
<circle cx="84.12" cy="437.06" r="2.9" fill="#c0e3f8" stroke="#ffffff" stroke-width="0.4"/>
<circle cx="103.36" cy="402.05" r="2.9" fill="#c0e3f8" stroke="#ffffff" stroke-width="0.4"/>
<circle cx="95.32" cy="421.37" r="2.9" fill="#c0e3f8" stroke="#ffffff" stroke-width="0.4"/>
<circle cx="108.15" cy="412.79" r="2.9" fill="#c0e3f8" stroke="#ffffff" stroke-width="0.4"/>
<circle cx="105.84" cy="418.68" r="2.9" fill="#c0e3f8" stroke="#ffffff" stroke-width="0.4"/>
<circle cx="110.17" cy="401.73" r="2.9" fill="#c0e3f8" stroke="#ffffff" stroke-width="0.4"/>
<circle cx="107.1" cy="407.84" r="2.9" fill="#c0e3f8" stroke="#ffffff" stroke-width="0.4"/>
<circle cx="97.47" cy="424.33" r="2.9" fill="#c0e3f8" stroke="#ffffff" stroke-width="0.4"/>
<circle cx="84.36" cy="440.26" r="2.9" fill="#c0e3f8" stroke="#ffffff" stroke-width="0.4"/>
<circle cx="89.59" cy="413.16" r="2.9" fill="#c0e3f8" stroke="#ffffff" stroke-width="0.4"/>
<circle cx="94.89" cy="434.19" r="2.9" fill="#c0e3f8" stroke="#ffffff" stroke-width="0.4"/>
<circle cx="91.23" cy="432.73" r="2.9" fill="#c0e3f8" stroke="#ffffff" stroke-width="0.4"/>
<circle cx="82.6" cy="417.5" r="2.9" fill="#c0e3f8" stroke="#ffffff" stroke-width="0.4"/>
<circle cx="94.7" cy="447.28" r="2.9" fill="#c0e3f8" stroke="#ffffff" stroke-width="0.4"/>
<circle cx="103.14" cy="409.35" r="2.9" fill="#c0e3f8" stroke="#ffffff" stroke-width="0.4"/>
<circle cx="98.18" cy="420.82" r="2.9" fill="#c0e3f8" stroke="#ffffff" stroke-width="0.4"/>
<circle cx="106.18" cy="407.75" r="2.9" fill="#c0e3f8" stroke="#ffffff" stroke-width="0.4"/>
<circle cx="99.95" cy="412.1" r="2.9" fill="#c0e3f8" stroke="#ffffff" stroke-width="0.4"/>
<circle cx="91.78" cy="425.07" r="2.9" fill="#c0e3f8" stroke="#ffffff" stroke-width="0.4"/>
<circle cx="89.14" cy="414.54" r="2.9" fill="#c0e3f8" stroke="#ffffff" stroke-width="0.4"/>
<circle cx="92.33" cy="431.67" r="2.9" fill="#c0e3f8" stroke="#ffffff" stroke-width="0.4"/>
<circle cx="87.72" cy="407.4" r="2.9" fill="#c0e3f8" stroke="#ffffff" stroke-width="0.4"/>
<circle cx="103.87" cy="414.13" r="2.9" fill="#c0e3f8" stroke="#ffffff" stroke-width="0.4"/>
<circle cx="103.61" cy="414.25" r="2.9" fill="#c0e3f8" stroke="#ffffff" stroke-width="0.4"/>
<circle cx="107.11" cy="401.8" r="2.9" fill="#c0e3f8" stroke="#ffffff" stroke-width="0.4"/>
<circle cx="85.12" cy="417.92" r="2.9" fill="#c0e3f8" stroke="#ffffff" stroke-width="0.4"/>
<circle cx="107.46" cy="427.82" r="2.9" fill="#c0e3f8" stroke="#ffffff" stroke-width="0.4"/>
<circle cx="92.83" cy="400.78" r="2.9" fill="#c0e3f8" stroke="#ffffff" stroke-width="0.4"/>
<circle cx="110.3" cy="419.2" r="2.9" fill="#c0e3f8" stroke="#ffffff" stroke-width="0.4"/>
<circle cx="96.39" cy="430.66" r="2.9" fill="#c0e3f8" stroke="#ffffff" stroke-width="0.4"/>
<circle cx="92.12" cy="414.23" r="2.9" fill="#c0e3f8" stroke="#ffffff" stroke-width="0.4"/>
<circle cx="92.62" cy="433.39" r="2.9" fill="#c0e3f8" stroke="#ffffff" stroke-width="0.4"/>
<circle cx="101.45" cy="428.65" r="2.9" fill="#c0e3f8" stroke="#ffffff" stroke-width="0.4"/>
<circle cx="90.64" cy="430.84" r="2.9" fill="#c0e3f8" stroke="#ffffff" stroke-width="0.4"/>
<circle cx="82.61" cy="416.64" r="2.9" fill="#c0e3f8" stroke="#ffffff" stroke-width="0.4"/>
<circle cx="96.32" cy="438" r="2.9" fill="#c0e3f8" stroke="#ffffff" stroke-width="0.4"/>
<circle cx="107.06" cy="428.79" r="2.9" fill="#c0e3f8" stroke="#ffffff" stroke-width="0.4"/>
<circle cx="84.38" cy="436.86" r="2.9" fill="#c0e3f8" stroke="#ffffff" stroke-width="0.4"/>
<circle cx="90.99" cy="423.02" r="2.9" fill="#c0e3f8" stroke="#ffffff" stroke-width="0.4"/>
<circle cx="83.82" cy="434.1" r="2.9" fill="#c0e3f8" stroke="#ffffff" stroke-width="0.4"/>
<circle cx="100.32" cy="407.29" r="2.9" fill="#c0e3f8" stroke="#ffffff" stroke-width="0.4"/>
<circle cx="98.6" cy="433.25" r="2.9" fill="#c0e3f8" stroke="#ffffff" stroke-width="0.4"/>
<circle cx="90.19" cy="445.31" r="2.9" fill="#c0e3f8" stroke="#ffffff" stroke-width="0.4"/>
<circle cx="91.28" cy="421.08" r="2.9" fill="#c0e3f8" stroke="#ffffff" stroke-width="0.4"/>
<circle cx="97.48" cy="426.16" r="2.9" fill="#c0e3f8" stroke="#ffffff" stroke-width="0.4"/>
<circle cx="98.05" cy="410.75" r="2.9" fill="#c0e3f8" stroke="#ffffff" stroke-width="0.4"/>
<circle cx="106.8" cy="428.28" r="2.9" fill="#c0e3f8" stroke="#ffffff" stroke-width="0.4"/>
<circle cx="83.17" cy="439.88" r="2.9" fill="#c0e3f8" stroke="#ffffff" stroke-width="0.4"/>
<circle cx="88.81" cy="443.64" r="2.9" fill="#c0e3f8" stroke="#ffffff" stroke-width="0.4"/>
<circle cx="87.19" cy="426.83" r="2.9" fill="#c0e3f8" stroke="#ffffff" stroke-width="0.4"/>
<circle cx="107.25" cy="406.65" r="2.9" fill="#c0e3f8" stroke="#ffffff" stroke-width="0.4"/>
<circle cx="97.63" cy="400.97" r="2.9" fill="#c0e3f8" stroke="#ffffff" stroke-width="0.4"/>
<circle cx="101.38" cy="413" r="2.9" fill="#c0e3f8" stroke="#ffffff" stroke-width="0.4"/>
<circle cx="91.98" cy="427.78" r="2.9" fill="#c0e3f8" stroke="#ffffff" stroke-width="0.4"/>
<circle cx="85.78" cy="421.34" r="2.9" fill="#c0e3f8" stroke="#ffffff" stroke-width="0.4"/>
<circle cx="83.86" cy="417.09" r="2.9" fill="#c0e3f8" stroke="#ffffff" stroke-width="0.4"/>
<circle cx="98.36" cy="406.03" r="2.9" fill="#c0e3f8" stroke="#ffffff" stroke-width="0.4"/>
<circle cx="96.67" cy="410.71" r="2.9" fill="#c0e3f8" stroke="#ffffff" stroke-width="0.4"/>
<circle cx="98.31" cy="414.27" r="2.9" fill="#c0e3f8" stroke="#ffffff" stroke-width="0.4"/>
<circle cx="100.82" cy="398.97" r="2.9" fill="#c0e3f8" stroke="#ffffff" stroke-width="0.4"/>
<circle cx="101.81" cy="404.53" r="2.9" fill="#c0e3f8" stroke="#ffffff" stroke-width="0.4"/>
<circle cx="94.98" cy="418.39" r="2.9" fill="#c0e3f8" stroke="#ffffff" stroke-width="0.4"/>
<circle cx="100.21" cy="432.84" r="2.9" fill="#c0e3f8" stroke="#ffffff" stroke-width="0.4"/>
<circle cx="92.91" cy="419.57" r="2.9" fill="#c0e3f8" stroke="#ffffff" stroke-width="0.4"/>
<circle cx="98.24" cy="444.07" r="2.9" fill="#c0e3f8" stroke="#ffffff" stroke-width="0.4"/>
<circle cx="96.88" cy="424.3" r="2.9" fill="#c0e3f8" stroke="#ffffff" stroke-width="0.4"/>
<circle cx="93.7" cy="444.02" r="2.9" fill="#c0e3f8" stroke="#ffffff" stroke-width="0.4"/>
<circle cx="103.89" cy="428.07" r="2.9" fill="#c0e3f8" stroke="#ffffff" stroke-width="0.4"/>
<circle cx="104.56" cy="412.85" r="2.9" fill="#c0e3f8" stroke="#ffffff" stroke-width="0.4"/>
<circle cx="99.18" cy="400.63" r="2.9" fill="#c0e3f8" stroke="#ffffff" stroke-width="0.4"/>
<circle cx="83.23" cy="420.24" r="2.9" fill="#c0e3f8" stroke="#ffffff" stroke-width="0.4"/>
<circle cx="96.09" cy="417.63" r="2.9" fill="#c0e3f8" stroke="#ffffff" stroke-width="0.4"/>
<circle cx="80.77" cy="433.14" r="2.9" fill="#c0e3f8" stroke="#ffffff" stroke-width="0.4"/>
<circle cx="96.89" cy="409.44" r="2.9" fill="#c0e3f8" stroke="#ffffff" stroke-width="0.4"/>
<circle cx="89.41" cy="417.57" r="2.9" fill="#c0e3f8" stroke="#ffffff" stroke-width="0.4"/>
<circle cx="93.33" cy="438.87" r="2.9" fill="#c0e3f8" stroke="#ffffff" stroke-width="0.4"/>
<circle cx="86.54" cy="435.82" r="2.9" fill="#c0e3f8" stroke="#ffffff" stroke-width="0.4"/>
<circle cx="98.27" cy="443.98" r="2.9" fill="#c0e3f8" stroke="#ffffff" stroke-width="0.4"/>
<circle cx="105.8" cy="302.1" r="2.95" fill="#fdf8bb" stroke="#c4c4c0" stroke-width="0.45"/>
<circle cx="110.7" cy="310.2" r="2.95" fill="#fdf8bb" stroke="#c4c4c0" stroke-width="0.45"/>
<circle cx="158.7" cy="360.1" r="2.95" fill="#fdf8bb" stroke="#c4c4c0" stroke-width="0.45"/>
<circle cx="100.6" cy="368.9" r="2.95" fill="#fdf8bb" stroke="#c4c4c0" stroke-width="0.45"/>
<circle cx="122.5" cy="387.5" r="2.95" fill="#fdf8bb" stroke="#c4c4c0" stroke-width="0.45"/>
<circle cx="117.2" cy="392.8" r="2.95" fill="#fdf8bb" stroke="#c4c4c0" stroke-width="0.45"/>
<circle cx="92.2" cy="392.8" r="2.95" fill="#fdf8bb" stroke="#c4c4c0" stroke-width="0.45"/>
<circle cx="96.2" cy="396.8" r="2.95" fill="#fdf8bb" stroke="#c4c4c0" stroke-width="0.45"/>
<circle cx="144.8" cy="399.4" r="2.95" fill="#fdf8bb" stroke="#c4c4c0" stroke-width="0.45"/>
<circle cx="119.2" cy="404.6" r="2.95" fill="#fdf8bb" stroke="#c4c4c0" stroke-width="0.45"/>
<circle cx="87.6" cy="399.4" r="2.95" fill="#fdf8bb" stroke="#c4c4c0" stroke-width="0.45"/>
<circle cx="175.5" cy="367.4" r="2.95" fill="#fdf8bb" stroke="#c4c4c0" stroke-width="0.45"/>
<circle cx="152.7" cy="386.9" r="2.95" fill="#fdf8bb" stroke="#c4c4c0" stroke-width="0.45"/>
<circle cx="223.8" cy="342.3" r="2.95" fill="#fdf8bb" stroke="#c4c4c0" stroke-width="0.45"/>
<circle cx="288.3" cy="338.1" r="2.95" fill="#fdf8bb" stroke="#c4c4c0" stroke-width="0.45"/>
<circle cx="293.8" cy="370.5" r="2.95" fill="#fdf8bb" stroke="#c4c4c0" stroke-width="0.45"/>
<circle cx="176.8" cy="367.6" r="2.95" fill="#fdf8bb" stroke="#c4c4c0" stroke-width="0.45"/>
<circle cx="87.9" cy="399.2" r="2.95" fill="#fdf8bb" stroke="#c4c4c0" stroke-width="0.45"/>
<circle cx="85" cy="407.3" r="2.95" fill="#fdf8bb" stroke="#c4c4c0" stroke-width="0.45"/>
<circle cx="116.5" cy="392.7" r="2.95" fill="#fdf8bb" stroke="#c4c4c0" stroke-width="0.45"/>
<circle cx="122.3" cy="387.5" r="2.95" fill="#fdf8bb" stroke="#c4c4c0" stroke-width="0.45"/>
<circle cx="118.6" cy="405.1" r="2.95" fill="#fdf8bb" stroke="#c4c4c0" stroke-width="0.45"/>
<circle cx="100.7" cy="370" r="2.95" fill="#fdf8bb" stroke="#c4c4c0" stroke-width="0.45"/>
<circle cx="69.2" cy="478.2" r="2.95" fill="#fdf8bb" stroke="#c4c4c0" stroke-width="0.45"/>
<circle cx="166.6" cy="426.2" r="2.95" fill="#fdf8bb" stroke="#c4c4c0" stroke-width="0.45"/>
<circle cx="145.1" cy="398.7" r="2.95" fill="#fdf8bb" stroke="#c4c4c0" stroke-width="0.45"/>
<circle cx="124.5" cy="397.8" r="2.9" fill="#c0e3f8" stroke="#ffffff" stroke-width="0.4"/>
<circle cx="112.8" cy="438.7" r="2.9" fill="#c0e3f8" stroke="#ffffff" stroke-width="0.4"/>
<circle cx="112.1" cy="443.1" r="2.9" fill="#c0e3f8" stroke="#ffffff" stroke-width="0.4"/>
<circle cx="123.8" cy="448.2" r="2.9" fill="#c0e3f8" stroke="#ffffff" stroke-width="0.4"/>
<circle cx="123" cy="435.1" r="2.9" fill="#c0e3f8" stroke="#ffffff" stroke-width="0.4"/>
<circle cx="123" cy="427.7" r="2.9" fill="#c0e3f8" stroke="#ffffff" stroke-width="0.4"/>
<circle cx="115.7" cy="429.2" r="2.9" fill="#c0e3f8" stroke="#ffffff" stroke-width="0.4"/>
<circle cx="67.5" cy="430.7" r="2.9" fill="#c0e3f8" stroke="#ffffff" stroke-width="0.4"/>
<circle cx="70.4" cy="432.9" r="2.9" fill="#c0e3f8" stroke="#ffffff" stroke-width="0.4"/>
<circle cx="74.8" cy="432.1" r="2.9" fill="#c0e3f8" stroke="#ffffff" stroke-width="0.4"/>
<circle cx="63.1" cy="448.9" r="2.9" fill="#c0e3f8" stroke="#ffffff" stroke-width="0.4"/>
<circle cx="66.7" cy="451.1" r="2.9" fill="#c0e3f8" stroke="#ffffff" stroke-width="0.4"/>
<circle cx="74.8" cy="449.7" r="2.9" fill="#c0e3f8" stroke="#ffffff" stroke-width="0.4"/>
<circle cx="80.6" cy="450.4" r="2.9" fill="#c0e3f8" stroke="#ffffff" stroke-width="0.4"/>
<circle cx="74.8" cy="454.8" r="2.9" fill="#c0e3f8" stroke="#ffffff" stroke-width="0.4"/>
<circle cx="57.2" cy="462.8" r="2.9" fill="#c0e3f8" stroke="#ffffff" stroke-width="0.4"/>
<circle cx="80.6" cy="463.6" r="2.9" fill="#c0e3f8" stroke="#ffffff" stroke-width="0.4"/>
<circle cx="92.3" cy="459.2" r="2.9" fill="#c0e3f8" stroke="#ffffff" stroke-width="0.4"/>
<circle cx="96" cy="461.4" r="2.9" fill="#c0e3f8" stroke="#ffffff" stroke-width="0.4"/>
<circle cx="96.7" cy="455.5" r="2.9" fill="#c0e3f8" stroke="#ffffff" stroke-width="0.4"/>
<circle cx="98.9" cy="450.4" r="2.9" fill="#c0e3f8" stroke="#ffffff" stroke-width="0.4"/>
<circle cx="99.6" cy="448.2" r="2.9" fill="#c0e3f8" stroke="#ffffff" stroke-width="0.4"/>
<circle cx="102.6" cy="438" r="2.9" fill="#c0e3f8" stroke="#ffffff" stroke-width="0.4"/>
<circle cx="49.5" cy="489.9" r="2.9" fill="#c0e3f8" stroke="#ffffff" stroke-width="0.4"/>
<circle cx="55.7" cy="485.7" r="2.9" fill="#c0e3f8" stroke="#ffffff" stroke-width="0.4"/>
<circle cx="55.7" cy="493.4" r="2.9" fill="#c0e3f8" stroke="#ffffff" stroke-width="0.4"/>
<circle cx="59.9" cy="495.2" r="2.9" fill="#c0e3f8" stroke="#ffffff" stroke-width="0.4"/>
<circle cx="62.7" cy="486.1" r="2.9" fill="#c0e3f8" stroke="#ffffff" stroke-width="0.4"/>
<circle cx="57.8" cy="479.6" r="2.9" fill="#c0e3f8" stroke="#ffffff" stroke-width="0.4"/>
<circle cx="54.3" cy="477.7" r="2.9" fill="#c0e3f8" stroke="#ffffff" stroke-width="0.4"/>
<circle cx="59.9" cy="472.9" r="2.9" fill="#c0e3f8" stroke="#ffffff" stroke-width="0.4"/>
<circle cx="66" cy="471.2" r="2.9" fill="#c0e3f8" stroke="#ffffff" stroke-width="0.4"/>
<circle cx="57.4" cy="463.3" r="2.9" fill="#c0e3f8" stroke="#ffffff" stroke-width="0.4"/>
<circle cx="60.9" cy="465.9" r="2.9" fill="#c0e3f8" stroke="#ffffff" stroke-width="0.4"/>
<circle cx="63" cy="448.9" r="2.9" fill="#c0e3f8" stroke="#ffffff" stroke-width="0.4"/>
<circle cx="68.3" cy="451" r="2.9" fill="#c0e3f8" stroke="#ffffff" stroke-width="0.4"/>
<circle cx="74.4" cy="451.9" r="2.9" fill="#c0e3f8" stroke="#ffffff" stroke-width="0.4"/>
<circle cx="80.2" cy="451" r="2.9" fill="#c0e3f8" stroke="#ffffff" stroke-width="0.4"/>
<circle cx="80.6" cy="465.6" r="2.9" fill="#c0e3f8" stroke="#ffffff" stroke-width="0.4"/>
<circle cx="92.8" cy="459.4" r="2.9" fill="#c0e3f8" stroke="#ffffff" stroke-width="0.4"/>
<circle cx="96" cy="461.5" r="2.9" fill="#c0e3f8" stroke="#ffffff" stroke-width="0.4"/>
<circle cx="96.7" cy="456.3" r="2.9" fill="#c0e3f8" stroke="#ffffff" stroke-width="0.4"/>
<circle cx="98.1" cy="451.9" r="2.9" fill="#c0e3f8" stroke="#ffffff" stroke-width="0.4"/>
<circle cx="99.8" cy="448.4" r="2.9" fill="#c0e3f8" stroke="#ffffff" stroke-width="0.4"/>
<circle cx="102.8" cy="437.9" r="2.9" fill="#c0e3f8" stroke="#ffffff" stroke-width="0.4"/>
<circle cx="113" cy="439.6" r="2.9" fill="#c0e3f8" stroke="#ffffff" stroke-width="0.4"/>
<circle cx="123.5" cy="448" r="2.9" fill="#c0e3f8" stroke="#ffffff" stroke-width="0.4"/>
<circle cx="122.6" cy="435.3" r="2.9" fill="#c0e3f8" stroke="#ffffff" stroke-width="0.4"/>
<circle cx="128.7" cy="432.6" r="2.9" fill="#c0e3f8" stroke="#ffffff" stroke-width="0.4"/>
<circle cx="131" cy="438.4" r="2.9" fill="#c0e3f8" stroke="#ffffff" stroke-width="0.4"/>
<circle cx="112.1" cy="498.3" r="2.9" fill="#c0e3f8" stroke="#ffffff" stroke-width="0.4"/>
<circle cx="188.8" cy="417.7" r="2.9" fill="#c0e3f8" stroke="#ffffff" stroke-width="0.4"/>
<circle cx="202.6" cy="415.2" r="2.9" fill="#c0e3f8" stroke="#ffffff" stroke-width="0.4"/>
<circle cx="237.5" cy="424.7" r="2.9" fill="#c0e3f8" stroke="#ffffff" stroke-width="0.4"/>
<circle cx="174.9" cy="436.1" r="2.9" fill="#c0e3f8" stroke="#ffffff" stroke-width="0.4"/>
<circle cx="155" cy="441.8" r="2.9" fill="#c0e3f8" stroke="#ffffff" stroke-width="0.4"/>
<circle cx="142.3" cy="418.3" r="2.9" fill="#c0e3f8" stroke="#ffffff" stroke-width="0.4"/>
<circle cx="132.8" cy="417.7" r="2.9" fill="#c0e3f8" stroke="#ffffff" stroke-width="0.4"/>
<circle cx="128" cy="426.2" r="2.9" fill="#c0e3f8" stroke="#ffffff" stroke-width="0.4"/>
<circle cx="129" cy="431.9" r="2.9" fill="#c0e3f8" stroke="#ffffff" stroke-width="0.4"/>
<circle cx="122.7" cy="435.7" r="2.9" fill="#c0e3f8" stroke="#ffffff" stroke-width="0.4"/>
<circle cx="130.9" cy="438.6" r="2.9" fill="#c0e3f8" stroke="#ffffff" stroke-width="0.4"/>
<circle cx="123.7" cy="448.1" r="2.9" fill="#c0e3f8" stroke="#ffffff" stroke-width="0.4"/>
<circle cx="134.7" cy="393" r="2.9" fill="#c0e3f8" stroke="#ffffff" stroke-width="0.4"/>
<circle cx="141.9" cy="392.1" r="2.9" fill="#c0e3f8" stroke="#ffffff" stroke-width="0.4"/>
<circle cx="157.4" cy="400.6" r="2.9" fill="#c0e3f8" stroke="#ffffff" stroke-width="0.4"/>
<circle cx="161.2" cy="384.5" r="2.9" fill="#c0e3f8" stroke="#ffffff" stroke-width="0.4"/>
<circle cx="193.8" cy="355.1" r="2.9" fill="#c0e3f8" stroke="#ffffff" stroke-width="0.4"/>
<circle cx="260.6" cy="346.4" r="2.9" fill="#c0e3f8" stroke="#ffffff" stroke-width="0.4"/>
<circle cx="195" cy="355.7" r="2.9" fill="#c0e3f8" stroke="#ffffff" stroke-width="0.4"/>
<circle cx="104.8" cy="363.5" r="2.9" fill="#c0e3f8" stroke="#ffffff" stroke-width="0.4"/>
<circle cx="109.3" cy="370.8" r="2.9" fill="#c0e3f8" stroke="#ffffff" stroke-width="0.4"/>
<circle cx="106" cy="374.6" r="2.9" fill="#c0e3f8" stroke="#ffffff" stroke-width="0.4"/>
<circle cx="100.8" cy="381" r="2.9" fill="#c0e3f8" stroke="#ffffff" stroke-width="0.4"/>
<circle cx="92.9" cy="387.6" r="2.9" fill="#c0e3f8" stroke="#ffffff" stroke-width="0.4"/>
<circle cx="106" cy="383.6" r="2.9" fill="#c0e3f8" stroke="#ffffff" stroke-width="0.4"/>
<circle cx="111.3" cy="382.3" r="2.9" fill="#c0e3f8" stroke="#ffffff" stroke-width="0.4"/>
<circle cx="134.9" cy="387.6" r="2.9" fill="#c0e3f8" stroke="#ffffff" stroke-width="0.4"/>
<circle cx="140.2" cy="391.5" r="2.9" fill="#c0e3f8" stroke="#ffffff" stroke-width="0.4"/>
<circle cx="142.8" cy="395.4" r="2.9" fill="#c0e3f8" stroke="#ffffff" stroke-width="0.4"/>
<circle cx="136.2" cy="400.7" r="2.9" fill="#c0e3f8" stroke="#ffffff" stroke-width="0.4"/>
<circle cx="156.6" cy="400" r="2.9" fill="#c0e3f8" stroke="#ffffff" stroke-width="0.4"/>
<circle cx="131" cy="416.5" r="2.9" fill="#c0e3f8" stroke="#ffffff" stroke-width="0.4"/>
<circle cx="142.2" cy="417.1" r="2.9" fill="#c0e3f8" stroke="#ffffff" stroke-width="0.4"/>
<circle cx="125" cy="420" r="2.9" fill="#c0e3f8" stroke="#ffffff" stroke-width="0.4"/>
<circle cx="119" cy="430" r="2.9" fill="#c0e3f8" stroke="#ffffff" stroke-width="0.4"/>
<circle cx="126" cy="441" r="2.9" fill="#c0e3f8" stroke="#ffffff" stroke-width="0.4"/>
<circle cx="71" cy="445" r="2.9" fill="#c0e3f8" stroke="#ffffff" stroke-width="0.4"/>
<circle cx="77" cy="445" r="2.9" fill="#c0e3f8" stroke="#ffffff" stroke-width="0.4"/>
<circle cx="69" cy="440" r="2.9" fill="#c0e3f8" stroke="#ffffff" stroke-width="0.4"/>
<circle cx="78" cy="437" r="2.9" fill="#c0e3f8" stroke="#ffffff" stroke-width="0.4"/>
<text transform="translate(180.2 403.05) rotate(-25)" font-size="9.8" font-weight="bold" fill="#a9d8f5" stroke="#a9d8f5" stroke-width="0.15" letter-spacing="0.4">To re-melting of 160 Ma</text>
<text transform="translate(189.04 410.56) rotate(-25.2)" font-size="9.8" font-weight="bold" fill="#a9d8f5" stroke="#a9d8f5" stroke-width="0.15" letter-spacing="0.64">18% melting restite</text>
<text transform="translate(201.18 331.92) rotate(-19.65)" font-size="9.8" font-weight="bold" fill="#17a0ea" stroke="#17a0ea" stroke-width="0.15" letter-spacing="0.52">Re-melting of 160 Ma 10%</text>
<text transform="translate(258.29 324.12) rotate(-19.95)" font-size="9.8" font-weight="bold" fill="#17a0ea" stroke="#17a0ea" stroke-width="0.15" letter-spacing="0.62">melting restite</text>
<path d="M181.8 343.3L198.2 341.3L224.4 338L266.2 333.2" stroke="#1b82d8" stroke-width="2.2" fill="none" stroke-dasharray="5 2.3" stroke-linecap="butt"/>
<path d="M124.4 413.8L163.8 390.8L183.4 381.1L213.2 363.9L266.2 333.2" stroke="#1b82d8" stroke-width="2.2" fill="none" stroke-dasharray="5 2.3" stroke-linecap="butt"/>
<circle cx="198.2" cy="341.3" r="2.45" fill="#1f93ec" stroke="#2b3bb8" stroke-width="0.8"/>
<circle cx="224.4" cy="338" r="2.45" fill="#1f93ec" stroke="#2b3bb8" stroke-width="0.8"/>
<circle cx="163.8" cy="390.8" r="2.45" fill="#1f93ec" stroke="#2b3bb8" stroke-width="0.8"/>
<circle cx="183.4" cy="381.1" r="2.45" fill="#1f93ec" stroke="#2b3bb8" stroke-width="0.8"/>
<circle cx="213.2" cy="363.9" r="2.45" fill="#1f93ec" stroke="#2b3bb8" stroke-width="0.8"/>
<text x="184.1" y="352" font-size="6.4" fill="#4a4aa6" stroke="#4a4aa6" stroke-width="0.2" text-anchor="middle">70</text>
<text x="205.3" y="348.6" font-size="6.4" fill="#4a4aa6" stroke="#4a4aa6" stroke-width="0.2" text-anchor="middle">80</text>
<text x="231.6" y="344.8" font-size="6.4" fill="#4a4aa6" stroke="#4a4aa6" stroke-width="0.2" text-anchor="middle">90</text>
<text x="167.8" y="387" font-size="6.4" fill="#4a4aa6" stroke="#4a4aa6" stroke-width="0.2" text-anchor="middle">70</text>
<text x="183.4" y="377.4" font-size="6.4" fill="#4a4aa6" stroke="#4a4aa6" stroke-width="0.2" text-anchor="middle">80</text>
<text x="211.9" y="360.6" font-size="6.4" fill="#4a4aa6" stroke="#4a4aa6" stroke-width="0.2" text-anchor="middle">90</text>
<path d="M270.7 330.1L277.11 323.01" stroke="#1a90e2" stroke-width="1.4" fill="none"/>
<path d="M280.2 319.6L278.45 324.22L275.78 321.8Z" fill="#1a90e2"/>
<path d="M266.2 328.2L271.34 331.93L269.37 337.97L263.03 337.97L261.06 331.93Z" fill="#1f93ec" stroke="#2c2f9e" stroke-width="1"/>
<path d="M46.3 424.1L53.5 431.3M46.3 431.3L53.5 424.1" stroke="#000000" stroke-width="1.3" fill="none"/>
<path d="M69.5 439.9L76.7 447.1M69.5 447.1L76.7 439.9" stroke="#000000" stroke-width="1.3" fill="none"/>
<path d="M62.4 453L69.6 460.2M62.4 460.2L69.6 453" stroke="#000000" stroke-width="1.3" fill="none"/>
<path d="M51 468.1L58.2 475.3M51 475.3L58.2 468.1" stroke="#000000" stroke-width="1.3" fill="none"/>
<path d="M161.6 335L166.4 339.8L161.6 344.6L156.8 339.8Z" fill="#e8212b" stroke="#2a2018" stroke-width="1.2" stroke-linejoin="miter"/>
<path d="M148.7 342.6L153.5 347.4L148.7 352.2L143.9 347.4Z" fill="#e8212b" stroke="#2a2018" stroke-width="1.2" stroke-linejoin="miter"/>
<path d="M159 344.1L164 349.1L159 354.1L154 349.1Z" fill="#b24a9c" stroke="#2a2018" stroke-width="1.2" stroke-linejoin="miter"/>
<path d="M144.9 345.55L150 355.85L139.8 355.85Z" fill="#1e9ce9" stroke="#2a2018" stroke-width="1.2" stroke-linejoin="miter"/>
<path d="M149 349.05L154.1 359.35L143.9 359.35Z" fill="#1e9ce9" stroke="#2a2018" stroke-width="1.2" stroke-linejoin="miter"/>
<path d="M157 346.65L162.1 356.95L151.9 356.95Z" fill="#1e9ce9" stroke="#2a2018" stroke-width="1.2" stroke-linejoin="miter"/>
<path d="M161.7 347.85L166.8 358.15L156.6 358.15Z" fill="#1e9ce9" stroke="#2a2018" stroke-width="1.2" stroke-linejoin="miter"/>
<path d="M137.6 360.05L142.7 370.35L132.5 370.35Z" fill="#1e9ce9" stroke="#2a2018" stroke-width="1.2" stroke-linejoin="miter"/>
<path d="M141 362.85L146.1 373.15L135.9 373.15Z" fill="#1e9ce9" stroke="#2a2018" stroke-width="1.2" stroke-linejoin="miter"/>
<path d="M144.1 368.05L149.2 378.35L139 378.35Z" fill="#1e9ce9" stroke="#2a2018" stroke-width="1.2" stroke-linejoin="miter"/>
<path d="M147.4 365.25L152.5 375.55L142.3 375.55Z" fill="#1e9ce9" stroke="#2a2018" stroke-width="1.2" stroke-linejoin="miter"/>
<path d="M139 354.85L144.1 365.15L133.9 365.15Z" fill="#1e9ce9" stroke="#2a2018" stroke-width="1.2" stroke-linejoin="miter"/>
<path d="M192.3 340L197.1 344.8L192.3 349.6L187.5 344.8Z" fill="#e8212b" stroke="#2a2018" stroke-width="1.2" stroke-linejoin="miter"/>
<path d="M177.7 337.9L182.5 342.7L177.7 347.5L172.9 342.7Z" fill="#e8212b" stroke="#2a2018" stroke-width="1.2" stroke-linejoin="miter"/>
<path d="M170.1 344.3L174.9 349.1L170.1 353.9L165.3 349.1Z" fill="#e8212b" stroke="#2a2018" stroke-width="1.2" stroke-linejoin="miter"/>
<path d="M161.3 335.6L166.1 340.4L161.3 345.2L156.5 340.4Z" fill="#e8212b" stroke="#2a2018" stroke-width="1.2" stroke-linejoin="miter"/>
<path d="M140.8 336.1L145.6 340.9L140.8 345.7L136 340.9Z" fill="#e8212b" stroke="#2a2018" stroke-width="1.2" stroke-linejoin="miter"/>
<path d="M143.7 357.9L148.5 362.7L143.7 367.5L138.9 362.7Z" fill="#e8212b" stroke="#2a2018" stroke-width="1.2" stroke-linejoin="miter"/>
<path d="M148.5 343.2L153.3 348L148.5 352.8L143.7 348Z" fill="#e8212b" stroke="#2a2018" stroke-width="1.2" stroke-linejoin="miter"/>
<path d="M170.7 336.8L176 342.1L170.7 347.4L165.4 342.1Z" fill="#b24a9c" stroke="#2a2018" stroke-width="1.2" stroke-linejoin="miter"/>
<path d="M218.5 327.9L223.8 333.2L218.5 338.5L213.2 333.2Z" fill="#b24a9c" stroke="#2a2018" stroke-width="1.2" stroke-linejoin="miter"/>
<path d="M125.6 313.1L130.6 318.1L125.6 323.1L120.6 318.1Z" fill="#0b9a4c" stroke="#2a2018" stroke-width="1.2" stroke-linejoin="miter"/>
<path d="M131.5 316.1L136.5 321.1L131.5 326.1L126.5 321.1Z" fill="#0b9a4c" stroke="#2a2018" stroke-width="1.2" stroke-linejoin="miter"/>
<path d="M140.9 321.9L145.9 326.9L140.9 331.9L135.9 326.9Z" fill="#0b9a4c" stroke="#2a2018" stroke-width="1.2" stroke-linejoin="miter"/>
<path d="M187.6 308.5L192.6 313.5L187.6 318.5L182.6 313.5Z" fill="#0b9a4c" stroke="#2a2018" stroke-width="1.2" stroke-linejoin="miter"/>
<path d="M155.5 313.1L160.5 318.1L155.5 323.1L150.5 318.1Z" fill="#0b9a4c" stroke="#2a2018" stroke-width="1.2" stroke-linejoin="miter"/>
<path d="M160.1 312.5L165.1 317.5L160.1 322.5L155.1 317.5Z" fill="#0b9a4c" stroke="#2a2018" stroke-width="1.2" stroke-linejoin="miter"/>
<path d="M166 312.5L171 317.5L166 322.5L161 317.5Z" fill="#0b9a4c" stroke="#2a2018" stroke-width="1.2" stroke-linejoin="miter"/>
<path d="M156.6 316.6L161.6 321.6L156.6 326.6L151.6 321.6Z" fill="#0b9a4c" stroke="#2a2018" stroke-width="1.2" stroke-linejoin="miter"/>
<path d="M165.4 318.4L170.4 323.4L165.4 328.4L160.4 323.4Z" fill="#0b9a4c" stroke="#2a2018" stroke-width="1.2" stroke-linejoin="miter"/>
<path d="M159.6 322.5L164.6 327.5L159.6 332.5L154.6 327.5Z" fill="#0b9a4c" stroke="#2a2018" stroke-width="1.2" stroke-linejoin="miter"/>
<path d="M152.5 328.9L157.5 333.9L152.5 338.9L147.5 333.9Z" fill="#0b9a4c" stroke="#2a2018" stroke-width="1.2" stroke-linejoin="miter"/>
<path d="M147.9 335.4L152.9 340.4L147.9 345.4L142.9 340.4Z" fill="#0b9a4c" stroke="#2a2018" stroke-width="1.2" stroke-linejoin="miter"/>
<path d="M142 340.6L147 345.6L142 350.6L137 345.6Z" fill="#0b9a4c" stroke="#2a2018" stroke-width="1.2" stroke-linejoin="miter"/>
<path d="M154.3 341.2L159.3 346.2L154.3 351.2L149.3 346.2Z" fill="#0b9a4c" stroke="#2a2018" stroke-width="1.2" stroke-linejoin="miter"/>
<path d="M163.7 340L168.7 345L163.7 350L158.7 345Z" fill="#0b9a4c" stroke="#2a2018" stroke-width="1.2" stroke-linejoin="miter"/>
<path d="M169.5 324.8L174.5 329.8L169.5 334.8L164.5 329.8Z" fill="#0b9a4c" stroke="#2a2018" stroke-width="1.2" stroke-linejoin="miter"/>
<path d="M174.2 319L179.2 324L174.2 329L169.2 324Z" fill="#0b9a4c" stroke="#2a2018" stroke-width="1.2" stroke-linejoin="miter"/>
<path d="M176.5 326L181.5 331L176.5 336L171.5 331Z" fill="#0b9a4c" stroke="#2a2018" stroke-width="1.2" stroke-linejoin="miter"/>
<path d="M180.6 323.7L185.6 328.7L180.6 333.7L175.6 328.7Z" fill="#0b9a4c" stroke="#2a2018" stroke-width="1.2" stroke-linejoin="miter"/>
<path d="M180.6 331.8L185.6 336.8L180.6 341.8L175.6 336.8Z" fill="#0b9a4c" stroke="#2a2018" stroke-width="1.2" stroke-linejoin="miter"/>
<path d="M167.7 329.5L172.7 334.5L167.7 339.5L162.7 334.5Z" fill="#0b9a4c" stroke="#2a2018" stroke-width="1.2" stroke-linejoin="miter"/>
<path d="M164.3 314.9L169.3 319.9L164.3 324.9L159.3 319.9Z" fill="#0b9a4c" stroke="#2a2018" stroke-width="1.2" stroke-linejoin="miter"/>
<path d="M172.8 322.4L177.8 327.4L172.8 332.4L167.8 327.4Z" fill="#0b9a4c" stroke="#2a2018" stroke-width="1.2" stroke-linejoin="miter"/>
<path d="M167 368.45L172.1 378.75L161.9 378.75Z" fill="#1e9ce9" stroke="#2a2018" stroke-width="1.2" stroke-linejoin="miter"/>
<path d="M166.6 388.55L171.7 398.85L161.5 398.85Z" fill="#1e9ce9" stroke="#2a2018" stroke-width="1.2" stroke-linejoin="miter"/>
<path d="M140.1 400.65L145.2 410.95L135 410.95Z" fill="#1e9ce9" stroke="#2a2018" stroke-width="1.2" stroke-linejoin="miter"/>
<path d="M144.4 401.45L149.5 411.75L139.3 411.75Z" fill="#1e9ce9" stroke="#2a2018" stroke-width="1.2" stroke-linejoin="miter"/>
<rect x="113.55" y="374.75" width="9.9" height="9.9" fill="#fff200" stroke="#2a2018" stroke-width="1.2"/>
<rect x="112.95" y="364.25" width="9.9" height="9.9" fill="#fff200" stroke="#2a2018" stroke-width="1.2"/>
<rect x="119.45" y="365.55" width="9.9" height="9.9" fill="#fff200" stroke="#2a2018" stroke-width="1.2"/>
<rect x="112.25" y="356.95" width="9.9" height="9.9" fill="#fff200" stroke="#2a2018" stroke-width="1.2"/>
<rect x="120.75" y="355.65" width="9.9" height="9.9" fill="#fff200" stroke="#2a2018" stroke-width="1.2"/>
<rect x="123.45" y="360.25" width="9.9" height="9.9" fill="#fff200" stroke="#2a2018" stroke-width="1.2"/>
<rect x="129.95" y="347.75" width="9.9" height="9.9" fill="#fff200" stroke="#2a2018" stroke-width="1.2"/>
<rect x="126.05" y="353.05" width="9.9" height="9.9" fill="#fff200" stroke="#2a2018" stroke-width="1.2"/>
<path d="M95.4 368.45L100.5 378.75L90.3 378.75Z" fill="#f18a1b" stroke="#2a2018" stroke-width="1.2" stroke-linejoin="miter"/>
<path d="M132.6 352.25L137.7 362.55L127.5 362.55Z" fill="#f18a1b" stroke="#2a2018" stroke-width="1.2" stroke-linejoin="miter"/>
<path d="M131.8 348.35L136.9 358.65L126.7 358.65Z" fill="#f18a1b" stroke="#2a2018" stroke-width="1.2" stroke-linejoin="miter"/>
<path d="M130.4 342.65L135.5 352.95L125.3 352.95Z" fill="#f18a1b" stroke="#2a2018" stroke-width="1.2" stroke-linejoin="miter"/>
<circle cx="156.6" cy="368.6" r="4.85" fill="#f18a1b" stroke="#2a2018" stroke-width="1.15"/>
<circle cx="152.6" cy="371.3" r="4.85" fill="#f18a1b" stroke="#2a2018" stroke-width="1.15"/>
<circle cx="142.8" cy="369.9" r="4.85" fill="#f18a1b" stroke="#2a2018" stroke-width="1.15"/>
<circle cx="118.9" cy="375.1" r="4.85" fill="#f18a1b" stroke="#2a2018" stroke-width="1.15"/>
<circle cx="127" cy="377.7" r="4.85" fill="#f18a1b" stroke="#2a2018" stroke-width="1.15"/>
<circle cx="135.6" cy="375.1" r="4.85" fill="#f18a1b" stroke="#2a2018" stroke-width="1.15"/>
<circle cx="137.3" cy="381" r="4.85" fill="#f18a1b" stroke="#2a2018" stroke-width="1.15"/>
<rect x="112.8" y="414.2" width="9.6" height="9.6" fill="#fff200" stroke="#e8212b" stroke-width="1.3"/>
<path d="M112.8 414.2L122.4 423.8M112.8 423.8L122.4 414.2" stroke="#e8212b" stroke-width="1.1" fill="none"/>
<rect x="28.2" y="279.3" width="304.9" height="232.3" fill="none" stroke="#3a3030" stroke-width="1.25"/>
<path d="M43.45 511.6v-2.9M58.69 511.6v-2.9M73.94 511.6v-2.9M89.18 511.6v-2.9M104.43 511.6v-4M119.67 511.6v-2.9M134.91 511.6v-2.9M150.16 511.6v-2.9M165.41 511.6v-2.9M180.65 511.6v-4M195.9 511.6v-2.9M211.14 511.6v-2.9M226.38 511.6v-2.9M241.63 511.6v-2.9M256.88 511.6v-4M272.12 511.6v-2.9M287.37 511.6v-2.9M302.61 511.6v-2.9M317.86 511.6v-2.9M28.2 290.92h2.9M28.2 302.53h2.9M28.2 314.15h2.9M28.2 325.76h2.9M28.2 337.38h4M28.2 348.99h2.9M28.2 360.61h2.9M28.2 372.22h2.9M28.2 383.84h2.9M28.2 395.45h4M28.2 407.07h2.9M28.2 418.68h2.9M28.2 430.3h2.9M28.2 441.91h2.9M28.2 453.52h4M28.2 465.14h2.9M28.2 476.75h2.9M28.2 488.37h2.9M28.2 499.99h2.9" stroke="#3a3030" stroke-width="1" fill="none"/>
<text transform="translate(10.2 285.3) scale(1.06 1)" font-size="13.1" fill="#231815" stroke="#231815" stroke-width="0.12" letter-spacing="0.88">25</text>
<text transform="translate(10.4 341.8) scale(1.06 1)" font-size="13.1" fill="#231815" stroke="#231815" stroke-width="0.12" letter-spacing="0.47">20</text>
<text transform="translate(10.94 400.1) scale(1.06 1)" font-size="13.1" fill="#231815" stroke="#231815" stroke-width="0.12" letter-spacing="0.18">15</text>
<text transform="translate(10.94 457.3) scale(1.06 1)" font-size="13.1" fill="#231815" stroke="#231815" stroke-width="0.12" letter-spacing="-0.04">10</text>
<text transform="translate(17.1 514.9) scale(0.9499 1)" font-size="13.1" fill="#231815" stroke="#231815" stroke-width="0.12">5</text>
<text transform="translate(18.21 525.7) scale(1.06 1)" font-size="13.1" fill="#231815" stroke="#231815" stroke-width="0.12" letter-spacing="0.56">0.0</text>
<text transform="translate(94.43 525.7) scale(1.06 1)" font-size="13.1" fill="#231815" stroke="#231815" stroke-width="0.12" letter-spacing="0.63">0.2</text>
<text transform="translate(170.66 525.7) scale(1.06 1)" font-size="13.1" fill="#231815" stroke="#231815" stroke-width="0.12" letter-spacing="0.49">0.4</text>
<text transform="translate(246.88 525.7) scale(1.06 1)" font-size="13.1" fill="#231815" stroke="#231815" stroke-width="0.12" letter-spacing="0.59">0.6</text>
<text transform="translate(323.11 525.7) scale(1.06 1)" font-size="13.1" fill="#231815" stroke="#231815" stroke-width="0.12" letter-spacing="0.59">0.8</text>
<text transform="translate(163.27 538.1) scale(1.06 1)" font-size="13" fill="#231815" stroke="#231815" stroke-width="0.12" letter-spacing="0.54">Lu/Hf</text>
<text transform="translate(10.25 402.05) rotate(-90)" font-size="14" fill="#231815" letter-spacing="0.63">Hf</text>
<text transform="translate(10.25 408.37) rotate(-90) scale(0.8298 1)" font-size="13.2" fill="#231815">ε</text>
<text x="41" y="304.1" font-size="20.4" fill="#231815" stroke="#231815" stroke-width="0.15">B</text>
</g>
<g transform="translate(339.95 0)">
<path d="M118.35 413.3L122.75 385" stroke="#e8212b" stroke-width="2.0" fill="none" stroke-linecap="butt"/>
<circle cx="94.9" cy="424.1" r="2.9" fill="#c0e3f8" stroke="#ffffff" stroke-width="0.4"/>
<circle cx="97.35" cy="426.23" r="2.9" fill="#c0e3f8" stroke="#ffffff" stroke-width="0.4"/>
<circle cx="83.13" cy="420.42" r="2.9" fill="#c0e3f8" stroke="#ffffff" stroke-width="0.4"/>
<circle cx="102.71" cy="442.06" r="2.9" fill="#c0e3f8" stroke="#ffffff" stroke-width="0.4"/>
<circle cx="78.99" cy="443.34" r="2.9" fill="#c0e3f8" stroke="#ffffff" stroke-width="0.4"/>
<circle cx="105.51" cy="384.22" r="2.9" fill="#c0e3f8" stroke="#ffffff" stroke-width="0.4"/>
<circle cx="103.77" cy="428.4" r="2.9" fill="#c0e3f8" stroke="#ffffff" stroke-width="0.4"/>
<circle cx="98.25" cy="385.59" r="2.9" fill="#c0e3f8" stroke="#ffffff" stroke-width="0.4"/>
<circle cx="94.38" cy="445.87" r="2.9" fill="#c0e3f8" stroke="#ffffff" stroke-width="0.4"/>
<circle cx="97.84" cy="430.3" r="2.9" fill="#c0e3f8" stroke="#ffffff" stroke-width="0.4"/>
<circle cx="96.99" cy="432.01" r="2.9" fill="#c0e3f8" stroke="#ffffff" stroke-width="0.4"/>
<circle cx="95.12" cy="402.42" r="2.9" fill="#c0e3f8" stroke="#ffffff" stroke-width="0.4"/>
<circle cx="88.87" cy="398.68" r="2.9" fill="#c0e3f8" stroke="#ffffff" stroke-width="0.4"/>
<circle cx="108.72" cy="411.83" r="2.9" fill="#c0e3f8" stroke="#ffffff" stroke-width="0.4"/>
<circle cx="112.25" cy="410.76" r="2.9" fill="#c0e3f8" stroke="#ffffff" stroke-width="0.4"/>
<circle cx="78.21" cy="429.47" r="2.9" fill="#c0e3f8" stroke="#ffffff" stroke-width="0.4"/>
<circle cx="109.25" cy="401.77" r="2.9" fill="#c0e3f8" stroke="#ffffff" stroke-width="0.4"/>
<circle cx="110.07" cy="394.68" r="2.9" fill="#c0e3f8" stroke="#ffffff" stroke-width="0.4"/>
<circle cx="99.61" cy="415.45" r="2.9" fill="#c0e3f8" stroke="#ffffff" stroke-width="0.4"/>
<circle cx="83.39" cy="437.36" r="2.9" fill="#c0e3f8" stroke="#ffffff" stroke-width="0.4"/>
<circle cx="80.76" cy="430.57" r="2.9" fill="#c0e3f8" stroke="#ffffff" stroke-width="0.4"/>
<circle cx="80.13" cy="413.4" r="2.9" fill="#c0e3f8" stroke="#ffffff" stroke-width="0.4"/>
<circle cx="84.37" cy="401.77" r="2.9" fill="#c0e3f8" stroke="#ffffff" stroke-width="0.4"/>
<circle cx="88.38" cy="449.13" r="2.9" fill="#c0e3f8" stroke="#ffffff" stroke-width="0.4"/>
<circle cx="84.27" cy="411.36" r="2.9" fill="#c0e3f8" stroke="#ffffff" stroke-width="0.4"/>
<circle cx="84.38" cy="400.89" r="2.9" fill="#c0e3f8" stroke="#ffffff" stroke-width="0.4"/>
<circle cx="109" cy="406.33" r="2.9" fill="#c0e3f8" stroke="#ffffff" stroke-width="0.4"/>
<circle cx="78.97" cy="425.87" r="2.9" fill="#c0e3f8" stroke="#ffffff" stroke-width="0.4"/>
<circle cx="85.69" cy="427.3" r="2.9" fill="#c0e3f8" stroke="#ffffff" stroke-width="0.4"/>
<circle cx="91.35" cy="415.9" r="2.9" fill="#c0e3f8" stroke="#ffffff" stroke-width="0.4"/>
<circle cx="100.28" cy="447.72" r="2.9" fill="#c0e3f8" stroke="#ffffff" stroke-width="0.4"/>
<circle cx="93.54" cy="389" r="2.9" fill="#c0e3f8" stroke="#ffffff" stroke-width="0.4"/>
<circle cx="85.49" cy="435.25" r="2.9" fill="#c0e3f8" stroke="#ffffff" stroke-width="0.4"/>
<circle cx="86.31" cy="444.43" r="2.9" fill="#c0e3f8" stroke="#ffffff" stroke-width="0.4"/>
<circle cx="101.24" cy="403.59" r="2.9" fill="#c0e3f8" stroke="#ffffff" stroke-width="0.4"/>
<circle cx="82.72" cy="436.47" r="2.9" fill="#c0e3f8" stroke="#ffffff" stroke-width="0.4"/>
<circle cx="99.61" cy="446.63" r="2.9" fill="#c0e3f8" stroke="#ffffff" stroke-width="0.4"/>
<circle cx="102.03" cy="402.58" r="2.9" fill="#c0e3f8" stroke="#ffffff" stroke-width="0.4"/>
<circle cx="115.36" cy="396.71" r="2.9" fill="#c0e3f8" stroke="#ffffff" stroke-width="0.4"/>
<circle cx="82.76" cy="409.4" r="2.9" fill="#c0e3f8" stroke="#ffffff" stroke-width="0.4"/>
<circle cx="100.18" cy="391.13" r="2.9" fill="#c0e3f8" stroke="#ffffff" stroke-width="0.4"/>
<circle cx="90.93" cy="449.6" r="2.9" fill="#c0e3f8" stroke="#ffffff" stroke-width="0.4"/>
<circle cx="105.41" cy="426" r="2.9" fill="#c0e3f8" stroke="#ffffff" stroke-width="0.4"/>
<circle cx="75.94" cy="429.99" r="2.9" fill="#c0e3f8" stroke="#ffffff" stroke-width="0.4"/>
<circle cx="96.22" cy="437.25" r="2.9" fill="#c0e3f8" stroke="#ffffff" stroke-width="0.4"/>
<circle cx="78.31" cy="423.05" r="2.9" fill="#c0e3f8" stroke="#ffffff" stroke-width="0.4"/>
<circle cx="90.48" cy="433.76" r="2.9" fill="#c0e3f8" stroke="#ffffff" stroke-width="0.4"/>
<circle cx="93.35" cy="441.87" r="2.9" fill="#c0e3f8" stroke="#ffffff" stroke-width="0.4"/>
<circle cx="102.5" cy="410.44" r="2.9" fill="#c0e3f8" stroke="#ffffff" stroke-width="0.4"/>
<circle cx="100.64" cy="427.88" r="2.9" fill="#c0e3f8" stroke="#ffffff" stroke-width="0.4"/>
<circle cx="78.53" cy="430.23" r="2.9" fill="#c0e3f8" stroke="#ffffff" stroke-width="0.4"/>
<circle cx="107.04" cy="410.91" r="2.9" fill="#c0e3f8" stroke="#ffffff" stroke-width="0.4"/>
<circle cx="107.34" cy="425.73" r="2.9" fill="#c0e3f8" stroke="#ffffff" stroke-width="0.4"/>
<circle cx="94.38" cy="445.55" r="2.9" fill="#c0e3f8" stroke="#ffffff" stroke-width="0.4"/>
<circle cx="78.69" cy="438.77" r="2.9" fill="#c0e3f8" stroke="#ffffff" stroke-width="0.4"/>
<circle cx="76.31" cy="427.3" r="2.9" fill="#c0e3f8" stroke="#ffffff" stroke-width="0.4"/>
<circle cx="96.16" cy="398.73" r="2.9" fill="#c0e3f8" stroke="#ffffff" stroke-width="0.4"/>
<circle cx="105.73" cy="419.29" r="2.9" fill="#c0e3f8" stroke="#ffffff" stroke-width="0.4"/>
<circle cx="88.25" cy="433.22" r="2.9" fill="#c0e3f8" stroke="#ffffff" stroke-width="0.4"/>
<circle cx="94.45" cy="449.66" r="2.9" fill="#c0e3f8" stroke="#ffffff" stroke-width="0.4"/>
<circle cx="89.39" cy="432.27" r="2.9" fill="#c0e3f8" stroke="#ffffff" stroke-width="0.4"/>
<circle cx="83.73" cy="414.18" r="2.9" fill="#c0e3f8" stroke="#ffffff" stroke-width="0.4"/>
<circle cx="113.73" cy="410.6" r="2.9" fill="#c0e3f8" stroke="#ffffff" stroke-width="0.4"/>
<circle cx="100.66" cy="405.37" r="2.9" fill="#c0e3f8" stroke="#ffffff" stroke-width="0.4"/>
<circle cx="80.99" cy="419.23" r="2.9" fill="#c0e3f8" stroke="#ffffff" stroke-width="0.4"/>
<circle cx="94.83" cy="402.19" r="2.9" fill="#c0e3f8" stroke="#ffffff" stroke-width="0.4"/>
<circle cx="84.42" cy="412.88" r="2.9" fill="#c0e3f8" stroke="#ffffff" stroke-width="0.4"/>
<circle cx="102.53" cy="419.03" r="2.9" fill="#c0e3f8" stroke="#ffffff" stroke-width="0.4"/>
<circle cx="88.88" cy="445.61" r="2.9" fill="#c0e3f8" stroke="#ffffff" stroke-width="0.4"/>
<circle cx="113.4" cy="384.19" r="2.9" fill="#c0e3f8" stroke="#ffffff" stroke-width="0.4"/>
<circle cx="106.18" cy="424.93" r="2.9" fill="#c0e3f8" stroke="#ffffff" stroke-width="0.4"/>
<circle cx="88.6" cy="441.95" r="2.9" fill="#c0e3f8" stroke="#ffffff" stroke-width="0.4"/>
<circle cx="111.51" cy="399.28" r="2.9" fill="#c0e3f8" stroke="#ffffff" stroke-width="0.4"/>
<circle cx="102.68" cy="415.38" r="2.9" fill="#c0e3f8" stroke="#ffffff" stroke-width="0.4"/>
<circle cx="102.72" cy="431.44" r="2.9" fill="#c0e3f8" stroke="#ffffff" stroke-width="0.4"/>
<circle cx="105.12" cy="396.35" r="2.9" fill="#c0e3f8" stroke="#ffffff" stroke-width="0.4"/>
<circle cx="95.91" cy="394.76" r="2.9" fill="#c0e3f8" stroke="#ffffff" stroke-width="0.4"/>
<circle cx="106.42" cy="394.79" r="2.9" fill="#c0e3f8" stroke="#ffffff" stroke-width="0.4"/>
<circle cx="86.98" cy="407.62" r="2.9" fill="#c0e3f8" stroke="#ffffff" stroke-width="0.4"/>
<circle cx="105.68" cy="421.07" r="2.9" fill="#c0e3f8" stroke="#ffffff" stroke-width="0.4"/>
<circle cx="102.04" cy="439.23" r="2.9" fill="#c0e3f8" stroke="#ffffff" stroke-width="0.4"/>
<circle cx="92.31" cy="441.98" r="2.9" fill="#c0e3f8" stroke="#ffffff" stroke-width="0.4"/>
<circle cx="114.87" cy="387.72" r="2.9" fill="#c0e3f8" stroke="#ffffff" stroke-width="0.4"/>
<circle cx="80.72" cy="415.92" r="2.9" fill="#c0e3f8" stroke="#ffffff" stroke-width="0.4"/>
<circle cx="91.58" cy="424.8" r="2.9" fill="#c0e3f8" stroke="#ffffff" stroke-width="0.4"/>
<circle cx="103.66" cy="396.78" r="2.9" fill="#c0e3f8" stroke="#ffffff" stroke-width="0.4"/>
<circle cx="103.23" cy="436.26" r="2.9" fill="#c0e3f8" stroke="#ffffff" stroke-width="0.4"/>
<circle cx="84.39" cy="450.3" r="2.9" fill="#c0e3f8" stroke="#ffffff" stroke-width="0.4"/>
<circle cx="98.63" cy="441.89" r="2.9" fill="#c0e3f8" stroke="#ffffff" stroke-width="0.4"/>
<circle cx="89.1" cy="451.07" r="2.9" fill="#c0e3f8" stroke="#ffffff" stroke-width="0.4"/>
<circle cx="112.65" cy="407.84" r="2.9" fill="#c0e3f8" stroke="#ffffff" stroke-width="0.4"/>
<circle cx="78.64" cy="414.95" r="2.9" fill="#c0e3f8" stroke="#ffffff" stroke-width="0.4"/>
<circle cx="99.21" cy="440.15" r="2.9" fill="#c0e3f8" stroke="#ffffff" stroke-width="0.4"/>
<circle cx="110.6" cy="385.93" r="2.9" fill="#c0e3f8" stroke="#ffffff" stroke-width="0.4"/>
<circle cx="110.19" cy="394.31" r="2.9" fill="#c0e3f8" stroke="#ffffff" stroke-width="0.4"/>
<circle cx="89.74" cy="441.67" r="2.9" fill="#c0e3f8" stroke="#ffffff" stroke-width="0.4"/>
<circle cx="97.73" cy="436.71" r="2.9" fill="#c0e3f8" stroke="#ffffff" stroke-width="0.4"/>
<circle cx="84.74" cy="421.55" r="2.9" fill="#c0e3f8" stroke="#ffffff" stroke-width="0.4"/>
<circle cx="87.77" cy="437.12" r="2.9" fill="#c0e3f8" stroke="#ffffff" stroke-width="0.4"/>
<circle cx="103.11" cy="421.25" r="2.9" fill="#c0e3f8" stroke="#ffffff" stroke-width="0.4"/>
<circle cx="88.71" cy="410.35" r="2.9" fill="#c0e3f8" stroke="#ffffff" stroke-width="0.4"/>
<circle cx="84.16" cy="446.51" r="2.9" fill="#c0e3f8" stroke="#ffffff" stroke-width="0.4"/>
<circle cx="100.21" cy="396.47" r="2.9" fill="#c0e3f8" stroke="#ffffff" stroke-width="0.4"/>
<circle cx="98.58" cy="419.74" r="2.9" fill="#c0e3f8" stroke="#ffffff" stroke-width="0.4"/>
<circle cx="101.63" cy="383.14" r="2.9" fill="#c0e3f8" stroke="#ffffff" stroke-width="0.4"/>
<circle cx="92.63" cy="442.68" r="2.9" fill="#c0e3f8" stroke="#ffffff" stroke-width="0.4"/>
<circle cx="99.77" cy="418.81" r="2.9" fill="#c0e3f8" stroke="#ffffff" stroke-width="0.4"/>
<circle cx="105.4" cy="386.07" r="2.9" fill="#c0e3f8" stroke="#ffffff" stroke-width="0.4"/>
<circle cx="98.7" cy="412.86" r="2.9" fill="#c0e3f8" stroke="#ffffff" stroke-width="0.4"/>
<circle cx="86.85" cy="417.43" r="2.9" fill="#c0e3f8" stroke="#ffffff" stroke-width="0.4"/>
<circle cx="83.32" cy="419.55" r="2.9" fill="#c0e3f8" stroke="#ffffff" stroke-width="0.4"/>
<circle cx="95.2" cy="413.5" r="2.9" fill="#c0e3f8" stroke="#ffffff" stroke-width="0.4"/>
<circle cx="85.51" cy="429.13" r="2.9" fill="#c0e3f8" stroke="#ffffff" stroke-width="0.4"/>
<circle cx="110.46" cy="403.73" r="2.9" fill="#c0e3f8" stroke="#ffffff" stroke-width="0.4"/>
<circle cx="105.5" cy="398.18" r="2.9" fill="#c0e3f8" stroke="#ffffff" stroke-width="0.4"/>
<circle cx="85.6" cy="408.82" r="2.9" fill="#c0e3f8" stroke="#ffffff" stroke-width="0.4"/>
<circle cx="102.36" cy="413.75" r="2.9" fill="#c0e3f8" stroke="#ffffff" stroke-width="0.4"/>
<circle cx="91.08" cy="429.23" r="2.9" fill="#c0e3f8" stroke="#ffffff" stroke-width="0.4"/>
<circle cx="82.57" cy="435.01" r="2.9" fill="#c0e3f8" stroke="#ffffff" stroke-width="0.4"/>
<circle cx="83.17" cy="423.54" r="2.9" fill="#c0e3f8" stroke="#ffffff" stroke-width="0.4"/>
<circle cx="87.52" cy="407.28" r="2.9" fill="#c0e3f8" stroke="#ffffff" stroke-width="0.4"/>
<circle cx="97.03" cy="419.71" r="2.9" fill="#c0e3f8" stroke="#ffffff" stroke-width="0.4"/>
<circle cx="91.78" cy="418.5" r="2.9" fill="#c0e3f8" stroke="#ffffff" stroke-width="0.4"/>
<circle cx="97" cy="405.31" r="2.9" fill="#c0e3f8" stroke="#ffffff" stroke-width="0.4"/>
<circle cx="85.95" cy="429.83" r="2.9" fill="#c0e3f8" stroke="#ffffff" stroke-width="0.4"/>
<circle cx="100.71" cy="424.54" r="2.9" fill="#c0e3f8" stroke="#ffffff" stroke-width="0.4"/>
<circle cx="108.13" cy="409.1" r="2.9" fill="#c0e3f8" stroke="#ffffff" stroke-width="0.4"/>
<circle cx="109.69" cy="413.43" r="2.9" fill="#c0e3f8" stroke="#ffffff" stroke-width="0.4"/>
<circle cx="89.71" cy="444.98" r="2.9" fill="#c0e3f8" stroke="#ffffff" stroke-width="0.4"/>
<circle cx="109.18" cy="403.96" r="2.9" fill="#c0e3f8" stroke="#ffffff" stroke-width="0.4"/>
<circle cx="87.14" cy="434.78" r="2.9" fill="#c0e3f8" stroke="#ffffff" stroke-width="0.4"/>
<circle cx="107.29" cy="418.92" r="2.9" fill="#c0e3f8" stroke="#ffffff" stroke-width="0.4"/>
<circle cx="105.86" cy="403.55" r="2.9" fill="#c0e3f8" stroke="#ffffff" stroke-width="0.4"/>
<circle cx="92.69" cy="432.63" r="2.9" fill="#c0e3f8" stroke="#ffffff" stroke-width="0.4"/>
<circle cx="96.19" cy="436.42" r="2.9" fill="#c0e3f8" stroke="#ffffff" stroke-width="0.4"/>
<circle cx="96.09" cy="432.66" r="2.9" fill="#c0e3f8" stroke="#ffffff" stroke-width="0.4"/>
<circle cx="97.76" cy="423.77" r="2.9" fill="#c0e3f8" stroke="#ffffff" stroke-width="0.4"/>
<circle cx="98.34" cy="404.62" r="2.9" fill="#c0e3f8" stroke="#ffffff" stroke-width="0.4"/>
<circle cx="85.27" cy="407.6" r="2.9" fill="#c0e3f8" stroke="#ffffff" stroke-width="0.4"/>
<circle cx="110.51" cy="401.95" r="2.9" fill="#c0e3f8" stroke="#ffffff" stroke-width="0.4"/>
<circle cx="94.71" cy="436.77" r="2.9" fill="#c0e3f8" stroke="#ffffff" stroke-width="0.4"/>
<circle cx="90.11" cy="421.28" r="2.9" fill="#c0e3f8" stroke="#ffffff" stroke-width="0.4"/>
<circle cx="96.52" cy="419.36" r="2.9" fill="#c0e3f8" stroke="#ffffff" stroke-width="0.4"/>
<circle cx="99.43" cy="397.69" r="2.9" fill="#c0e3f8" stroke="#ffffff" stroke-width="0.4"/>
<circle cx="85.16" cy="420.61" r="2.9" fill="#c0e3f8" stroke="#ffffff" stroke-width="0.4"/>
<circle cx="104.14" cy="418.08" r="2.9" fill="#c0e3f8" stroke="#ffffff" stroke-width="0.4"/>
<circle cx="85.63" cy="405.58" r="2.9" fill="#c0e3f8" stroke="#ffffff" stroke-width="0.4"/>
<circle cx="96.43" cy="397.8" r="2.9" fill="#c0e3f8" stroke="#ffffff" stroke-width="0.4"/>
<circle cx="100.4" cy="418.03" r="2.9" fill="#c0e3f8" stroke="#ffffff" stroke-width="0.4"/>
<circle cx="99.39" cy="423.22" r="2.9" fill="#c0e3f8" stroke="#ffffff" stroke-width="0.4"/>
<circle cx="87.78" cy="444.39" r="2.9" fill="#c0e3f8" stroke="#ffffff" stroke-width="0.4"/>
<circle cx="106.7" cy="418.09" r="2.9" fill="#c0e3f8" stroke="#ffffff" stroke-width="0.4"/>
<circle cx="105.02" cy="418.1" r="2.9" fill="#c0e3f8" stroke="#ffffff" stroke-width="0.4"/>
<circle cx="103.57" cy="400.67" r="2.9" fill="#c0e3f8" stroke="#ffffff" stroke-width="0.4"/>
<circle cx="90.62" cy="421.38" r="2.9" fill="#c0e3f8" stroke="#ffffff" stroke-width="0.4"/>
<circle cx="100.72" cy="429.45" r="2.9" fill="#c0e3f8" stroke="#ffffff" stroke-width="0.4"/>
<circle cx="101.65" cy="414.57" r="2.9" fill="#c0e3f8" stroke="#ffffff" stroke-width="0.4"/>
<circle cx="101.43" cy="426.62" r="2.9" fill="#c0e3f8" stroke="#ffffff" stroke-width="0.4"/>
<circle cx="97.12" cy="417.26" r="2.9" fill="#c0e3f8" stroke="#ffffff" stroke-width="0.4"/>
<circle cx="99.92" cy="435.42" r="2.9" fill="#c0e3f8" stroke="#ffffff" stroke-width="0.4"/>
<circle cx="87.73" cy="417.88" r="2.9" fill="#c0e3f8" stroke="#ffffff" stroke-width="0.4"/>
<circle cx="91.77" cy="402.12" r="2.9" fill="#c0e3f8" stroke="#ffffff" stroke-width="0.4"/>
<circle cx="87.53" cy="444.09" r="2.9" fill="#c0e3f8" stroke="#ffffff" stroke-width="0.4"/>
<circle cx="97.7" cy="423.41" r="2.9" fill="#c0e3f8" stroke="#ffffff" stroke-width="0.4"/>
<circle cx="106.52" cy="400.96" r="2.9" fill="#c0e3f8" stroke="#ffffff" stroke-width="0.4"/>
<circle cx="99.32" cy="436.48" r="2.9" fill="#c0e3f8" stroke="#ffffff" stroke-width="0.4"/>
<circle cx="84.44" cy="421.53" r="2.9" fill="#c0e3f8" stroke="#ffffff" stroke-width="0.4"/>
<circle cx="84.75" cy="422.77" r="2.9" fill="#c0e3f8" stroke="#ffffff" stroke-width="0.4"/>
<circle cx="99.78" cy="400.04" r="2.9" fill="#c0e3f8" stroke="#ffffff" stroke-width="0.4"/>
<circle cx="111.14" cy="418.88" r="2.9" fill="#c0e3f8" stroke="#ffffff" stroke-width="0.4"/>
<circle cx="96.91" cy="428.09" r="2.9" fill="#c0e3f8" stroke="#ffffff" stroke-width="0.4"/>
<circle cx="91.43" cy="411.86" r="2.9" fill="#c0e3f8" stroke="#ffffff" stroke-width="0.4"/>
<circle cx="101.27" cy="426.15" r="2.9" fill="#c0e3f8" stroke="#ffffff" stroke-width="0.4"/>
<circle cx="88.64" cy="434.26" r="2.9" fill="#c0e3f8" stroke="#ffffff" stroke-width="0.4"/>
<circle cx="84.32" cy="436.24" r="2.9" fill="#c0e3f8" stroke="#ffffff" stroke-width="0.4"/>
<circle cx="92.26" cy="443.67" r="2.9" fill="#c0e3f8" stroke="#ffffff" stroke-width="0.4"/>
<circle cx="104.44" cy="399.61" r="2.9" fill="#c0e3f8" stroke="#ffffff" stroke-width="0.4"/>
<circle cx="93.6" cy="421.84" r="2.9" fill="#c0e3f8" stroke="#ffffff" stroke-width="0.4"/>
<circle cx="112.09" cy="409.67" r="2.9" fill="#c0e3f8" stroke="#ffffff" stroke-width="0.4"/>
<circle cx="96.79" cy="445.74" r="2.9" fill="#c0e3f8" stroke="#ffffff" stroke-width="0.4"/>
<circle cx="103.57" cy="421.35" r="2.9" fill="#c0e3f8" stroke="#ffffff" stroke-width="0.4"/>
<circle cx="99.52" cy="402.98" r="2.9" fill="#c0e3f8" stroke="#ffffff" stroke-width="0.4"/>
<circle cx="100.22" cy="420.7" r="2.9" fill="#c0e3f8" stroke="#ffffff" stroke-width="0.4"/>
<circle cx="96.96" cy="403.46" r="2.9" fill="#c0e3f8" stroke="#ffffff" stroke-width="0.4"/>
<circle cx="94.06" cy="431.73" r="2.9" fill="#c0e3f8" stroke="#ffffff" stroke-width="0.4"/>
<circle cx="94.49" cy="410.63" r="2.9" fill="#c0e3f8" stroke="#ffffff" stroke-width="0.4"/>
<circle cx="98.8" cy="418.82" r="2.9" fill="#c0e3f8" stroke="#ffffff" stroke-width="0.4"/>
<circle cx="105.45" cy="424.6" r="2.9" fill="#c0e3f8" stroke="#ffffff" stroke-width="0.4"/>
<circle cx="103.97" cy="409.4" r="2.9" fill="#c0e3f8" stroke="#ffffff" stroke-width="0.4"/>
<circle cx="105.67" cy="429.5" r="2.9" fill="#c0e3f8" stroke="#ffffff" stroke-width="0.4"/>
<circle cx="91.21" cy="411.12" r="2.9" fill="#c0e3f8" stroke="#ffffff" stroke-width="0.4"/>
<circle cx="102.29" cy="426.37" r="2.9" fill="#c0e3f8" stroke="#ffffff" stroke-width="0.4"/>
<circle cx="99.12" cy="429.92" r="2.9" fill="#c0e3f8" stroke="#ffffff" stroke-width="0.4"/>
<circle cx="104.61" cy="406.87" r="2.9" fill="#c0e3f8" stroke="#ffffff" stroke-width="0.4"/>
<circle cx="88.21" cy="419.11" r="2.9" fill="#c0e3f8" stroke="#ffffff" stroke-width="0.4"/>
<circle cx="100.19" cy="402.33" r="2.9" fill="#c0e3f8" stroke="#ffffff" stroke-width="0.4"/>
<circle cx="97.42" cy="400.77" r="2.9" fill="#c0e3f8" stroke="#ffffff" stroke-width="0.4"/>
<circle cx="81.94" cy="432.17" r="2.9" fill="#c0e3f8" stroke="#ffffff" stroke-width="0.4"/>
<circle cx="97.72" cy="429.82" r="2.9" fill="#c0e3f8" stroke="#ffffff" stroke-width="0.4"/>
<circle cx="91.69" cy="421.88" r="2.9" fill="#c0e3f8" stroke="#ffffff" stroke-width="0.4"/>
<circle cx="86.16" cy="414.87" r="2.9" fill="#c0e3f8" stroke="#ffffff" stroke-width="0.4"/>
<circle cx="105.14" cy="408.08" r="2.9" fill="#c0e3f8" stroke="#ffffff" stroke-width="0.4"/>
<circle cx="93.43" cy="410.42" r="2.9" fill="#c0e3f8" stroke="#ffffff" stroke-width="0.4"/>
<circle cx="106.54" cy="416.19" r="2.9" fill="#c0e3f8" stroke="#ffffff" stroke-width="0.4"/>
<circle cx="90.06" cy="425.53" r="2.9" fill="#c0e3f8" stroke="#ffffff" stroke-width="0.4"/>
<circle cx="93.54" cy="416.2" r="2.9" fill="#c0e3f8" stroke="#ffffff" stroke-width="0.4"/>
<circle cx="98.18" cy="422.21" r="2.9" fill="#c0e3f8" stroke="#ffffff" stroke-width="0.4"/>
<circle cx="102.3" cy="412.54" r="2.9" fill="#c0e3f8" stroke="#ffffff" stroke-width="0.4"/>
<circle cx="105.37" cy="400.96" r="2.9" fill="#c0e3f8" stroke="#ffffff" stroke-width="0.4"/>
<circle cx="86.25" cy="431.43" r="2.9" fill="#c0e3f8" stroke="#ffffff" stroke-width="0.4"/>
<circle cx="88.62" cy="404.43" r="2.9" fill="#c0e3f8" stroke="#ffffff" stroke-width="0.4"/>
<circle cx="91.17" cy="434.75" r="2.9" fill="#c0e3f8" stroke="#ffffff" stroke-width="0.4"/>
<circle cx="91.46" cy="403.1" r="2.9" fill="#c0e3f8" stroke="#ffffff" stroke-width="0.4"/>
<circle cx="103.12" cy="426.6" r="2.9" fill="#c0e3f8" stroke="#ffffff" stroke-width="0.4"/>
<circle cx="110.05" cy="419.78" r="2.9" fill="#c0e3f8" stroke="#ffffff" stroke-width="0.4"/>
<circle cx="106.3" cy="412.85" r="2.9" fill="#c0e3f8" stroke="#ffffff" stroke-width="0.4"/>
<circle cx="89.8" cy="417.78" r="2.9" fill="#c0e3f8" stroke="#ffffff" stroke-width="0.4"/>
<circle cx="87.44" cy="415.81" r="2.9" fill="#c0e3f8" stroke="#ffffff" stroke-width="0.4"/>
<circle cx="91.43" cy="415.89" r="2.9" fill="#c0e3f8" stroke="#ffffff" stroke-width="0.4"/>
<circle cx="92.45" cy="417.15" r="2.9" fill="#c0e3f8" stroke="#ffffff" stroke-width="0.4"/>
<circle cx="85.63" cy="426.32" r="2.9" fill="#c0e3f8" stroke="#ffffff" stroke-width="0.4"/>
<circle cx="106.1" cy="425.11" r="2.9" fill="#c0e3f8" stroke="#ffffff" stroke-width="0.4"/>
<circle cx="107.44" cy="426.26" r="2.9" fill="#c0e3f8" stroke="#ffffff" stroke-width="0.4"/>
<circle cx="85" cy="436.47" r="2.9" fill="#c0e3f8" stroke="#ffffff" stroke-width="0.4"/>
<circle cx="108.95" cy="411.64" r="2.9" fill="#c0e3f8" stroke="#ffffff" stroke-width="0.4"/>
<circle cx="97.5" cy="426.51" r="2.9" fill="#c0e3f8" stroke="#ffffff" stroke-width="0.4"/>
<circle cx="106.35" cy="400.33" r="2.9" fill="#c0e3f8" stroke="#ffffff" stroke-width="0.4"/>
<circle cx="97.59" cy="437.98" r="2.9" fill="#c0e3f8" stroke="#ffffff" stroke-width="0.4"/>
<circle cx="81.88" cy="429.97" r="2.9" fill="#c0e3f8" stroke="#ffffff" stroke-width="0.4"/>
<circle cx="83.89" cy="435.78" r="2.9" fill="#c0e3f8" stroke="#ffffff" stroke-width="0.4"/>
<circle cx="101.07" cy="409.76" r="2.9" fill="#c0e3f8" stroke="#ffffff" stroke-width="0.4"/>
<circle cx="86.5" cy="436.8" r="2.9" fill="#c0e3f8" stroke="#ffffff" stroke-width="0.4"/>
<circle cx="96.73" cy="436.76" r="2.9" fill="#c0e3f8" stroke="#ffffff" stroke-width="0.4"/>
<circle cx="92.41" cy="414.57" r="2.9" fill="#c0e3f8" stroke="#ffffff" stroke-width="0.4"/>
<circle cx="95.78" cy="424.94" r="2.9" fill="#c0e3f8" stroke="#ffffff" stroke-width="0.4"/>
<circle cx="110.11" cy="418.35" r="2.9" fill="#c0e3f8" stroke="#ffffff" stroke-width="0.4"/>
<circle cx="96.81" cy="433.92" r="2.9" fill="#c0e3f8" stroke="#ffffff" stroke-width="0.4"/>
<circle cx="106.28" cy="418.92" r="2.9" fill="#c0e3f8" stroke="#ffffff" stroke-width="0.4"/>
<circle cx="93.3" cy="404.6" r="2.9" fill="#c0e3f8" stroke="#ffffff" stroke-width="0.4"/>
<circle cx="91.77" cy="405.72" r="2.9" fill="#c0e3f8" stroke="#ffffff" stroke-width="0.4"/>
<circle cx="85.95" cy="419.1" r="2.9" fill="#c0e3f8" stroke="#ffffff" stroke-width="0.4"/>
<circle cx="82.9" cy="430.69" r="2.9" fill="#c0e3f8" stroke="#ffffff" stroke-width="0.4"/>
<circle cx="105.38" cy="406.33" r="2.9" fill="#c0e3f8" stroke="#ffffff" stroke-width="0.4"/>
<circle cx="81.12" cy="420.86" r="2.9" fill="#c0e3f8" stroke="#ffffff" stroke-width="0.4"/>
<circle cx="85.27" cy="408.3" r="2.9" fill="#c0e3f8" stroke="#ffffff" stroke-width="0.4"/>
<circle cx="87" cy="434.3" r="2.9" fill="#c0e3f8" stroke="#ffffff" stroke-width="0.4"/>
<circle cx="99.22" cy="408.65" r="2.9" fill="#c0e3f8" stroke="#ffffff" stroke-width="0.4"/>
<circle cx="85.29" cy="411.62" r="2.9" fill="#c0e3f8" stroke="#ffffff" stroke-width="0.4"/>
<circle cx="84.87" cy="436.39" r="2.9" fill="#c0e3f8" stroke="#ffffff" stroke-width="0.4"/>
<circle cx="89.6" cy="425.51" r="2.9" fill="#c0e3f8" stroke="#ffffff" stroke-width="0.4"/>
<circle cx="106.78" cy="421.93" r="2.9" fill="#c0e3f8" stroke="#ffffff" stroke-width="0.4"/>
<circle cx="87.86" cy="443.15" r="2.9" fill="#c0e3f8" stroke="#ffffff" stroke-width="0.4"/>
<circle cx="110.08" cy="414.79" r="2.9" fill="#c0e3f8" stroke="#ffffff" stroke-width="0.4"/>
<circle cx="95.41" cy="408.49" r="2.9" fill="#c0e3f8" stroke="#ffffff" stroke-width="0.4"/>
<circle cx="106.25" cy="417.02" r="2.9" fill="#c0e3f8" stroke="#ffffff" stroke-width="0.4"/>
<circle cx="96.94" cy="423.82" r="2.9" fill="#c0e3f8" stroke="#ffffff" stroke-width="0.4"/>
<circle cx="101.36" cy="409.36" r="2.9" fill="#c0e3f8" stroke="#ffffff" stroke-width="0.4"/>
<circle cx="91.63" cy="438.43" r="2.9" fill="#c0e3f8" stroke="#ffffff" stroke-width="0.4"/>
<circle cx="103.25" cy="428.52" r="2.9" fill="#c0e3f8" stroke="#ffffff" stroke-width="0.4"/>
<circle cx="89.94" cy="410.49" r="2.9" fill="#c0e3f8" stroke="#ffffff" stroke-width="0.4"/>
<circle cx="108.55" cy="423.84" r="2.9" fill="#c0e3f8" stroke="#ffffff" stroke-width="0.4"/>
<circle cx="88.06" cy="424.8" r="2.9" fill="#c0e3f8" stroke="#ffffff" stroke-width="0.4"/>
<circle cx="84.12" cy="437.06" r="2.9" fill="#c0e3f8" stroke="#ffffff" stroke-width="0.4"/>
<circle cx="103.36" cy="402.05" r="2.9" fill="#c0e3f8" stroke="#ffffff" stroke-width="0.4"/>
<circle cx="95.32" cy="421.37" r="2.9" fill="#c0e3f8" stroke="#ffffff" stroke-width="0.4"/>
<circle cx="108.15" cy="412.79" r="2.9" fill="#c0e3f8" stroke="#ffffff" stroke-width="0.4"/>
<circle cx="105.84" cy="418.68" r="2.9" fill="#c0e3f8" stroke="#ffffff" stroke-width="0.4"/>
<circle cx="110.17" cy="401.73" r="2.9" fill="#c0e3f8" stroke="#ffffff" stroke-width="0.4"/>
<circle cx="107.1" cy="407.84" r="2.9" fill="#c0e3f8" stroke="#ffffff" stroke-width="0.4"/>
<circle cx="97.47" cy="424.33" r="2.9" fill="#c0e3f8" stroke="#ffffff" stroke-width="0.4"/>
<circle cx="84.36" cy="440.26" r="2.9" fill="#c0e3f8" stroke="#ffffff" stroke-width="0.4"/>
<circle cx="89.59" cy="413.16" r="2.9" fill="#c0e3f8" stroke="#ffffff" stroke-width="0.4"/>
<circle cx="94.89" cy="434.19" r="2.9" fill="#c0e3f8" stroke="#ffffff" stroke-width="0.4"/>
<circle cx="91.23" cy="432.73" r="2.9" fill="#c0e3f8" stroke="#ffffff" stroke-width="0.4"/>
<circle cx="82.6" cy="417.5" r="2.9" fill="#c0e3f8" stroke="#ffffff" stroke-width="0.4"/>
<circle cx="94.7" cy="447.28" r="2.9" fill="#c0e3f8" stroke="#ffffff" stroke-width="0.4"/>
<circle cx="103.14" cy="409.35" r="2.9" fill="#c0e3f8" stroke="#ffffff" stroke-width="0.4"/>
<circle cx="98.18" cy="420.82" r="2.9" fill="#c0e3f8" stroke="#ffffff" stroke-width="0.4"/>
<circle cx="106.18" cy="407.75" r="2.9" fill="#c0e3f8" stroke="#ffffff" stroke-width="0.4"/>
<circle cx="99.95" cy="412.1" r="2.9" fill="#c0e3f8" stroke="#ffffff" stroke-width="0.4"/>
<circle cx="91.78" cy="425.07" r="2.9" fill="#c0e3f8" stroke="#ffffff" stroke-width="0.4"/>
<circle cx="89.14" cy="414.54" r="2.9" fill="#c0e3f8" stroke="#ffffff" stroke-width="0.4"/>
<circle cx="92.33" cy="431.67" r="2.9" fill="#c0e3f8" stroke="#ffffff" stroke-width="0.4"/>
<circle cx="87.72" cy="407.4" r="2.9" fill="#c0e3f8" stroke="#ffffff" stroke-width="0.4"/>
<circle cx="103.87" cy="414.13" r="2.9" fill="#c0e3f8" stroke="#ffffff" stroke-width="0.4"/>
<circle cx="103.61" cy="414.25" r="2.9" fill="#c0e3f8" stroke="#ffffff" stroke-width="0.4"/>
<circle cx="107.11" cy="401.8" r="2.9" fill="#c0e3f8" stroke="#ffffff" stroke-width="0.4"/>
<circle cx="85.12" cy="417.92" r="2.9" fill="#c0e3f8" stroke="#ffffff" stroke-width="0.4"/>
<circle cx="107.46" cy="427.82" r="2.9" fill="#c0e3f8" stroke="#ffffff" stroke-width="0.4"/>
<circle cx="92.83" cy="400.78" r="2.9" fill="#c0e3f8" stroke="#ffffff" stroke-width="0.4"/>
<circle cx="110.3" cy="419.2" r="2.9" fill="#c0e3f8" stroke="#ffffff" stroke-width="0.4"/>
<circle cx="96.39" cy="430.66" r="2.9" fill="#c0e3f8" stroke="#ffffff" stroke-width="0.4"/>
<circle cx="92.12" cy="414.23" r="2.9" fill="#c0e3f8" stroke="#ffffff" stroke-width="0.4"/>
<circle cx="92.62" cy="433.39" r="2.9" fill="#c0e3f8" stroke="#ffffff" stroke-width="0.4"/>
<circle cx="101.45" cy="428.65" r="2.9" fill="#c0e3f8" stroke="#ffffff" stroke-width="0.4"/>
<circle cx="90.64" cy="430.84" r="2.9" fill="#c0e3f8" stroke="#ffffff" stroke-width="0.4"/>
<circle cx="82.61" cy="416.64" r="2.9" fill="#c0e3f8" stroke="#ffffff" stroke-width="0.4"/>
<circle cx="96.32" cy="438" r="2.9" fill="#c0e3f8" stroke="#ffffff" stroke-width="0.4"/>
<circle cx="107.06" cy="428.79" r="2.9" fill="#c0e3f8" stroke="#ffffff" stroke-width="0.4"/>
<circle cx="84.38" cy="436.86" r="2.9" fill="#c0e3f8" stroke="#ffffff" stroke-width="0.4"/>
<circle cx="90.99" cy="423.02" r="2.9" fill="#c0e3f8" stroke="#ffffff" stroke-width="0.4"/>
<circle cx="83.82" cy="434.1" r="2.9" fill="#c0e3f8" stroke="#ffffff" stroke-width="0.4"/>
<circle cx="100.32" cy="407.29" r="2.9" fill="#c0e3f8" stroke="#ffffff" stroke-width="0.4"/>
<circle cx="98.6" cy="433.25" r="2.9" fill="#c0e3f8" stroke="#ffffff" stroke-width="0.4"/>
<circle cx="90.19" cy="445.31" r="2.9" fill="#c0e3f8" stroke="#ffffff" stroke-width="0.4"/>
<circle cx="91.28" cy="421.08" r="2.9" fill="#c0e3f8" stroke="#ffffff" stroke-width="0.4"/>
<circle cx="97.48" cy="426.16" r="2.9" fill="#c0e3f8" stroke="#ffffff" stroke-width="0.4"/>
<circle cx="98.05" cy="410.75" r="2.9" fill="#c0e3f8" stroke="#ffffff" stroke-width="0.4"/>
<circle cx="106.8" cy="428.28" r="2.9" fill="#c0e3f8" stroke="#ffffff" stroke-width="0.4"/>
<circle cx="83.17" cy="439.88" r="2.9" fill="#c0e3f8" stroke="#ffffff" stroke-width="0.4"/>
<circle cx="88.81" cy="443.64" r="2.9" fill="#c0e3f8" stroke="#ffffff" stroke-width="0.4"/>
<circle cx="87.19" cy="426.83" r="2.9" fill="#c0e3f8" stroke="#ffffff" stroke-width="0.4"/>
<circle cx="107.25" cy="406.65" r="2.9" fill="#c0e3f8" stroke="#ffffff" stroke-width="0.4"/>
<circle cx="97.63" cy="400.97" r="2.9" fill="#c0e3f8" stroke="#ffffff" stroke-width="0.4"/>
<circle cx="101.38" cy="413" r="2.9" fill="#c0e3f8" stroke="#ffffff" stroke-width="0.4"/>
<circle cx="91.98" cy="427.78" r="2.9" fill="#c0e3f8" stroke="#ffffff" stroke-width="0.4"/>
<circle cx="85.78" cy="421.34" r="2.9" fill="#c0e3f8" stroke="#ffffff" stroke-width="0.4"/>
<circle cx="83.86" cy="417.09" r="2.9" fill="#c0e3f8" stroke="#ffffff" stroke-width="0.4"/>
<circle cx="98.36" cy="406.03" r="2.9" fill="#c0e3f8" stroke="#ffffff" stroke-width="0.4"/>
<circle cx="96.67" cy="410.71" r="2.9" fill="#c0e3f8" stroke="#ffffff" stroke-width="0.4"/>
<circle cx="98.31" cy="414.27" r="2.9" fill="#c0e3f8" stroke="#ffffff" stroke-width="0.4"/>
<circle cx="100.82" cy="398.97" r="2.9" fill="#c0e3f8" stroke="#ffffff" stroke-width="0.4"/>
<circle cx="101.81" cy="404.53" r="2.9" fill="#c0e3f8" stroke="#ffffff" stroke-width="0.4"/>
<circle cx="94.98" cy="418.39" r="2.9" fill="#c0e3f8" stroke="#ffffff" stroke-width="0.4"/>
<circle cx="100.21" cy="432.84" r="2.9" fill="#c0e3f8" stroke="#ffffff" stroke-width="0.4"/>
<circle cx="92.91" cy="419.57" r="2.9" fill="#c0e3f8" stroke="#ffffff" stroke-width="0.4"/>
<circle cx="98.24" cy="444.07" r="2.9" fill="#c0e3f8" stroke="#ffffff" stroke-width="0.4"/>
<circle cx="96.88" cy="424.3" r="2.9" fill="#c0e3f8" stroke="#ffffff" stroke-width="0.4"/>
<circle cx="93.7" cy="444.02" r="2.9" fill="#c0e3f8" stroke="#ffffff" stroke-width="0.4"/>
<circle cx="103.89" cy="428.07" r="2.9" fill="#c0e3f8" stroke="#ffffff" stroke-width="0.4"/>
<circle cx="104.56" cy="412.85" r="2.9" fill="#c0e3f8" stroke="#ffffff" stroke-width="0.4"/>
<circle cx="99.18" cy="400.63" r="2.9" fill="#c0e3f8" stroke="#ffffff" stroke-width="0.4"/>
<circle cx="83.23" cy="420.24" r="2.9" fill="#c0e3f8" stroke="#ffffff" stroke-width="0.4"/>
<circle cx="96.09" cy="417.63" r="2.9" fill="#c0e3f8" stroke="#ffffff" stroke-width="0.4"/>
<circle cx="80.77" cy="433.14" r="2.9" fill="#c0e3f8" stroke="#ffffff" stroke-width="0.4"/>
<circle cx="96.89" cy="409.44" r="2.9" fill="#c0e3f8" stroke="#ffffff" stroke-width="0.4"/>
<circle cx="89.41" cy="417.57" r="2.9" fill="#c0e3f8" stroke="#ffffff" stroke-width="0.4"/>
<circle cx="93.33" cy="438.87" r="2.9" fill="#c0e3f8" stroke="#ffffff" stroke-width="0.4"/>
<circle cx="86.54" cy="435.82" r="2.9" fill="#c0e3f8" stroke="#ffffff" stroke-width="0.4"/>
<circle cx="98.27" cy="443.98" r="2.9" fill="#c0e3f8" stroke="#ffffff" stroke-width="0.4"/>
<circle cx="105.8" cy="302.1" r="2.95" fill="#fdf8bb" stroke="#c4c4c0" stroke-width="0.45"/>
<circle cx="110.7" cy="310.2" r="2.95" fill="#fdf8bb" stroke="#c4c4c0" stroke-width="0.45"/>
<circle cx="158.7" cy="360.1" r="2.95" fill="#fdf8bb" stroke="#c4c4c0" stroke-width="0.45"/>
<circle cx="100.6" cy="368.9" r="2.95" fill="#fdf8bb" stroke="#c4c4c0" stroke-width="0.45"/>
<circle cx="122.5" cy="387.5" r="2.95" fill="#fdf8bb" stroke="#c4c4c0" stroke-width="0.45"/>
<circle cx="117.2" cy="392.8" r="2.95" fill="#fdf8bb" stroke="#c4c4c0" stroke-width="0.45"/>
<circle cx="92.2" cy="392.8" r="2.95" fill="#fdf8bb" stroke="#c4c4c0" stroke-width="0.45"/>
<circle cx="96.2" cy="396.8" r="2.95" fill="#fdf8bb" stroke="#c4c4c0" stroke-width="0.45"/>
<circle cx="144.8" cy="399.4" r="2.95" fill="#fdf8bb" stroke="#c4c4c0" stroke-width="0.45"/>
<circle cx="119.2" cy="404.6" r="2.95" fill="#fdf8bb" stroke="#c4c4c0" stroke-width="0.45"/>
<circle cx="87.6" cy="399.4" r="2.95" fill="#fdf8bb" stroke="#c4c4c0" stroke-width="0.45"/>
<circle cx="175.5" cy="367.4" r="2.95" fill="#fdf8bb" stroke="#c4c4c0" stroke-width="0.45"/>
<circle cx="152.7" cy="386.9" r="2.95" fill="#fdf8bb" stroke="#c4c4c0" stroke-width="0.45"/>
<circle cx="223.8" cy="342.3" r="2.95" fill="#fdf8bb" stroke="#c4c4c0" stroke-width="0.45"/>
<circle cx="288.3" cy="338.1" r="2.95" fill="#fdf8bb" stroke="#c4c4c0" stroke-width="0.45"/>
<circle cx="293.8" cy="370.5" r="2.95" fill="#fdf8bb" stroke="#c4c4c0" stroke-width="0.45"/>
<circle cx="176.8" cy="367.6" r="2.95" fill="#fdf8bb" stroke="#c4c4c0" stroke-width="0.45"/>
<circle cx="87.9" cy="399.2" r="2.95" fill="#fdf8bb" stroke="#c4c4c0" stroke-width="0.45"/>
<circle cx="85" cy="407.3" r="2.95" fill="#fdf8bb" stroke="#c4c4c0" stroke-width="0.45"/>
<circle cx="116.5" cy="392.7" r="2.95" fill="#fdf8bb" stroke="#c4c4c0" stroke-width="0.45"/>
<circle cx="122.3" cy="387.5" r="2.95" fill="#fdf8bb" stroke="#c4c4c0" stroke-width="0.45"/>
<circle cx="118.6" cy="405.1" r="2.95" fill="#fdf8bb" stroke="#c4c4c0" stroke-width="0.45"/>
<circle cx="100.7" cy="370" r="2.95" fill="#fdf8bb" stroke="#c4c4c0" stroke-width="0.45"/>
<circle cx="69.2" cy="478.2" r="2.95" fill="#fdf8bb" stroke="#c4c4c0" stroke-width="0.45"/>
<circle cx="166.6" cy="426.2" r="2.95" fill="#fdf8bb" stroke="#c4c4c0" stroke-width="0.45"/>
<circle cx="145.1" cy="398.7" r="2.95" fill="#fdf8bb" stroke="#c4c4c0" stroke-width="0.45"/>
<circle cx="124.5" cy="397.8" r="2.9" fill="#c0e3f8" stroke="#ffffff" stroke-width="0.4"/>
<circle cx="112.8" cy="438.7" r="2.9" fill="#c0e3f8" stroke="#ffffff" stroke-width="0.4"/>
<circle cx="112.1" cy="443.1" r="2.9" fill="#c0e3f8" stroke="#ffffff" stroke-width="0.4"/>
<circle cx="123.8" cy="448.2" r="2.9" fill="#c0e3f8" stroke="#ffffff" stroke-width="0.4"/>
<circle cx="123" cy="435.1" r="2.9" fill="#c0e3f8" stroke="#ffffff" stroke-width="0.4"/>
<circle cx="123" cy="427.7" r="2.9" fill="#c0e3f8" stroke="#ffffff" stroke-width="0.4"/>
<circle cx="115.7" cy="429.2" r="2.9" fill="#c0e3f8" stroke="#ffffff" stroke-width="0.4"/>
<circle cx="67.5" cy="430.7" r="2.9" fill="#c0e3f8" stroke="#ffffff" stroke-width="0.4"/>
<circle cx="70.4" cy="432.9" r="2.9" fill="#c0e3f8" stroke="#ffffff" stroke-width="0.4"/>
<circle cx="74.8" cy="432.1" r="2.9" fill="#c0e3f8" stroke="#ffffff" stroke-width="0.4"/>
<circle cx="63.1" cy="448.9" r="2.9" fill="#c0e3f8" stroke="#ffffff" stroke-width="0.4"/>
<circle cx="66.7" cy="451.1" r="2.9" fill="#c0e3f8" stroke="#ffffff" stroke-width="0.4"/>
<circle cx="74.8" cy="449.7" r="2.9" fill="#c0e3f8" stroke="#ffffff" stroke-width="0.4"/>
<circle cx="80.6" cy="450.4" r="2.9" fill="#c0e3f8" stroke="#ffffff" stroke-width="0.4"/>
<circle cx="74.8" cy="454.8" r="2.9" fill="#c0e3f8" stroke="#ffffff" stroke-width="0.4"/>
<circle cx="57.2" cy="462.8" r="2.9" fill="#c0e3f8" stroke="#ffffff" stroke-width="0.4"/>
<circle cx="80.6" cy="463.6" r="2.9" fill="#c0e3f8" stroke="#ffffff" stroke-width="0.4"/>
<circle cx="92.3" cy="459.2" r="2.9" fill="#c0e3f8" stroke="#ffffff" stroke-width="0.4"/>
<circle cx="96" cy="461.4" r="2.9" fill="#c0e3f8" stroke="#ffffff" stroke-width="0.4"/>
<circle cx="96.7" cy="455.5" r="2.9" fill="#c0e3f8" stroke="#ffffff" stroke-width="0.4"/>
<circle cx="98.9" cy="450.4" r="2.9" fill="#c0e3f8" stroke="#ffffff" stroke-width="0.4"/>
<circle cx="99.6" cy="448.2" r="2.9" fill="#c0e3f8" stroke="#ffffff" stroke-width="0.4"/>
<circle cx="102.6" cy="438" r="2.9" fill="#c0e3f8" stroke="#ffffff" stroke-width="0.4"/>
<circle cx="49.5" cy="489.9" r="2.9" fill="#c0e3f8" stroke="#ffffff" stroke-width="0.4"/>
<circle cx="55.7" cy="485.7" r="2.9" fill="#c0e3f8" stroke="#ffffff" stroke-width="0.4"/>
<circle cx="55.7" cy="493.4" r="2.9" fill="#c0e3f8" stroke="#ffffff" stroke-width="0.4"/>
<circle cx="59.9" cy="495.2" r="2.9" fill="#c0e3f8" stroke="#ffffff" stroke-width="0.4"/>
<circle cx="62.7" cy="486.1" r="2.9" fill="#c0e3f8" stroke="#ffffff" stroke-width="0.4"/>
<circle cx="57.8" cy="479.6" r="2.9" fill="#c0e3f8" stroke="#ffffff" stroke-width="0.4"/>
<circle cx="54.3" cy="477.7" r="2.9" fill="#c0e3f8" stroke="#ffffff" stroke-width="0.4"/>
<circle cx="59.9" cy="472.9" r="2.9" fill="#c0e3f8" stroke="#ffffff" stroke-width="0.4"/>
<circle cx="66" cy="471.2" r="2.9" fill="#c0e3f8" stroke="#ffffff" stroke-width="0.4"/>
<circle cx="57.4" cy="463.3" r="2.9" fill="#c0e3f8" stroke="#ffffff" stroke-width="0.4"/>
<circle cx="60.9" cy="465.9" r="2.9" fill="#c0e3f8" stroke="#ffffff" stroke-width="0.4"/>
<circle cx="63" cy="448.9" r="2.9" fill="#c0e3f8" stroke="#ffffff" stroke-width="0.4"/>
<circle cx="68.3" cy="451" r="2.9" fill="#c0e3f8" stroke="#ffffff" stroke-width="0.4"/>
<circle cx="74.4" cy="451.9" r="2.9" fill="#c0e3f8" stroke="#ffffff" stroke-width="0.4"/>
<circle cx="80.2" cy="451" r="2.9" fill="#c0e3f8" stroke="#ffffff" stroke-width="0.4"/>
<circle cx="80.6" cy="465.6" r="2.9" fill="#c0e3f8" stroke="#ffffff" stroke-width="0.4"/>
<circle cx="92.8" cy="459.4" r="2.9" fill="#c0e3f8" stroke="#ffffff" stroke-width="0.4"/>
<circle cx="96" cy="461.5" r="2.9" fill="#c0e3f8" stroke="#ffffff" stroke-width="0.4"/>
<circle cx="96.7" cy="456.3" r="2.9" fill="#c0e3f8" stroke="#ffffff" stroke-width="0.4"/>
<circle cx="98.1" cy="451.9" r="2.9" fill="#c0e3f8" stroke="#ffffff" stroke-width="0.4"/>
<circle cx="99.8" cy="448.4" r="2.9" fill="#c0e3f8" stroke="#ffffff" stroke-width="0.4"/>
<circle cx="102.8" cy="437.9" r="2.9" fill="#c0e3f8" stroke="#ffffff" stroke-width="0.4"/>
<circle cx="113" cy="439.6" r="2.9" fill="#c0e3f8" stroke="#ffffff" stroke-width="0.4"/>
<circle cx="123.5" cy="448" r="2.9" fill="#c0e3f8" stroke="#ffffff" stroke-width="0.4"/>
<circle cx="122.6" cy="435.3" r="2.9" fill="#c0e3f8" stroke="#ffffff" stroke-width="0.4"/>
<circle cx="128.7" cy="432.6" r="2.9" fill="#c0e3f8" stroke="#ffffff" stroke-width="0.4"/>
<circle cx="131" cy="438.4" r="2.9" fill="#c0e3f8" stroke="#ffffff" stroke-width="0.4"/>
<circle cx="112.1" cy="498.3" r="2.9" fill="#c0e3f8" stroke="#ffffff" stroke-width="0.4"/>
<circle cx="188.8" cy="417.7" r="2.9" fill="#c0e3f8" stroke="#ffffff" stroke-width="0.4"/>
<circle cx="202.6" cy="415.2" r="2.9" fill="#c0e3f8" stroke="#ffffff" stroke-width="0.4"/>
<circle cx="237.5" cy="424.7" r="2.9" fill="#c0e3f8" stroke="#ffffff" stroke-width="0.4"/>
<circle cx="174.9" cy="436.1" r="2.9" fill="#c0e3f8" stroke="#ffffff" stroke-width="0.4"/>
<circle cx="155" cy="441.8" r="2.9" fill="#c0e3f8" stroke="#ffffff" stroke-width="0.4"/>
<circle cx="142.3" cy="418.3" r="2.9" fill="#c0e3f8" stroke="#ffffff" stroke-width="0.4"/>
<circle cx="132.8" cy="417.7" r="2.9" fill="#c0e3f8" stroke="#ffffff" stroke-width="0.4"/>
<circle cx="128" cy="426.2" r="2.9" fill="#c0e3f8" stroke="#ffffff" stroke-width="0.4"/>
<circle cx="129" cy="431.9" r="2.9" fill="#c0e3f8" stroke="#ffffff" stroke-width="0.4"/>
<circle cx="122.7" cy="435.7" r="2.9" fill="#c0e3f8" stroke="#ffffff" stroke-width="0.4"/>
<circle cx="130.9" cy="438.6" r="2.9" fill="#c0e3f8" stroke="#ffffff" stroke-width="0.4"/>
<circle cx="123.7" cy="448.1" r="2.9" fill="#c0e3f8" stroke="#ffffff" stroke-width="0.4"/>
<circle cx="134.7" cy="393" r="2.9" fill="#c0e3f8" stroke="#ffffff" stroke-width="0.4"/>
<circle cx="141.9" cy="392.1" r="2.9" fill="#c0e3f8" stroke="#ffffff" stroke-width="0.4"/>
<circle cx="157.4" cy="400.6" r="2.9" fill="#c0e3f8" stroke="#ffffff" stroke-width="0.4"/>
<circle cx="161.2" cy="384.5" r="2.9" fill="#c0e3f8" stroke="#ffffff" stroke-width="0.4"/>
<circle cx="193.8" cy="355.1" r="2.9" fill="#c0e3f8" stroke="#ffffff" stroke-width="0.4"/>
<circle cx="260.6" cy="346.4" r="2.9" fill="#c0e3f8" stroke="#ffffff" stroke-width="0.4"/>
<circle cx="195" cy="355.7" r="2.9" fill="#c0e3f8" stroke="#ffffff" stroke-width="0.4"/>
<circle cx="104.8" cy="363.5" r="2.9" fill="#c0e3f8" stroke="#ffffff" stroke-width="0.4"/>
<circle cx="109.3" cy="370.8" r="2.9" fill="#c0e3f8" stroke="#ffffff" stroke-width="0.4"/>
<circle cx="106" cy="374.6" r="2.9" fill="#c0e3f8" stroke="#ffffff" stroke-width="0.4"/>
<circle cx="100.8" cy="381" r="2.9" fill="#c0e3f8" stroke="#ffffff" stroke-width="0.4"/>
<circle cx="92.9" cy="387.6" r="2.9" fill="#c0e3f8" stroke="#ffffff" stroke-width="0.4"/>
<circle cx="106" cy="383.6" r="2.9" fill="#c0e3f8" stroke="#ffffff" stroke-width="0.4"/>
<circle cx="111.3" cy="382.3" r="2.9" fill="#c0e3f8" stroke="#ffffff" stroke-width="0.4"/>
<circle cx="134.9" cy="387.6" r="2.9" fill="#c0e3f8" stroke="#ffffff" stroke-width="0.4"/>
<circle cx="140.2" cy="391.5" r="2.9" fill="#c0e3f8" stroke="#ffffff" stroke-width="0.4"/>
<circle cx="142.8" cy="395.4" r="2.9" fill="#c0e3f8" stroke="#ffffff" stroke-width="0.4"/>
<circle cx="136.2" cy="400.7" r="2.9" fill="#c0e3f8" stroke="#ffffff" stroke-width="0.4"/>
<circle cx="156.6" cy="400" r="2.9" fill="#c0e3f8" stroke="#ffffff" stroke-width="0.4"/>
<circle cx="131" cy="416.5" r="2.9" fill="#c0e3f8" stroke="#ffffff" stroke-width="0.4"/>
<circle cx="142.2" cy="417.1" r="2.9" fill="#c0e3f8" stroke="#ffffff" stroke-width="0.4"/>
<circle cx="125" cy="420" r="2.9" fill="#c0e3f8" stroke="#ffffff" stroke-width="0.4"/>
<circle cx="119" cy="430" r="2.9" fill="#c0e3f8" stroke="#ffffff" stroke-width="0.4"/>
<circle cx="126" cy="441" r="2.9" fill="#c0e3f8" stroke="#ffffff" stroke-width="0.4"/>
<circle cx="71" cy="445" r="2.9" fill="#c0e3f8" stroke="#ffffff" stroke-width="0.4"/>
<circle cx="77" cy="445" r="2.9" fill="#c0e3f8" stroke="#ffffff" stroke-width="0.4"/>
<circle cx="69" cy="440" r="2.9" fill="#c0e3f8" stroke="#ffffff" stroke-width="0.4"/>
<circle cx="78" cy="437" r="2.9" fill="#c0e3f8" stroke="#ffffff" stroke-width="0.4"/>
<path d="M97.55 419L141.05 419" stroke="#1a9b4b" stroke-width="1.7" fill="none" stroke-linecap="butt"/>
<path d="M141.05 419L144.35 394.7L154.75 326.9" stroke="#f7b9b9" stroke-width="2.0" fill="none" stroke-dasharray="9.5 1.8" stroke-linecap="butt"/>
<path d="M154.75 326.9L160.16 289.41" stroke="#f7b9b9" stroke-width="2.0" fill="none"/>
<path d="M161.45 280.5L162.34 289.72L157.99 289.09Z" fill="#f7b9b9"/>
<path d="M97.55 417.1L99.45 419L97.55 420.9L95.65 419Z" fill="#ffffff" stroke="#1a9b4b" stroke-width="0.8"/>
<path d="M110.45 417.1L112.35 419L110.45 420.9L108.55 419Z" fill="#ffffff" stroke="#1a9b4b" stroke-width="0.8"/>
<path d="M122.65 417.1L124.55 419L122.65 420.9L120.75 419Z" fill="#ffffff" stroke="#1a9b4b" stroke-width="0.8"/>
<path d="M141.05 417.1L142.95 419L141.05 420.9L139.15 419Z" fill="#ffffff" stroke="#1a9b4b" stroke-width="0.8"/>
<text x="96.85" y="427.3" font-size="6.3" fill="#1a9b4b" stroke="#1a9b4b" stroke-width="0.2" text-anchor="middle">4</text>
<text x="109.05" y="427.3" font-size="6.3" fill="#1a9b4b" stroke="#1a9b4b" stroke-width="0.2" text-anchor="middle">8</text>
<text x="127.25" y="427.3" font-size="6.3" fill="#1a9b4b" stroke="#1a9b4b" stroke-width="0.2" text-anchor="middle">12</text>
<text x="141.55" y="427.3" font-size="6.3" fill="#1a9b4b" stroke="#1a9b4b" stroke-width="0.2" text-anchor="middle">20</text>
<text transform="translate(169.24 294) scale(1.02 1)" font-size="10" font-weight="bold" fill="#e8212b" stroke="#e8212b" stroke-width="0.1" letter-spacing="0.21">To re-melting of</text>
<text transform="translate(168.71 305.2) scale(1.02 1)" font-size="10" font-weight="bold" fill="#e8212b" stroke="#e8212b" stroke-width="0.1" letter-spacing="0.28">1000 Ma 18% Melting restite</text>
<path d="M46.3 424.1L53.5 431.3M46.3 431.3L53.5 424.1" stroke="#000000" stroke-width="1.3" fill="none"/>
<path d="M69.5 439.9L76.7 447.1M69.5 447.1L76.7 439.9" stroke="#000000" stroke-width="1.3" fill="none"/>
<path d="M62.4 453L69.6 460.2M62.4 460.2L69.6 453" stroke="#000000" stroke-width="1.3" fill="none"/>
<path d="M51 468.1L58.2 475.3M51 475.3L58.2 468.1" stroke="#000000" stroke-width="1.3" fill="none"/>
<path d="M161.6 335L166.4 339.8L161.6 344.6L156.8 339.8Z" fill="#e8212b" stroke="#2a2018" stroke-width="1.2" stroke-linejoin="miter"/>
<path d="M148.7 342.6L153.5 347.4L148.7 352.2L143.9 347.4Z" fill="#e8212b" stroke="#2a2018" stroke-width="1.2" stroke-linejoin="miter"/>
<path d="M159 344.1L164 349.1L159 354.1L154 349.1Z" fill="#b24a9c" stroke="#2a2018" stroke-width="1.2" stroke-linejoin="miter"/>
<path d="M144.9 345.55L150 355.85L139.8 355.85Z" fill="#1e9ce9" stroke="#2a2018" stroke-width="1.2" stroke-linejoin="miter"/>
<path d="M149 349.05L154.1 359.35L143.9 359.35Z" fill="#1e9ce9" stroke="#2a2018" stroke-width="1.2" stroke-linejoin="miter"/>
<path d="M157 346.65L162.1 356.95L151.9 356.95Z" fill="#1e9ce9" stroke="#2a2018" stroke-width="1.2" stroke-linejoin="miter"/>
<path d="M161.7 347.85L166.8 358.15L156.6 358.15Z" fill="#1e9ce9" stroke="#2a2018" stroke-width="1.2" stroke-linejoin="miter"/>
<path d="M137.6 360.05L142.7 370.35L132.5 370.35Z" fill="#1e9ce9" stroke="#2a2018" stroke-width="1.2" stroke-linejoin="miter"/>
<path d="M141 362.85L146.1 373.15L135.9 373.15Z" fill="#1e9ce9" stroke="#2a2018" stroke-width="1.2" stroke-linejoin="miter"/>
<path d="M144.1 368.05L149.2 378.35L139 378.35Z" fill="#1e9ce9" stroke="#2a2018" stroke-width="1.2" stroke-linejoin="miter"/>
<path d="M147.4 365.25L152.5 375.55L142.3 375.55Z" fill="#1e9ce9" stroke="#2a2018" stroke-width="1.2" stroke-linejoin="miter"/>
<path d="M139 354.85L144.1 365.15L133.9 365.15Z" fill="#1e9ce9" stroke="#2a2018" stroke-width="1.2" stroke-linejoin="miter"/>
<path d="M192.3 340L197.1 344.8L192.3 349.6L187.5 344.8Z" fill="#e8212b" stroke="#2a2018" stroke-width="1.2" stroke-linejoin="miter"/>
<path d="M177.7 337.9L182.5 342.7L177.7 347.5L172.9 342.7Z" fill="#e8212b" stroke="#2a2018" stroke-width="1.2" stroke-linejoin="miter"/>
<path d="M170.1 344.3L174.9 349.1L170.1 353.9L165.3 349.1Z" fill="#e8212b" stroke="#2a2018" stroke-width="1.2" stroke-linejoin="miter"/>
<path d="M161.3 335.6L166.1 340.4L161.3 345.2L156.5 340.4Z" fill="#e8212b" stroke="#2a2018" stroke-width="1.2" stroke-linejoin="miter"/>
<path d="M140.8 336.1L145.6 340.9L140.8 345.7L136 340.9Z" fill="#e8212b" stroke="#2a2018" stroke-width="1.2" stroke-linejoin="miter"/>
<path d="M143.7 357.9L148.5 362.7L143.7 367.5L138.9 362.7Z" fill="#e8212b" stroke="#2a2018" stroke-width="1.2" stroke-linejoin="miter"/>
<path d="M148.5 343.2L153.3 348L148.5 352.8L143.7 348Z" fill="#e8212b" stroke="#2a2018" stroke-width="1.2" stroke-linejoin="miter"/>
<path d="M170.7 336.8L176 342.1L170.7 347.4L165.4 342.1Z" fill="#b24a9c" stroke="#2a2018" stroke-width="1.2" stroke-linejoin="miter"/>
<path d="M218.5 327.9L223.8 333.2L218.5 338.5L213.2 333.2Z" fill="#b24a9c" stroke="#2a2018" stroke-width="1.2" stroke-linejoin="miter"/>
<path d="M125.6 313.1L130.6 318.1L125.6 323.1L120.6 318.1Z" fill="#0b9a4c" stroke="#2a2018" stroke-width="1.2" stroke-linejoin="miter"/>
<path d="M131.5 316.1L136.5 321.1L131.5 326.1L126.5 321.1Z" fill="#0b9a4c" stroke="#2a2018" stroke-width="1.2" stroke-linejoin="miter"/>
<path d="M140.9 321.9L145.9 326.9L140.9 331.9L135.9 326.9Z" fill="#0b9a4c" stroke="#2a2018" stroke-width="1.2" stroke-linejoin="miter"/>
<path d="M187.6 308.5L192.6 313.5L187.6 318.5L182.6 313.5Z" fill="#0b9a4c" stroke="#2a2018" stroke-width="1.2" stroke-linejoin="miter"/>
<path d="M155.5 313.1L160.5 318.1L155.5 323.1L150.5 318.1Z" fill="#0b9a4c" stroke="#2a2018" stroke-width="1.2" stroke-linejoin="miter"/>
<path d="M160.1 312.5L165.1 317.5L160.1 322.5L155.1 317.5Z" fill="#0b9a4c" stroke="#2a2018" stroke-width="1.2" stroke-linejoin="miter"/>
<path d="M166 312.5L171 317.5L166 322.5L161 317.5Z" fill="#0b9a4c" stroke="#2a2018" stroke-width="1.2" stroke-linejoin="miter"/>
<path d="M156.6 316.6L161.6 321.6L156.6 326.6L151.6 321.6Z" fill="#0b9a4c" stroke="#2a2018" stroke-width="1.2" stroke-linejoin="miter"/>
<path d="M165.4 318.4L170.4 323.4L165.4 328.4L160.4 323.4Z" fill="#0b9a4c" stroke="#2a2018" stroke-width="1.2" stroke-linejoin="miter"/>
<path d="M159.6 322.5L164.6 327.5L159.6 332.5L154.6 327.5Z" fill="#0b9a4c" stroke="#2a2018" stroke-width="1.2" stroke-linejoin="miter"/>
<path d="M152.5 328.9L157.5 333.9L152.5 338.9L147.5 333.9Z" fill="#0b9a4c" stroke="#2a2018" stroke-width="1.2" stroke-linejoin="miter"/>
<path d="M147.9 335.4L152.9 340.4L147.9 345.4L142.9 340.4Z" fill="#0b9a4c" stroke="#2a2018" stroke-width="1.2" stroke-linejoin="miter"/>
<path d="M142 340.6L147 345.6L142 350.6L137 345.6Z" fill="#0b9a4c" stroke="#2a2018" stroke-width="1.2" stroke-linejoin="miter"/>
<path d="M154.3 341.2L159.3 346.2L154.3 351.2L149.3 346.2Z" fill="#0b9a4c" stroke="#2a2018" stroke-width="1.2" stroke-linejoin="miter"/>
<path d="M163.7 340L168.7 345L163.7 350L158.7 345Z" fill="#0b9a4c" stroke="#2a2018" stroke-width="1.2" stroke-linejoin="miter"/>
<path d="M169.5 324.8L174.5 329.8L169.5 334.8L164.5 329.8Z" fill="#0b9a4c" stroke="#2a2018" stroke-width="1.2" stroke-linejoin="miter"/>
<path d="M174.2 319L179.2 324L174.2 329L169.2 324Z" fill="#0b9a4c" stroke="#2a2018" stroke-width="1.2" stroke-linejoin="miter"/>
<path d="M176.5 326L181.5 331L176.5 336L171.5 331Z" fill="#0b9a4c" stroke="#2a2018" stroke-width="1.2" stroke-linejoin="miter"/>
<path d="M180.6 323.7L185.6 328.7L180.6 333.7L175.6 328.7Z" fill="#0b9a4c" stroke="#2a2018" stroke-width="1.2" stroke-linejoin="miter"/>
<path d="M180.6 331.8L185.6 336.8L180.6 341.8L175.6 336.8Z" fill="#0b9a4c" stroke="#2a2018" stroke-width="1.2" stroke-linejoin="miter"/>
<path d="M167.7 329.5L172.7 334.5L167.7 339.5L162.7 334.5Z" fill="#0b9a4c" stroke="#2a2018" stroke-width="1.2" stroke-linejoin="miter"/>
<path d="M164.3 314.9L169.3 319.9L164.3 324.9L159.3 319.9Z" fill="#0b9a4c" stroke="#2a2018" stroke-width="1.2" stroke-linejoin="miter"/>
<path d="M172.8 322.4L177.8 327.4L172.8 332.4L167.8 327.4Z" fill="#0b9a4c" stroke="#2a2018" stroke-width="1.2" stroke-linejoin="miter"/>
<path d="M122.55 386L137.49 289.89" stroke="#e8212b" stroke-width="2.0" fill="none"/>
<path d="M138.95 280.5L139.76 290.24L135.22 289.53Z" fill="#e8212b"/>
<path d="M167 368.45L172.1 378.75L161.9 378.75Z" fill="#1e9ce9" stroke="#2a2018" stroke-width="1.2" stroke-linejoin="miter"/>
<path d="M166.6 388.55L171.7 398.85L161.5 398.85Z" fill="#1e9ce9" stroke="#2a2018" stroke-width="1.2" stroke-linejoin="miter"/>
<path d="M140.1 400.65L145.2 410.95L135 410.95Z" fill="#1e9ce9" stroke="#2a2018" stroke-width="1.2" stroke-linejoin="miter"/>
<path d="M144.4 401.45L149.5 411.75L139.3 411.75Z" fill="#1e9ce9" stroke="#2a2018" stroke-width="1.2" stroke-linejoin="miter"/>
<rect x="113.55" y="374.75" width="9.9" height="9.9" fill="#fff200" stroke="#2a2018" stroke-width="1.2"/>
<rect x="112.95" y="364.25" width="9.9" height="9.9" fill="#fff200" stroke="#2a2018" stroke-width="1.2"/>
<rect x="119.45" y="365.55" width="9.9" height="9.9" fill="#fff200" stroke="#2a2018" stroke-width="1.2"/>
<rect x="112.25" y="356.95" width="9.9" height="9.9" fill="#fff200" stroke="#2a2018" stroke-width="1.2"/>
<rect x="120.75" y="355.65" width="9.9" height="9.9" fill="#fff200" stroke="#2a2018" stroke-width="1.2"/>
<rect x="123.45" y="360.25" width="9.9" height="9.9" fill="#fff200" stroke="#2a2018" stroke-width="1.2"/>
<rect x="129.95" y="347.75" width="9.9" height="9.9" fill="#fff200" stroke="#2a2018" stroke-width="1.2"/>
<rect x="126.05" y="353.05" width="9.9" height="9.9" fill="#fff200" stroke="#2a2018" stroke-width="1.2"/>
<path d="M95.4 368.45L100.5 378.75L90.3 378.75Z" fill="#f18a1b" stroke="#2a2018" stroke-width="1.2" stroke-linejoin="miter"/>
<path d="M132.6 352.25L137.7 362.55L127.5 362.55Z" fill="#f18a1b" stroke="#2a2018" stroke-width="1.2" stroke-linejoin="miter"/>
<path d="M131.8 348.35L136.9 358.65L126.7 358.65Z" fill="#f18a1b" stroke="#2a2018" stroke-width="1.2" stroke-linejoin="miter"/>
<path d="M130.4 342.65L135.5 352.95L125.3 352.95Z" fill="#f18a1b" stroke="#2a2018" stroke-width="1.2" stroke-linejoin="miter"/>
<circle cx="156.6" cy="368.6" r="4.85" fill="#f18a1b" stroke="#2a2018" stroke-width="1.15"/>
<circle cx="152.6" cy="371.3" r="4.85" fill="#f18a1b" stroke="#2a2018" stroke-width="1.15"/>
<circle cx="142.8" cy="369.9" r="4.85" fill="#f18a1b" stroke="#2a2018" stroke-width="1.15"/>
<circle cx="118.9" cy="375.1" r="4.85" fill="#f18a1b" stroke="#2a2018" stroke-width="1.15"/>
<circle cx="127" cy="377.7" r="4.85" fill="#f18a1b" stroke="#2a2018" stroke-width="1.15"/>
<circle cx="135.6" cy="375.1" r="4.85" fill="#f18a1b" stroke="#2a2018" stroke-width="1.15"/>
<circle cx="137.3" cy="381" r="4.85" fill="#f18a1b" stroke="#2a2018" stroke-width="1.15"/>
<rect x="112.8" y="414.2" width="9.6" height="9.6" fill="#fff200" stroke="#e8212b" stroke-width="1.3"/>
<path d="M112.8 414.2L122.4 423.8M112.8 423.8L122.4 414.2" stroke="#e8212b" stroke-width="1.1" fill="none"/>
<path d="M144.35 391.7L147.35 394.7L144.35 397.7L141.35 394.7Z" fill="#ffffff" stroke="#f29a9a" stroke-width="0.9"/>
<path d="M154.75 323.9L157.75 326.9L154.75 329.9L151.75 326.9Z" fill="#ffffff" stroke="#f29a9a" stroke-width="0.9"/>
<text x="151.65" y="396" font-size="6.3" fill="#e8475a" stroke="#e8475a" stroke-width="0.2" text-anchor="middle">10</text>
<text x="147.45" y="325.9" font-size="6.3" fill="#e8475a" stroke="#e8475a" stroke-width="0.2" text-anchor="middle">30</text>
<rect x="28.2" y="279.3" width="304.9" height="232.3" fill="none" stroke="#3a3030" stroke-width="1.25"/>
<path d="M43.45 511.6v-2.9M58.69 511.6v-2.9M73.94 511.6v-2.9M89.18 511.6v-2.9M104.43 511.6v-4M119.67 511.6v-2.9M134.91 511.6v-2.9M150.16 511.6v-2.9M165.41 511.6v-2.9M180.65 511.6v-4M195.9 511.6v-2.9M211.14 511.6v-2.9M226.38 511.6v-2.9M241.63 511.6v-2.9M256.88 511.6v-4M272.12 511.6v-2.9M287.37 511.6v-2.9M302.61 511.6v-2.9M317.86 511.6v-2.9M28.2 290.92h2.9M28.2 302.53h2.9M28.2 314.15h2.9M28.2 325.76h2.9M28.2 337.38h4M28.2 348.99h2.9M28.2 360.61h2.9M28.2 372.22h2.9M28.2 383.84h2.9M28.2 395.45h4M28.2 407.07h2.9M28.2 418.68h2.9M28.2 430.3h2.9M28.2 441.91h2.9M28.2 453.52h4M28.2 465.14h2.9M28.2 476.75h2.9M28.2 488.37h2.9M28.2 499.99h2.9" stroke="#3a3030" stroke-width="1" fill="none"/>
<text transform="translate(10.2 285.3) scale(1.06 1)" font-size="13.1" fill="#231815" stroke="#231815" stroke-width="0.12" letter-spacing="0.88">25</text>
<text transform="translate(10.4 341.8) scale(1.06 1)" font-size="13.1" fill="#231815" stroke="#231815" stroke-width="0.12" letter-spacing="0.47">20</text>
<text transform="translate(10.94 400.1) scale(1.06 1)" font-size="13.1" fill="#231815" stroke="#231815" stroke-width="0.12" letter-spacing="0.18">15</text>
<text transform="translate(10.94 457.3) scale(1.06 1)" font-size="13.1" fill="#231815" stroke="#231815" stroke-width="0.12" letter-spacing="-0.04">10</text>
<text transform="translate(17.1 514.9) scale(0.9499 1)" font-size="13.1" fill="#231815" stroke="#231815" stroke-width="0.12">5</text>
<text transform="translate(18.21 525.7) scale(1.06 1)" font-size="13.1" fill="#231815" stroke="#231815" stroke-width="0.12" letter-spacing="0.56">0.0</text>
<text transform="translate(94.43 525.7) scale(1.06 1)" font-size="13.1" fill="#231815" stroke="#231815" stroke-width="0.12" letter-spacing="0.63">0.2</text>
<text transform="translate(170.66 525.7) scale(1.06 1)" font-size="13.1" fill="#231815" stroke="#231815" stroke-width="0.12" letter-spacing="0.49">0.4</text>
<text transform="translate(246.88 525.7) scale(1.06 1)" font-size="13.1" fill="#231815" stroke="#231815" stroke-width="0.12" letter-spacing="0.59">0.6</text>
<text transform="translate(323.11 525.7) scale(1.06 1)" font-size="13.1" fill="#231815" stroke="#231815" stroke-width="0.12" letter-spacing="0.59">0.8</text>
<text transform="translate(163.27 538.1) scale(1.06 1)" font-size="13" fill="#231815" stroke="#231815" stroke-width="0.12" letter-spacing="0.54">Lu/Hf</text>
<text transform="translate(10.25 402.05) rotate(-90)" font-size="14" fill="#231815" letter-spacing="0.63">Hf</text>
<text transform="translate(10.25 408.37) rotate(-90) scale(0.8298 1)" font-size="13.2" fill="#231815">ε</text>
<text x="41" y="304.1" font-size="20.4" fill="#231815" stroke="#231815" stroke-width="0.15">D</text>
</g>
<text transform="translate(29.81 564.1) scale(1.1 1)" font-size="16.2" font-weight="bold" fill="#231815" stroke="#231815" stroke-width="0.3" letter-spacing="0.2">Forearc basalt</text>
<path d="M33.6 574.15L38.75 579.3L33.6 584.45L28.45 579.3Z" fill="#0b9a4c" stroke="#2a2018" stroke-width="1.0" stroke-linejoin="miter"/>
<text transform="translate(40.19 584.7) scale(1.1 1)" font-size="15.4" fill="#231815" stroke="#231815" stroke-width="0.3" letter-spacing="0.5">U1440B U-FAB</text>
<path d="M170.6 573.55L175.75 578.7L170.6 583.85L165.45 578.7Z" fill="#b24a9c" stroke="#2a2018" stroke-width="1.0" stroke-linejoin="miter"/>
<text transform="translate(177.89 584.6) scale(1.1 1)" font-size="15.4" fill="#231815" stroke="#231815" stroke-width="0.3" letter-spacing="0.38">U1441A L-FAB</text>
<path d="M33.6 592.25L38.75 597.4L33.6 602.55L28.45 597.4Z" fill="#e8212b" stroke="#2a2018" stroke-width="1.0" stroke-linejoin="miter"/>
<text transform="translate(40.19 602.9) scale(1.1 1)" font-size="15.4" fill="#231815" stroke="#231815" stroke-width="0.3" letter-spacing="0.58">U1440B L-FAB</text>
<circle cx="170.6" cy="596.9" r="4.7" fill="#f18a1b" stroke="#2a2018" stroke-width="1.0"/>
<text transform="translate(178.3 601) scale(1.1 1)" font-size="15.8" fill="#4b3f3d" stroke="#4b3f3d" stroke-width="0.3" letter-spacing="0.26">Izu Trench Wall</text>
<text transform="translate(29.28 623.7) scale(1.1 1)" font-size="16" font-weight="bold" fill="#231815" stroke="#231815" stroke-width="0.3" letter-spacing="0.15">West Philippine Basin MORB</text>
<rect x="32.6" y="634.9" width="9.2" height="9.2" fill="#fff200" stroke="#2a2018" stroke-width="1.0"/>
<text transform="translate(44.81 645.6) scale(1.1 1)" font-size="15.4" fill="#231815" stroke="#231815" stroke-width="0.3" letter-spacing="0.17">447</text>
<rect x="82.6" y="636.3" width="9.2" height="9.2" fill="#fff200" stroke="#e8212b" stroke-width="1.3"/>
<path d="M82.6 636.3L91.8 645.5M82.6 645.5L91.8 636.3" stroke="#e8212b" stroke-width="1.1" fill="none"/>
<text transform="translate(94.35 645.6) scale(1.1 1)" font-size="15.4" fill="#231815" stroke="#231815" stroke-width="0.3" letter-spacing="0.14">291</text>
<path d="M136.5 635.7L141.6 646.1L131.4 646.1Z" fill="#f18a1b" stroke="#2a2018" stroke-width="1.0" stroke-linejoin="miter"/>
<text transform="translate(144.61 645.6) scale(1.1 1)" font-size="15.4" fill="#231815" stroke="#231815" stroke-width="0.3" letter-spacing="-0.05">1201</text>
<path d="M426.3 559.3L431.5 569.1L421.1 569.1Z" fill="#1e9ce9" stroke="#2a2018" stroke-width="1.0" stroke-linejoin="miter"/>
<text transform="translate(434.89 568.4) scale(1.1 1)" font-size="15.4" fill="#231815" stroke="#231815" stroke-width="0.3" letter-spacing="0.6">U1438 Basalts</text>
<path d="M422.5 581.1L429.7 588.3M422.5 588.3L429.7 581.1" stroke="#000000" stroke-width="1.1" fill="none"/>
<text transform="translate(435.13 589.8) scale(1.1 1)" font-size="15.4" fill="#231815" stroke="#231815" stroke-width="0.3" letter-spacing="0.48">WPB OIB (Oki Daito Plume)</text>
<rect x="421.5" y="598.9" width="9.4" height="9.4" fill="#8a7b74" stroke="#2a2018" stroke-width="1.2"/>
<path d="M421.5 598.9L430.9 608.3M421.5 608.3L430.9 598.9M426.2 598.9V608.3M421.5 603.6H430.9" stroke="#2a2018" stroke-width="0.9" fill="none"/>
<text transform="translate(436.04 609.2) scale(1.1 1)" font-size="15.4" fill="#231815" stroke="#231815" stroke-width="0.3" letter-spacing="0.55">Izu Forearc Mesozoic Basalts</text>
<circle cx="425.9" cy="624.1" r="4.6" fill="#cfe8f8"/>
<text transform="translate(436.21 628.7) scale(1.1 1)" font-size="15.4" fill="#231815" stroke="#231815" stroke-width="0.3" letter-spacing="0.53">Pacific MORB</text>
<circle cx="425.9" cy="643.9" r="4.5" fill="#fdf6b6" stroke="#c9c7b4" stroke-width="0.5"/>
<text transform="translate(436.44 648.8) scale(1.1 1)" font-size="15.4" fill="#231815" stroke="#231815" stroke-width="0.3" letter-spacing="0.61">Indian MORB</text>
</svg></body></html>
